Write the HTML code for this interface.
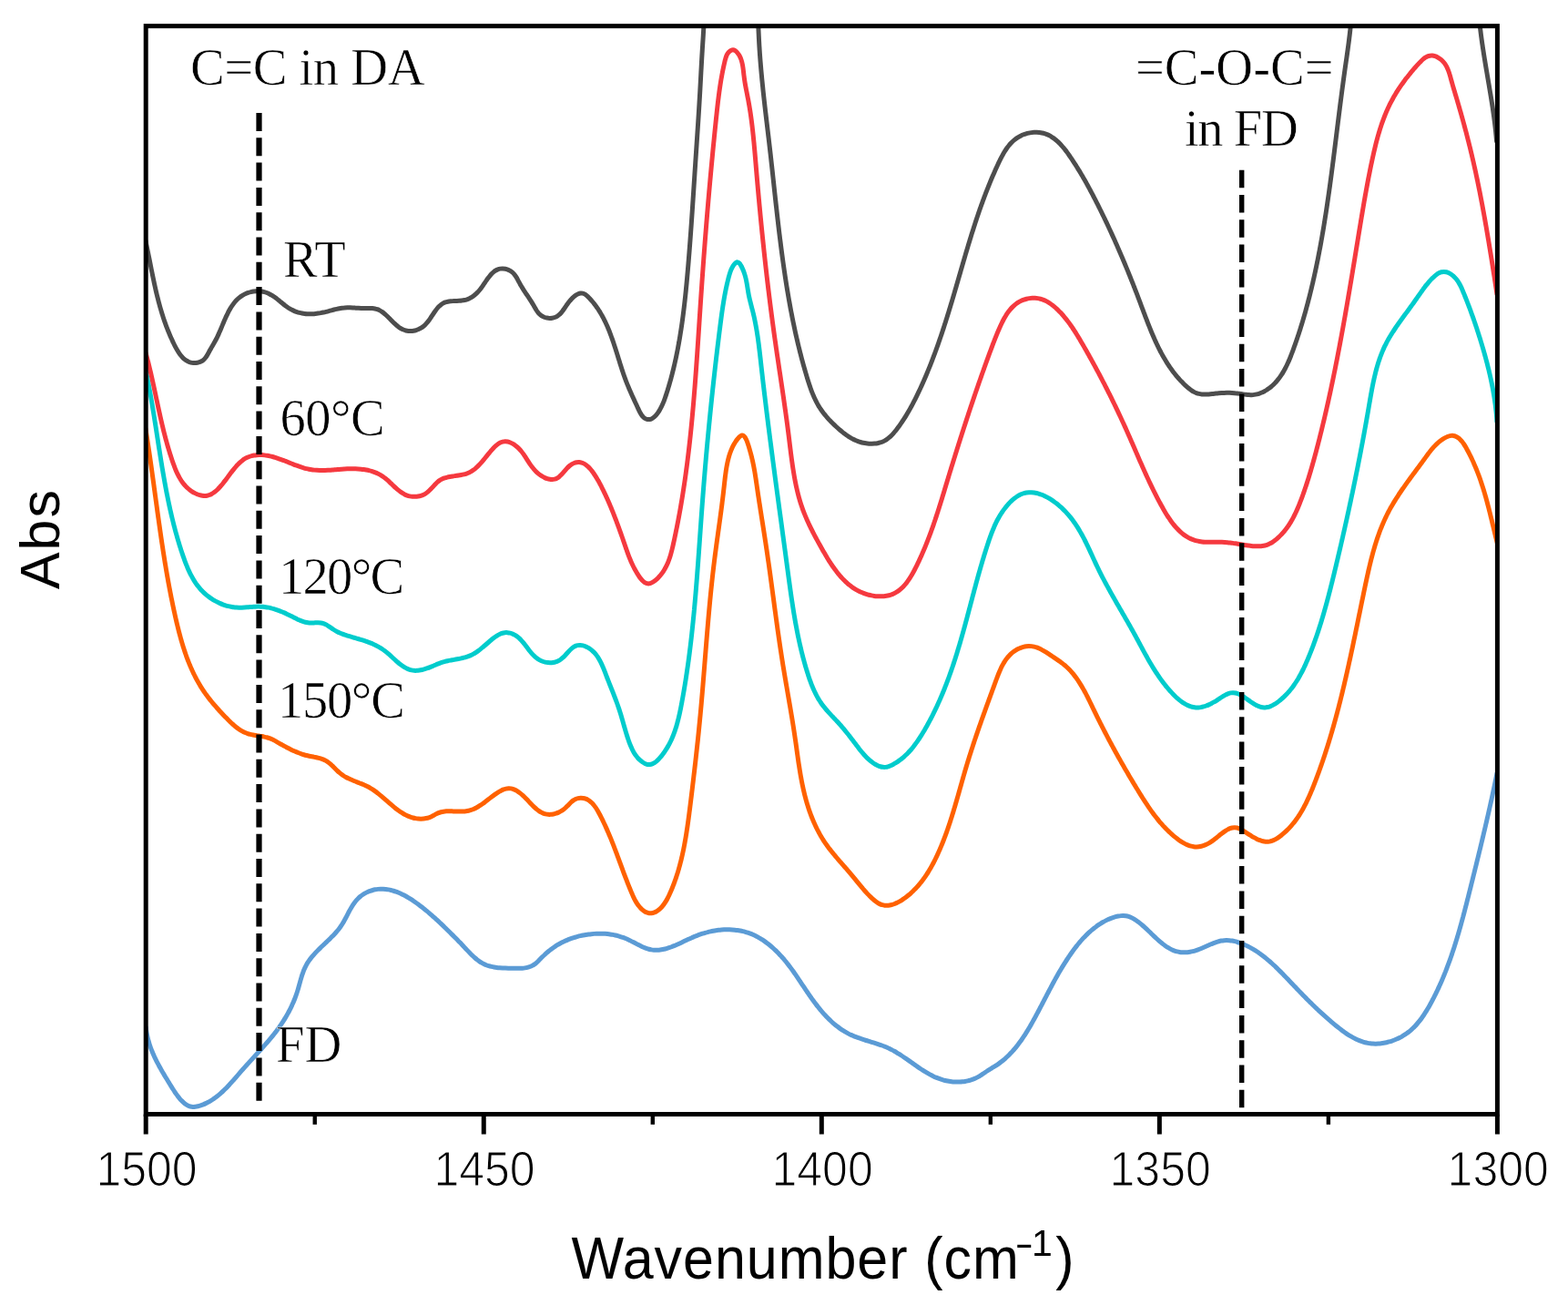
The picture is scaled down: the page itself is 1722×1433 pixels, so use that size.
<!DOCTYPE html>
<html><head><meta charset="utf-8"><title>FTIR spectra</title>
<style>
html,body{margin:0;padding:0;background:#fff;width:1722px;height:1433px;overflow:hidden}
svg{display:block}
.c path{fill:none;stroke-width:5.0;stroke-linejoin:round;stroke-linecap:round}
.sf{font-family:"Liberation Serif","Times New Roman",serif;font-size:56.5px;fill:#000;stroke:#fff;stroke-width:0.6px;paint-order:fill}
.tk{font-family:"Liberation Sans",Arial,sans-serif;font-size:50px;fill:#000;text-anchor:middle;stroke:#fff;stroke-width:1.1px;paint-order:fill}
.ax{font-family:"Liberation Sans",Arial,sans-serif;font-size:61px;fill:#000}
</style></head>
<body>
<svg xmlns="http://www.w3.org/2000/svg" width="1722" height="1433" viewBox="0 0 1722 1433">
<defs><clipPath id="pa"><rect x="160.2" y="28.6" width="1484.20" height="1194.90"/></clipPath></defs>
<rect x="0" y="0" width="1722" height="1433" fill="#fff"/>
<g class="c" clip-path="url(#pa)">
<path d="M160.10,1127.84 C160.24,1128.89 160.36,1129.95 160.52,1130.99 C160.67,1132.02 160.84,1133.05 161.03,1134.07 C161.22,1135.09 161.42,1136.10 161.63,1137.10 C161.85,1138.10 162.08,1139.09 162.32,1140.08 C162.57,1141.06 162.83,1142.03 163.10,1143.00 C163.37,1143.97 163.66,1144.93 163.95,1145.88 C164.25,1146.83 164.56,1147.77 164.89,1148.71 C165.21,1149.65 165.54,1150.58 165.89,1151.51 C166.23,1152.44 166.59,1153.35 166.96,1154.27 C167.33,1155.18 167.71,1156.09 168.09,1157.00 C168.48,1157.90 168.88,1158.80 169.29,1159.69 C169.70,1160.59 170.12,1161.48 170.54,1162.37 C170.97,1163.25 171.40,1164.14 171.84,1165.02 C172.29,1165.90 172.74,1166.77 173.20,1167.65 C173.65,1168.52 174.12,1169.39 174.59,1170.26 C175.06,1171.13 175.54,1172.00 176.03,1172.86 C176.51,1173.73 177.00,1174.59 177.50,1175.46 C177.99,1176.32 178.50,1177.18 179.00,1178.04 C179.51,1178.91 180.02,1179.77 180.53,1180.63 C181.05,1181.49 181.57,1182.36 182.09,1183.22 C182.61,1184.08 183.14,1184.95 183.67,1185.81 C184.19,1186.68 184.73,1187.55 185.26,1188.41 C185.79,1189.28 186.33,1190.16 186.86,1191.03 C187.40,1191.90 187.94,1192.78 188.48,1193.65 C189.02,1194.53 189.56,1195.40 190.12,1196.27 C190.67,1197.14 191.23,1198.01 191.80,1198.87 C192.37,1199.72 192.95,1200.57 193.55,1201.41 C194.14,1202.24 194.75,1203.07 195.37,1203.88 C196.00,1204.69 196.64,1205.49 197.30,1206.26 C197.96,1207.03 198.64,1207.79 199.34,1208.52 C200.04,1209.25 200.76,1209.97 201.52,1210.64 C202.27,1211.31 203.04,1211.97 203.84,1212.54 C204.64,1213.11 205.46,1213.65 206.32,1214.06 C207.17,1214.47 208.06,1214.80 208.97,1215.03 C209.87,1215.25 210.81,1215.36 211.75,1215.40 C212.69,1215.44 213.66,1215.37 214.62,1215.26 C215.59,1215.15 216.56,1214.95 217.52,1214.72 C218.50,1214.49 219.47,1214.19 220.42,1213.88 C221.37,1213.56 222.32,1213.20 223.25,1212.83 C224.18,1212.45 225.09,1212.05 225.99,1211.63 C226.89,1211.21 227.77,1210.76 228.65,1210.30 C229.52,1209.83 230.37,1209.35 231.22,1208.84 C232.06,1208.33 232.89,1207.81 233.71,1207.26 C234.53,1206.72 235.34,1206.16 236.14,1205.58 C236.94,1205.00 237.72,1204.40 238.50,1203.79 C239.27,1203.18 240.04,1202.55 240.80,1201.91 C241.55,1201.27 242.30,1200.62 243.04,1199.95 C243.78,1199.29 244.51,1198.61 245.24,1197.92 C245.96,1197.23 246.68,1196.53 247.39,1195.82 C248.10,1195.11 248.80,1194.38 249.50,1193.66 C250.20,1192.93 250.89,1192.19 251.58,1191.45 C252.27,1190.71 252.96,1189.96 253.64,1189.20 C254.32,1188.45 254.99,1187.69 255.67,1186.93 C256.34,1186.16 257.01,1185.40 257.68,1184.63 C258.35,1183.86 259.02,1183.08 259.68,1182.31 C260.35,1181.54 261.02,1180.77 261.68,1179.99 C262.35,1179.22 263.01,1178.45 263.68,1177.68 C264.34,1176.91 265.01,1176.14 265.68,1175.37 C266.35,1174.61 267.02,1173.85 267.69,1173.09 C268.36,1172.33 269.04,1171.58 269.71,1170.83 C270.39,1170.07 271.06,1169.33 271.74,1168.58 C272.42,1167.83 273.09,1167.09 273.77,1166.35 C274.45,1165.61 275.13,1164.87 275.81,1164.13 C276.48,1163.39 277.16,1162.65 277.84,1161.91 C278.52,1161.18 279.20,1160.44 279.87,1159.71 C280.55,1158.97 281.22,1158.24 281.90,1157.51 C282.57,1156.77 283.25,1156.04 283.92,1155.30 C284.59,1154.57 285.26,1153.84 285.93,1153.10 C286.59,1152.36 287.26,1151.63 287.92,1150.89 C288.59,1150.15 289.25,1149.41 289.91,1148.67 C290.56,1147.93 291.22,1147.19 291.87,1146.44 C292.52,1145.70 293.17,1144.95 293.82,1144.20 C294.46,1143.45 295.10,1142.69 295.74,1141.94 C296.38,1141.18 297.01,1140.42 297.64,1139.66 C298.27,1138.89 298.90,1138.13 299.51,1137.36 C300.13,1136.58 300.75,1135.81 301.36,1135.03 C301.97,1134.25 302.57,1133.46 303.17,1132.67 C303.77,1131.88 304.36,1131.09 304.95,1130.29 C305.54,1129.49 306.12,1128.68 306.69,1127.87 C307.27,1127.05 307.83,1126.24 308.40,1125.41 C308.96,1124.59 309.51,1123.76 310.06,1122.93 C310.61,1122.09 311.15,1121.25 311.68,1120.40 C312.21,1119.56 312.73,1118.71 313.25,1117.85 C313.77,1116.99 314.28,1116.13 314.78,1115.26 C315.28,1114.39 315.77,1113.52 316.25,1112.64 C316.73,1111.76 317.21,1110.88 317.67,1109.99 C318.14,1109.10 318.60,1108.20 319.04,1107.30 C319.49,1106.40 319.93,1105.50 320.35,1104.59 C320.78,1103.68 321.20,1102.76 321.60,1101.84 C322.01,1100.92 322.41,1099.99 322.79,1099.06 C323.18,1098.13 323.55,1097.19 323.92,1096.25 C324.28,1095.30 324.63,1094.36 324.97,1093.40 C325.31,1092.45 325.64,1091.49 325.96,1090.53 C326.28,1089.57 326.58,1088.60 326.88,1087.63 C327.18,1086.66 327.46,1085.68 327.74,1084.70 C328.02,1083.72 328.29,1082.74 328.57,1081.76 C328.84,1080.78 329.11,1079.80 329.38,1078.83 C329.65,1077.85 329.92,1076.87 330.20,1075.90 C330.48,1074.93 330.76,1073.96 331.06,1073.00 C331.35,1072.04 331.65,1071.08 331.97,1070.13 C332.29,1069.18 332.61,1068.24 332.96,1067.31 C333.31,1066.38 333.67,1065.46 334.05,1064.55 C334.44,1063.64 334.84,1062.74 335.27,1061.86 C335.70,1060.97 336.16,1060.10 336.64,1059.25 C337.12,1058.39 337.63,1057.55 338.16,1056.72 C338.69,1055.90 339.24,1055.08 339.82,1054.28 C340.39,1053.48 340.99,1052.69 341.60,1051.91 C342.21,1051.12 342.85,1050.36 343.49,1049.60 C344.14,1048.84 344.80,1048.09 345.47,1047.34 C346.15,1046.60 346.84,1045.87 347.53,1045.14 C348.23,1044.41 348.94,1043.69 349.65,1042.98 C350.37,1042.26 351.09,1041.55 351.82,1040.85 C352.54,1040.14 353.27,1039.44 354.01,1038.74 C354.74,1038.05 355.48,1037.35 356.21,1036.66 C356.94,1035.97 357.68,1035.28 358.41,1034.58 C359.13,1033.89 359.86,1033.20 360.58,1032.51 C361.30,1031.82 362.02,1031.13 362.73,1030.43 C363.44,1029.74 364.14,1029.04 364.83,1028.33 C365.52,1027.62 366.21,1026.91 366.88,1026.19 C367.55,1025.47 368.22,1024.75 368.87,1024.01 C369.52,1023.27 370.16,1022.52 370.78,1021.76 C371.41,1021.00 372.02,1020.23 372.62,1019.44 C373.21,1018.65 373.79,1017.85 374.36,1017.03 C374.92,1016.21 375.46,1015.37 375.99,1014.52 C376.53,1013.67 377.04,1012.80 377.54,1011.92 C378.04,1011.04 378.53,1010.14 379.02,1009.25 C379.50,1008.35 379.98,1007.44 380.45,1006.53 C380.93,1005.62 381.40,1004.71 381.87,1003.79 C382.35,1002.88 382.82,1001.97 383.31,1001.06 C383.79,1000.16 384.28,999.26 384.78,998.37 C385.28,997.48 385.79,996.59 386.32,995.72 C386.84,994.86 387.38,994.00 387.94,993.17 C388.50,992.33 389.08,991.51 389.69,990.71 C390.29,989.92 390.92,989.14 391.58,988.40 C392.23,987.65 392.92,986.93 393.64,986.24 C394.35,985.55 395.11,984.89 395.89,984.26 C396.67,983.63 397.49,983.04 398.32,982.48 C399.16,981.92 400.03,981.40 400.91,980.91 C401.80,980.42 402.70,979.96 403.62,979.55 C404.54,979.13 405.48,978.75 406.42,978.41 C407.36,978.07 408.32,977.76 409.28,977.50 C410.23,977.23 411.20,977.01 412.17,976.82 C413.12,976.64 414.09,976.50 415.05,976.39 C416.01,976.28 416.97,976.22 417.93,976.19 C418.89,976.16 419.85,976.17 420.81,976.21 C421.77,976.25 422.72,976.33 423.68,976.43 C424.63,976.54 425.58,976.68 426.53,976.85 C427.48,977.03 428.43,977.23 429.37,977.46 C430.32,977.69 431.26,977.95 432.20,978.24 C433.14,978.52 434.07,978.84 435.00,979.17 C435.94,979.51 436.86,979.87 437.79,980.26 C438.71,980.64 439.63,981.05 440.55,981.48 C441.46,981.90 442.38,982.35 443.28,982.82 C444.19,983.29 445.09,983.77 445.99,984.28 C446.89,984.78 447.78,985.30 448.67,985.83 C449.55,986.36 450.43,986.91 451.31,987.47 C452.18,988.03 453.05,988.61 453.92,989.19 C454.78,989.78 455.64,990.37 456.49,990.98 C457.34,991.58 458.18,992.19 459.02,992.81 C459.85,993.43 460.68,994.06 461.51,994.69 C462.33,995.32 463.14,995.95 463.95,996.59 C464.76,997.23 465.55,997.87 466.35,998.51 C467.14,999.15 467.92,999.79 468.70,1000.44 C469.47,1001.08 470.24,1001.72 471.00,1002.37 C471.76,1003.02 472.52,1003.66 473.27,1004.31 C474.01,1004.96 474.76,1005.61 475.49,1006.26 C476.23,1006.91 476.96,1007.57 477.69,1008.22 C478.42,1008.88 479.14,1009.53 479.86,1010.19 C480.57,1010.85 481.29,1011.51 482.00,1012.17 C482.71,1012.83 483.41,1013.50 484.12,1014.16 C484.82,1014.83 485.52,1015.49 486.22,1016.16 C486.92,1016.83 487.62,1017.51 488.32,1018.18 C489.01,1018.85 489.71,1019.53 490.40,1020.21 C491.09,1020.89 491.79,1021.57 492.48,1022.25 C493.17,1022.93 493.86,1023.62 494.55,1024.31 C495.25,1024.99 495.94,1025.69 496.63,1026.38 C497.33,1027.07 498.03,1027.77 498.72,1028.47 C499.42,1029.17 500.12,1029.87 500.81,1030.57 C501.51,1031.28 502.21,1031.99 502.91,1032.70 C503.60,1033.41 504.30,1034.13 504.99,1034.85 C505.69,1035.57 506.38,1036.29 507.07,1037.02 C507.76,1037.75 508.45,1038.48 509.14,1039.22 C509.83,1039.96 510.51,1040.70 511.20,1041.44 C511.88,1042.17 512.57,1042.91 513.26,1043.65 C513.95,1044.38 514.64,1045.11 515.34,1045.83 C516.03,1046.55 516.73,1047.27 517.44,1047.97 C518.15,1048.67 518.86,1049.36 519.59,1050.03 C520.31,1050.70 521.04,1051.37 521.78,1052.01 C522.53,1052.64 523.28,1053.27 524.05,1053.86 C524.81,1054.46 525.59,1055.04 526.38,1055.58 C527.18,1056.13 527.99,1056.66 528.81,1057.15 C529.64,1057.64 530.48,1058.10 531.34,1058.53 C532.20,1058.96 533.09,1059.35 533.99,1059.71 C534.89,1060.07 535.81,1060.38 536.75,1060.67 C537.69,1060.96 538.66,1061.21 539.63,1061.43 C540.60,1061.65 541.60,1061.84 542.59,1062.01 C543.60,1062.18 544.62,1062.32 545.64,1062.44 C546.66,1062.57 547.70,1062.66 548.74,1062.75 C549.78,1062.84 550.83,1062.90 551.88,1062.96 C552.93,1063.01 553.99,1063.05 555.04,1063.08 C556.10,1063.12 557.16,1063.14 558.21,1063.16 C559.27,1063.19 560.32,1063.20 561.37,1063.22 C562.42,1063.24 563.46,1063.26 564.50,1063.27 C565.53,1063.29 566.56,1063.31 567.59,1063.31 C568.60,1063.32 569.61,1063.32 570.62,1063.29 C571.61,1063.26 572.60,1063.23 573.58,1063.15 C574.55,1063.08 575.51,1062.99 576.46,1062.85 C577.40,1062.71 578.33,1062.54 579.25,1062.32 C580.16,1062.10 581.06,1061.85 581.93,1061.52 C582.81,1061.20 583.67,1060.84 584.50,1060.40 C585.34,1059.96 586.15,1059.45 586.94,1058.90 C587.74,1058.33 588.50,1057.69 589.25,1057.03 C590.01,1056.36 590.75,1055.64 591.48,1054.92 C592.22,1054.20 592.94,1053.45 593.66,1052.72 C594.39,1052.00 595.11,1051.27 595.84,1050.56 C596.57,1049.86 597.30,1049.16 598.03,1048.48 C598.76,1047.80 599.50,1047.13 600.25,1046.48 C600.99,1045.82 601.74,1045.18 602.50,1044.56 C603.26,1043.93 604.02,1043.32 604.80,1042.72 C605.57,1042.12 606.36,1041.54 607.15,1040.97 C607.95,1040.40 608.76,1039.85 609.58,1039.31 C610.40,1038.77 611.24,1038.24 612.09,1037.73 C612.94,1037.22 613.80,1036.73 614.67,1036.25 C615.54,1035.77 616.43,1035.30 617.32,1034.85 C618.22,1034.40 619.13,1033.97 620.04,1033.55 C620.96,1033.13 621.89,1032.72 622.82,1032.33 C623.76,1031.94 624.70,1031.57 625.65,1031.21 C626.60,1030.85 627.56,1030.51 628.52,1030.18 C629.49,1029.86 630.46,1029.54 631.44,1029.25 C632.41,1028.95 633.40,1028.67 634.38,1028.41 C635.37,1028.14 636.36,1027.89 637.35,1027.66 C638.35,1027.43 639.35,1027.21 640.35,1027.01 C641.35,1026.81 642.35,1026.62 643.35,1026.46 C644.36,1026.29 645.36,1026.13 646.37,1026.00 C647.37,1025.86 648.38,1025.74 649.38,1025.64 C650.38,1025.54 651.39,1025.45 652.39,1025.38 C653.39,1025.31 654.39,1025.26 655.39,1025.22 C656.38,1025.18 657.38,1025.16 658.37,1025.16 C659.35,1025.16 660.34,1025.17 661.32,1025.20 C662.30,1025.23 663.28,1025.28 664.25,1025.34 C665.22,1025.41 666.18,1025.49 667.14,1025.59 C668.10,1025.69 669.06,1025.80 670.01,1025.94 C670.97,1026.08 671.92,1026.23 672.86,1026.41 C673.81,1026.58 674.76,1026.78 675.70,1026.99 C676.64,1027.21 677.58,1027.44 678.52,1027.69 C679.46,1027.95 680.40,1028.22 681.34,1028.52 C682.28,1028.82 683.22,1029.13 684.15,1029.47 C685.10,1029.81 686.03,1030.17 686.97,1030.56 C687.92,1030.94 688.86,1031.35 689.79,1031.78 C690.74,1032.21 691.69,1032.66 692.63,1033.13 C693.58,1033.60 694.53,1034.09 695.47,1034.58 C696.42,1035.08 697.37,1035.58 698.32,1036.08 C699.27,1036.58 700.22,1037.08 701.18,1037.57 C702.13,1038.05 703.08,1038.53 704.03,1038.99 C704.97,1039.44 705.92,1039.88 706.88,1040.29 C707.82,1040.69 708.76,1041.07 709.71,1041.40 C710.65,1041.73 711.59,1042.04 712.54,1042.29 C713.47,1042.53 714.41,1042.74 715.34,1042.89 C716.27,1043.05 717.21,1043.16 718.14,1043.23 C719.06,1043.30 719.99,1043.32 720.92,1043.31 C721.84,1043.31 722.77,1043.25 723.69,1043.17 C724.61,1043.09 725.53,1042.97 726.45,1042.82 C727.37,1042.67 728.29,1042.49 729.21,1042.28 C730.13,1042.07 731.05,1041.83 731.96,1041.57 C732.88,1041.31 733.80,1041.02 734.72,1040.71 C735.64,1040.40 736.55,1040.07 737.47,1039.73 C738.39,1039.38 739.31,1039.01 740.23,1038.63 C741.15,1038.25 742.07,1037.85 742.99,1037.45 C743.91,1037.04 744.84,1036.63 745.76,1036.20 C746.69,1035.78 747.61,1035.34 748.54,1034.91 C749.47,1034.47 750.40,1034.03 751.33,1033.59 C752.27,1033.14 753.20,1032.70 754.14,1032.26 C755.08,1031.82 756.02,1031.38 756.96,1030.94 C757.91,1030.51 758.86,1030.08 759.81,1029.66 C760.76,1029.25 761.71,1028.83 762.67,1028.44 C763.63,1028.04 764.59,1027.66 765.56,1027.29 C766.53,1026.92 767.50,1026.56 768.47,1026.22 C769.44,1025.88 770.42,1025.55 771.40,1025.24 C772.38,1024.93 773.36,1024.63 774.35,1024.35 C775.33,1024.07 776.32,1023.80 777.31,1023.55 C778.30,1023.30 779.29,1023.07 780.28,1022.85 C781.27,1022.63 782.27,1022.43 783.26,1022.24 C784.26,1022.06 785.25,1021.89 786.25,1021.74 C787.24,1021.58 788.24,1021.45 789.23,1021.33 C790.23,1021.21 791.22,1021.11 792.22,1021.03 C793.21,1020.94 794.20,1020.88 795.19,1020.83 C796.18,1020.78 797.18,1020.75 798.17,1020.74 C799.15,1020.73 800.14,1020.73 801.13,1020.76 C802.11,1020.78 803.09,1020.83 804.07,1020.89 C805.05,1020.95 806.03,1021.04 807.00,1021.14 C807.97,1021.24 808.94,1021.36 809.91,1021.50 C810.87,1021.64 811.84,1021.80 812.79,1021.98 C813.75,1022.17 814.70,1022.37 815.65,1022.59 C816.60,1022.81 817.54,1023.05 818.48,1023.32 C819.42,1023.58 820.35,1023.86 821.28,1024.17 C822.20,1024.47 823.12,1024.80 824.04,1025.15 C824.95,1025.50 825.86,1025.87 826.76,1026.26 C827.66,1026.65 828.56,1027.07 829.44,1027.50 C830.33,1027.94 831.21,1028.39 832.08,1028.87 C832.95,1029.34 833.81,1029.84 834.67,1030.35 C835.53,1030.86 836.38,1031.40 837.22,1031.94 C838.06,1032.49 838.89,1033.06 839.72,1033.64 C840.54,1034.22 841.36,1034.81 842.17,1035.42 C842.98,1036.03 843.78,1036.66 844.57,1037.29 C845.36,1037.93 846.14,1038.58 846.92,1039.25 C847.69,1039.91 848.46,1040.58 849.21,1041.27 C849.97,1041.95 850.72,1042.65 851.46,1043.35 C852.20,1044.06 852.92,1044.77 853.64,1045.50 C854.36,1046.22 855.07,1046.95 855.77,1047.69 C856.47,1048.42 857.16,1049.17 857.85,1049.92 C858.52,1050.67 859.20,1051.42 859.86,1052.18 C860.52,1052.94 861.17,1053.71 861.81,1054.48 C862.45,1055.25 863.09,1056.02 863.71,1056.80 C864.34,1057.58 864.96,1058.36 865.57,1059.14 C866.18,1059.93 866.78,1060.72 867.38,1061.51 C867.98,1062.30 868.57,1063.10 869.15,1063.90 C869.74,1064.70 870.32,1065.50 870.89,1066.31 C871.47,1067.11 872.04,1067.92 872.61,1068.73 C873.17,1069.54 873.74,1070.35 874.30,1071.16 C874.86,1071.98 875.41,1072.79 875.97,1073.61 C876.52,1074.43 877.07,1075.25 877.62,1076.07 C878.18,1076.89 878.72,1077.71 879.27,1078.53 C879.82,1079.36 880.37,1080.18 880.92,1081.01 C881.47,1081.83 882.02,1082.65 882.57,1083.48 C883.12,1084.30 883.67,1085.13 884.22,1085.95 C884.77,1086.78 885.33,1087.60 885.89,1088.43 C886.44,1089.25 887.00,1090.08 887.57,1090.90 C888.13,1091.72 888.70,1092.54 889.27,1093.36 C889.84,1094.18 890.42,1095.00 891.00,1095.82 C891.58,1096.64 892.17,1097.46 892.76,1098.27 C893.35,1099.08 893.95,1099.90 894.55,1100.71 C895.16,1101.52 895.77,1102.32 896.39,1103.13 C897.01,1103.93 897.63,1104.73 898.26,1105.52 C898.89,1106.32 899.53,1107.11 900.18,1107.90 C900.82,1108.68 901.47,1109.46 902.13,1110.24 C902.79,1111.01 903.46,1111.78 904.13,1112.54 C904.80,1113.30 905.49,1114.05 906.18,1114.79 C906.86,1115.54 907.56,1116.27 908.26,1117.00 C908.97,1117.73 909.68,1118.44 910.40,1119.15 C911.12,1119.86 911.85,1120.56 912.58,1121.24 C913.32,1121.93 914.06,1122.60 914.81,1123.27 C915.57,1123.93 916.33,1124.58 917.10,1125.22 C917.86,1125.85 918.64,1126.48 919.43,1127.09 C920.21,1127.70 921.01,1128.30 921.81,1128.88 C922.62,1129.46 923.43,1130.03 924.25,1130.58 C925.07,1131.13 925.90,1131.67 926.74,1132.19 C927.58,1132.71 928.43,1133.21 929.29,1133.70 C930.15,1134.18 931.02,1134.65 931.89,1135.10 C932.77,1135.54 933.66,1135.97 934.56,1136.39 C935.45,1136.80 936.36,1137.19 937.27,1137.58 C938.18,1137.96 939.10,1138.32 940.03,1138.68 C940.95,1139.04 941.88,1139.38 942.82,1139.71 C943.76,1140.04 944.70,1140.37 945.65,1140.68 C946.60,1141.00 947.55,1141.31 948.50,1141.61 C949.45,1141.92 950.41,1142.21 951.37,1142.51 C952.33,1142.81 953.29,1143.10 954.25,1143.39 C955.21,1143.68 956.17,1143.97 957.13,1144.27 C958.09,1144.56 959.06,1144.86 960.01,1145.16 C960.97,1145.46 961.93,1145.76 962.89,1146.07 C963.84,1146.38 964.79,1146.70 965.74,1147.03 C966.69,1147.35 967.63,1147.68 968.57,1148.03 C969.51,1148.38 970.45,1148.73 971.38,1149.10 C972.30,1149.48 973.23,1149.86 974.14,1150.26 C975.06,1150.66 975.96,1151.07 976.86,1151.51 C977.76,1151.94 978.66,1152.39 979.54,1152.85 C980.43,1153.32 981.30,1153.80 982.18,1154.29 C983.05,1154.78 983.92,1155.28 984.78,1155.80 C985.64,1156.31 986.49,1156.84 987.34,1157.37 C988.20,1157.91 989.04,1158.45 989.89,1159.01 C990.73,1159.56 991.57,1160.12 992.40,1160.69 C993.24,1161.25 994.07,1161.82 994.91,1162.40 C995.74,1162.97 996.57,1163.56 997.39,1164.14 C998.22,1164.72 999.05,1165.31 999.87,1165.89 C1000.70,1166.47 1001.52,1167.06 1002.35,1167.65 C1003.17,1168.23 1004.00,1168.82 1004.82,1169.40 C1005.65,1169.98 1006.48,1170.55 1007.31,1171.13 C1008.13,1171.70 1008.96,1172.27 1009.80,1172.83 C1010.63,1173.39 1011.47,1173.95 1012.30,1174.50 C1013.14,1175.04 1013.98,1175.59 1014.83,1176.12 C1015.68,1176.64 1016.52,1177.16 1017.38,1177.67 C1018.23,1178.18 1019.09,1178.68 1019.96,1179.16 C1020.82,1179.64 1021.69,1180.11 1022.57,1180.57 C1023.45,1181.02 1024.33,1181.46 1025.22,1181.89 C1026.11,1182.31 1027.01,1182.72 1027.91,1183.10 C1028.82,1183.49 1029.73,1183.86 1030.65,1184.21 C1031.57,1184.55 1032.50,1184.88 1033.44,1185.19 C1034.38,1185.49 1035.33,1185.78 1036.28,1186.04 C1037.24,1186.30 1038.21,1186.54 1039.18,1186.75 C1040.15,1186.96 1041.13,1187.15 1042.11,1187.32 C1043.09,1187.48 1044.07,1187.62 1045.06,1187.74 C1046.05,1187.85 1047.05,1187.94 1048.04,1188.00 C1049.03,1188.07 1050.03,1188.10 1051.02,1188.11 C1052.01,1188.12 1053.01,1188.10 1054.00,1188.06 C1054.99,1188.01 1055.98,1187.94 1056.97,1187.83 C1057.95,1187.73 1058.94,1187.60 1059.91,1187.43 C1060.89,1187.27 1061.86,1187.08 1062.83,1186.86 C1063.79,1186.63 1064.75,1186.38 1065.70,1186.10 C1066.65,1185.81 1067.59,1185.49 1068.52,1185.14 C1069.45,1184.80 1070.37,1184.41 1071.27,1184.00 C1072.18,1183.59 1073.08,1183.14 1073.96,1182.66 C1074.84,1182.18 1075.70,1181.65 1076.56,1181.12 C1077.42,1180.58 1078.27,1180.02 1079.12,1179.45 C1079.97,1178.88 1080.80,1178.29 1081.65,1177.71 C1082.49,1177.13 1083.34,1176.54 1084.19,1175.97 C1085.04,1175.40 1085.90,1174.84 1086.77,1174.30 C1087.64,1173.76 1088.52,1173.25 1089.40,1172.73 C1090.27,1172.21 1091.15,1171.70 1092.01,1171.17 C1092.87,1170.65 1093.72,1170.11 1094.56,1169.55 C1095.40,1169.00 1096.22,1168.43 1097.04,1167.85 C1097.85,1167.27 1098.65,1166.68 1099.43,1166.07 C1100.22,1165.46 1100.99,1164.84 1101.76,1164.21 C1102.52,1163.58 1103.27,1162.93 1104.01,1162.27 C1104.75,1161.62 1105.48,1160.95 1106.20,1160.27 C1106.92,1159.59 1107.63,1158.90 1108.33,1158.20 C1109.02,1157.50 1109.71,1156.79 1110.39,1156.07 C1111.07,1155.35 1111.73,1154.62 1112.39,1153.88 C1113.05,1153.14 1113.70,1152.39 1114.34,1151.63 C1114.98,1150.88 1115.61,1150.11 1116.23,1149.34 C1116.85,1148.56 1117.47,1147.78 1118.07,1146.99 C1118.68,1146.20 1119.28,1145.40 1119.87,1144.60 C1120.46,1143.79 1121.04,1142.98 1121.62,1142.17 C1122.19,1141.35 1122.76,1140.52 1123.32,1139.70 C1123.88,1138.87 1124.44,1138.03 1124.99,1137.19 C1125.54,1136.35 1126.08,1135.50 1126.62,1134.66 C1127.15,1133.81 1127.68,1132.95 1128.21,1132.09 C1128.74,1131.23 1129.26,1130.37 1129.77,1129.51 C1130.29,1128.64 1130.80,1127.77 1131.30,1126.90 C1131.81,1126.03 1132.31,1125.15 1132.81,1124.28 C1133.31,1123.40 1133.80,1122.52 1134.29,1121.64 C1134.78,1120.76 1135.27,1119.88 1135.75,1118.99 C1136.24,1118.11 1136.72,1117.23 1137.19,1116.34 C1137.67,1115.46 1138.15,1114.57 1138.62,1113.69 C1139.09,1112.80 1139.56,1111.92 1140.03,1111.03 C1140.50,1110.15 1140.97,1109.26 1141.43,1108.38 C1141.90,1107.49 1142.36,1106.61 1142.82,1105.72 C1143.29,1104.84 1143.75,1103.95 1144.21,1103.07 C1144.67,1102.18 1145.13,1101.30 1145.59,1100.41 C1146.05,1099.53 1146.50,1098.64 1146.96,1097.76 C1147.42,1096.88 1147.88,1095.99 1148.34,1095.11 C1148.80,1094.23 1149.25,1093.34 1149.71,1092.46 C1150.17,1091.58 1150.63,1090.70 1151.09,1089.82 C1151.55,1088.94 1152.01,1088.06 1152.48,1087.18 C1152.94,1086.30 1153.40,1085.42 1153.87,1084.54 C1154.33,1083.67 1154.80,1082.79 1155.27,1081.91 C1155.73,1081.04 1156.20,1080.16 1156.68,1079.29 C1157.15,1078.42 1157.63,1077.54 1158.10,1076.67 C1158.58,1075.80 1159.06,1074.93 1159.54,1074.06 C1160.03,1073.19 1160.51,1072.33 1161.00,1071.46 C1161.49,1070.59 1161.98,1069.73 1162.48,1068.87 C1162.98,1068.00 1163.48,1067.14 1163.98,1066.28 C1164.48,1065.42 1164.99,1064.56 1165.50,1063.70 C1166.01,1062.85 1166.53,1061.99 1167.05,1061.14 C1167.57,1060.28 1168.10,1059.43 1168.63,1058.58 C1169.16,1057.73 1169.70,1056.88 1170.24,1056.04 C1170.78,1055.19 1171.32,1054.35 1171.88,1053.50 C1172.43,1052.66 1172.99,1051.82 1173.55,1050.98 C1174.11,1050.15 1174.68,1049.31 1175.26,1048.48 C1175.84,1047.64 1176.42,1046.81 1177.01,1045.98 C1177.60,1045.16 1178.19,1044.33 1178.80,1043.51 C1179.40,1042.69 1180.01,1041.88 1180.63,1041.07 C1181.24,1040.26 1181.87,1039.45 1182.50,1038.66 C1183.13,1037.86 1183.77,1037.06 1184.41,1036.28 C1185.06,1035.49 1185.71,1034.72 1186.38,1033.94 C1187.04,1033.17 1187.71,1032.41 1188.39,1031.66 C1189.06,1030.90 1189.75,1030.16 1190.44,1029.42 C1191.14,1028.69 1191.84,1027.96 1192.55,1027.24 C1193.26,1026.53 1193.98,1025.82 1194.71,1025.13 C1195.44,1024.44 1196.17,1023.75 1196.92,1023.08 C1197.67,1022.41 1198.42,1021.75 1199.19,1021.11 C1199.95,1020.47 1200.73,1019.83 1201.51,1019.21 C1202.29,1018.60 1203.09,1017.99 1203.89,1017.40 C1204.69,1016.82 1205.51,1016.24 1206.33,1015.68 C1207.15,1015.12 1207.99,1014.58 1208.83,1014.06 C1209.67,1013.53 1210.53,1013.02 1211.39,1012.53 C1212.26,1012.04 1213.13,1011.56 1214.02,1011.11 C1214.91,1010.65 1215.80,1010.21 1216.71,1009.79 C1217.62,1009.38 1218.54,1008.97 1219.47,1008.60 C1220.39,1008.22 1221.33,1007.87 1222.28,1007.55 C1223.22,1007.22 1224.18,1006.93 1225.13,1006.67 C1226.09,1006.42 1227.05,1006.20 1228.01,1006.02 C1228.97,1005.85 1229.94,1005.71 1230.90,1005.63 C1231.86,1005.56 1232.82,1005.52 1233.78,1005.55 C1234.74,1005.57 1235.70,1005.65 1236.64,1005.80 C1237.59,1005.95 1238.53,1006.15 1239.46,1006.43 C1240.39,1006.71 1241.32,1007.07 1242.22,1007.48 C1243.13,1007.89 1244.03,1008.38 1244.90,1008.89 C1245.79,1009.41 1246.65,1009.98 1247.49,1010.55 C1248.34,1011.12 1249.16,1011.73 1249.97,1012.33 C1250.77,1012.93 1251.55,1013.54 1252.32,1014.16 C1253.08,1014.77 1253.83,1015.40 1254.58,1016.03 C1255.32,1016.66 1256.05,1017.30 1256.77,1017.95 C1257.50,1018.60 1258.22,1019.26 1258.93,1019.92 C1259.66,1020.60 1260.38,1021.28 1261.10,1021.96 C1261.82,1022.66 1262.55,1023.36 1263.28,1024.07 C1264.02,1024.78 1264.75,1025.50 1265.50,1026.21 C1266.24,1026.93 1266.99,1027.65 1267.74,1028.37 C1268.50,1029.09 1269.26,1029.81 1270.02,1030.51 C1270.79,1031.22 1271.56,1031.93 1272.34,1032.62 C1273.12,1033.31 1273.91,1033.99 1274.70,1034.66 C1275.50,1035.32 1276.30,1035.98 1277.11,1036.61 C1277.92,1037.23 1278.73,1037.85 1279.56,1038.44 C1280.39,1039.02 1281.22,1039.59 1282.07,1040.12 C1282.91,1040.65 1283.76,1041.16 1284.63,1041.63 C1285.48,1042.10 1286.36,1042.55 1287.24,1042.95 C1288.12,1043.35 1289.01,1043.72 1289.92,1044.04 C1290.82,1044.36 1291.73,1044.65 1292.65,1044.88 C1293.58,1045.12 1294.51,1045.31 1295.45,1045.45 C1296.40,1045.60 1297.35,1045.70 1298.30,1045.77 C1299.26,1045.83 1300.23,1045.85 1301.19,1045.83 C1302.16,1045.81 1303.14,1045.75 1304.11,1045.66 C1305.08,1045.57 1306.06,1045.43 1307.04,1045.27 C1308.01,1045.10 1308.99,1044.90 1309.96,1044.67 C1310.94,1044.43 1311.91,1044.16 1312.87,1043.87 C1313.84,1043.57 1314.80,1043.24 1315.76,1042.89 C1316.72,1042.54 1317.67,1042.17 1318.62,1041.78 C1319.58,1041.39 1320.53,1040.98 1321.47,1040.57 C1322.42,1040.15 1323.36,1039.73 1324.31,1039.30 C1325.25,1038.88 1326.19,1038.45 1327.14,1038.03 C1328.08,1037.61 1329.02,1037.19 1329.96,1036.79 C1330.90,1036.40 1331.85,1036.00 1332.79,1035.63 C1333.74,1035.27 1334.68,1034.92 1335.63,1034.60 C1336.58,1034.28 1337.53,1033.98 1338.49,1033.73 C1339.44,1033.47 1340.40,1033.24 1341.36,1033.06 C1342.32,1032.88 1343.29,1032.74 1344.26,1032.65 C1345.23,1032.56 1346.20,1032.52 1347.18,1032.53 C1348.16,1032.53 1349.14,1032.59 1350.12,1032.68 C1351.10,1032.77 1352.09,1032.91 1353.07,1033.08 C1354.05,1033.24 1355.03,1033.45 1356.01,1033.69 C1356.98,1033.92 1357.96,1034.20 1358.92,1034.49 C1359.89,1034.78 1360.85,1035.11 1361.81,1035.45 C1362.76,1035.79 1363.71,1036.16 1364.65,1036.54 C1365.58,1036.92 1366.51,1037.32 1367.43,1037.73 C1368.34,1038.14 1369.25,1038.57 1370.15,1039.02 C1371.05,1039.46 1371.93,1039.92 1372.81,1040.39 C1373.69,1040.86 1374.56,1041.35 1375.43,1041.85 C1376.29,1042.35 1377.14,1042.86 1377.99,1043.39 C1378.83,1043.91 1379.67,1044.45 1380.50,1045.00 C1381.33,1045.55 1382.15,1046.11 1382.96,1046.68 C1383.78,1047.26 1384.58,1047.84 1385.38,1048.43 C1386.18,1049.03 1386.98,1049.63 1387.76,1050.24 C1388.55,1050.86 1389.33,1051.48 1390.11,1052.11 C1390.88,1052.74 1391.65,1053.38 1392.41,1054.03 C1393.18,1054.68 1393.93,1055.33 1394.69,1055.99 C1395.44,1056.66 1396.19,1057.33 1396.93,1058.00 C1397.67,1058.68 1398.41,1059.36 1399.14,1060.05 C1399.88,1060.74 1400.61,1061.43 1401.33,1062.13 C1402.06,1062.83 1402.78,1063.53 1403.50,1064.24 C1404.22,1064.95 1404.93,1065.66 1405.64,1066.37 C1406.36,1067.09 1407.07,1067.81 1407.77,1068.53 C1408.48,1069.25 1409.18,1069.97 1409.88,1070.70 C1410.59,1071.42 1411.29,1072.15 1411.98,1072.88 C1412.68,1073.61 1413.38,1074.34 1414.07,1075.07 C1414.77,1075.79 1415.46,1076.52 1416.16,1077.25 C1416.85,1077.98 1417.54,1078.71 1418.24,1079.44 C1418.93,1080.17 1419.62,1080.89 1420.31,1081.62 C1421.00,1082.34 1421.69,1083.07 1422.38,1083.79 C1423.08,1084.51 1423.77,1085.24 1424.46,1085.96 C1425.15,1086.68 1425.84,1087.39 1426.53,1088.11 C1427.23,1088.83 1427.92,1089.54 1428.61,1090.26 C1429.31,1090.97 1430.00,1091.69 1430.70,1092.40 C1431.39,1093.11 1432.09,1093.82 1432.79,1094.53 C1433.48,1095.23 1434.18,1095.94 1434.88,1096.65 C1435.58,1097.35 1436.28,1098.05 1436.99,1098.76 C1437.69,1099.46 1438.39,1100.16 1439.10,1100.85 C1439.81,1101.55 1440.51,1102.25 1441.22,1102.94 C1441.94,1103.64 1442.65,1104.33 1443.36,1105.02 C1444.08,1105.71 1444.79,1106.40 1445.51,1107.08 C1446.23,1107.77 1446.96,1108.45 1447.68,1109.13 C1448.41,1109.82 1449.13,1110.50 1449.86,1111.17 C1450.59,1111.85 1451.33,1112.53 1452.06,1113.20 C1452.80,1113.88 1453.54,1114.55 1454.28,1115.22 C1455.03,1115.88 1455.78,1116.55 1456.53,1117.21 C1457.28,1117.88 1458.03,1118.54 1458.79,1119.20 C1459.55,1119.86 1460.31,1120.52 1461.07,1121.17 C1461.84,1121.83 1462.61,1122.48 1463.39,1123.13 C1464.16,1123.78 1464.94,1124.42 1465.72,1125.07 C1466.51,1125.71 1467.29,1126.36 1468.09,1126.99 C1468.88,1127.63 1469.68,1128.27 1470.48,1128.90 C1471.28,1129.53 1472.09,1130.15 1472.90,1130.77 C1473.71,1131.39 1474.53,1132.00 1475.36,1132.60 C1476.18,1133.19 1477.01,1133.79 1477.84,1134.36 C1478.68,1134.94 1479.52,1135.51 1480.37,1136.06 C1481.21,1136.61 1482.07,1137.14 1482.93,1137.66 C1483.79,1138.18 1484.65,1138.69 1485.52,1139.17 C1486.40,1139.65 1487.27,1140.12 1488.16,1140.57 C1489.05,1141.01 1489.94,1141.43 1490.84,1141.83 C1491.74,1142.23 1492.64,1142.61 1493.56,1142.96 C1494.47,1143.31 1495.39,1143.64 1496.32,1143.94 C1497.25,1144.24 1498.19,1144.51 1499.13,1144.75 C1500.08,1144.99 1501.03,1145.20 1501.99,1145.37 C1502.95,1145.55 1503.92,1145.70 1504.89,1145.81 C1505.87,1145.93 1506.85,1146.01 1507.84,1146.07 C1508.82,1146.12 1509.81,1146.15 1510.80,1146.14 C1511.80,1146.14 1512.79,1146.10 1513.79,1146.04 C1514.78,1145.97 1515.78,1145.88 1516.78,1145.76 C1517.78,1145.64 1518.77,1145.50 1519.77,1145.32 C1520.76,1145.15 1521.75,1144.95 1522.74,1144.72 C1523.73,1144.50 1524.72,1144.25 1525.69,1143.97 C1526.67,1143.69 1527.65,1143.39 1528.61,1143.07 C1529.58,1142.74 1530.54,1142.39 1531.48,1142.02 C1532.43,1141.64 1533.38,1141.25 1534.31,1140.83 C1535.23,1140.41 1536.16,1139.97 1537.06,1139.50 C1537.97,1139.04 1538.86,1138.56 1539.75,1138.05 C1540.62,1137.55 1541.49,1137.02 1542.34,1136.47 C1543.19,1135.93 1544.03,1135.36 1544.85,1134.78 C1545.67,1134.19 1546.47,1133.59 1547.25,1132.97 C1548.03,1132.35 1548.80,1131.71 1549.55,1131.05 C1550.30,1130.40 1551.03,1129.72 1551.75,1129.03 C1552.47,1128.35 1553.17,1127.64 1553.86,1126.92 C1554.54,1126.21 1555.22,1125.47 1555.87,1124.73 C1556.53,1123.98 1557.18,1123.22 1557.81,1122.45 C1558.45,1121.68 1559.06,1120.90 1559.67,1120.11 C1560.28,1119.31 1560.88,1118.51 1561.46,1117.70 C1562.05,1116.88 1562.62,1116.06 1563.19,1115.23 C1563.75,1114.39 1564.30,1113.55 1564.85,1112.71 C1565.39,1111.86 1565.93,1111.01 1566.46,1110.15 C1566.98,1109.28 1567.50,1108.42 1568.01,1107.55 C1568.52,1106.68 1569.03,1105.80 1569.53,1104.92 C1570.02,1104.04 1570.51,1103.16 1571.00,1102.27 C1571.49,1101.39 1571.97,1100.50 1572.44,1099.61 C1572.91,1098.72 1573.38,1097.82 1573.85,1096.93 C1574.31,1096.04 1574.77,1095.14 1575.23,1094.24 C1575.68,1093.35 1576.13,1092.45 1576.58,1091.55 C1577.02,1090.65 1577.46,1089.74 1577.90,1088.84 C1578.33,1087.93 1578.76,1087.03 1579.19,1086.12 C1579.62,1085.21 1580.04,1084.30 1580.45,1083.39 C1580.87,1082.48 1581.28,1081.57 1581.69,1080.65 C1582.10,1079.74 1582.50,1078.82 1582.90,1077.91 C1583.30,1076.99 1583.70,1076.07 1584.09,1075.15 C1584.48,1074.23 1584.87,1073.31 1585.25,1072.38 C1585.63,1071.46 1586.01,1070.53 1586.39,1069.61 C1586.76,1068.68 1587.13,1067.75 1587.50,1066.82 C1587.87,1065.90 1588.23,1064.96 1588.59,1064.03 C1588.95,1063.10 1589.31,1062.17 1589.66,1061.23 C1590.02,1060.30 1590.36,1059.36 1590.71,1058.43 C1591.06,1057.49 1591.40,1056.55 1591.74,1055.61 C1592.08,1054.67 1592.41,1053.73 1592.74,1052.79 C1593.08,1051.85 1593.41,1050.90 1593.73,1049.96 C1594.06,1049.02 1594.38,1048.07 1594.70,1047.13 C1595.02,1046.18 1595.34,1045.23 1595.65,1044.28 C1595.97,1043.33 1596.28,1042.39 1596.59,1041.44 C1596.90,1040.48 1597.20,1039.53 1597.51,1038.58 C1597.81,1037.63 1598.11,1036.68 1598.41,1035.72 C1598.71,1034.77 1599.00,1033.81 1599.29,1032.86 C1599.59,1031.90 1599.88,1030.94 1600.17,1029.99 C1600.45,1029.03 1600.74,1028.07 1601.02,1027.11 C1601.31,1026.15 1601.59,1025.19 1601.87,1024.23 C1602.15,1023.27 1602.43,1022.31 1602.70,1021.35 C1602.98,1020.39 1603.25,1019.42 1603.52,1018.46 C1603.79,1017.50 1604.06,1016.53 1604.33,1015.57 C1604.60,1014.60 1604.87,1013.64 1605.13,1012.67 C1605.40,1011.71 1605.66,1010.74 1605.92,1009.77 C1606.18,1008.81 1606.44,1007.84 1606.70,1006.87 C1606.96,1005.91 1607.22,1004.94 1607.48,1003.97 C1607.73,1003.00 1607.99,1002.03 1608.24,1001.06 C1608.50,1000.09 1608.75,999.12 1609.00,998.15 C1609.25,997.18 1609.50,996.21 1609.75,995.24 C1610.00,994.27 1610.25,993.30 1610.50,992.33 C1610.75,991.36 1610.99,990.39 1611.24,989.42 C1611.49,988.44 1611.73,987.47 1611.98,986.50 C1612.22,985.53 1612.47,984.56 1612.71,983.58 C1612.95,982.61 1613.20,981.64 1613.44,980.67 C1613.68,979.69 1613.93,978.72 1614.17,977.75 C1614.41,976.78 1614.65,975.80 1614.90,974.83 C1615.14,973.86 1615.38,972.89 1615.62,971.91 C1615.87,970.94 1616.11,969.97 1616.35,969.00 C1616.59,968.02 1616.83,967.05 1617.07,966.08 C1617.32,965.11 1617.56,964.13 1617.80,963.16 C1618.04,962.19 1618.28,961.22 1618.52,960.25 C1618.76,959.27 1619.00,958.30 1619.24,957.33 C1619.48,956.36 1619.72,955.38 1619.96,954.41 C1620.20,953.44 1620.44,952.47 1620.68,951.49 C1620.92,950.52 1621.16,949.55 1621.40,948.58 C1621.64,947.60 1621.88,946.63 1622.12,945.66 C1622.36,944.69 1622.59,943.71 1622.83,942.74 C1623.07,941.77 1623.31,940.80 1623.54,939.82 C1623.78,938.85 1624.02,937.88 1624.25,936.90 C1624.49,935.93 1624.73,934.96 1624.96,933.99 C1625.20,933.01 1625.43,932.04 1625.67,931.07 C1625.90,930.09 1626.14,929.12 1626.37,928.15 C1626.61,927.17 1626.84,926.20 1627.07,925.23 C1627.31,924.25 1627.54,923.28 1627.77,922.31 C1628.01,921.33 1628.24,920.36 1628.47,919.38 C1628.70,918.41 1628.93,917.44 1629.16,916.46 C1629.39,915.49 1629.62,914.52 1629.85,913.54 C1630.08,912.57 1630.31,911.59 1630.54,910.62 C1630.77,909.64 1631.00,908.67 1631.22,907.69 C1631.45,906.72 1631.68,905.74 1631.90,904.77 C1632.13,903.79 1632.36,902.82 1632.58,901.84 C1632.81,900.87 1633.03,899.89 1633.26,898.92 C1633.48,897.94 1633.70,896.97 1633.93,895.99 C1634.15,895.02 1634.37,894.04 1634.59,893.06 C1634.81,892.09 1635.03,891.11 1635.25,890.14 C1635.47,889.16 1635.69,888.18 1635.91,887.21 C1636.13,886.23 1636.35,885.25 1636.57,884.27 C1636.78,883.30 1637.00,882.32 1637.22,881.34 C1637.43,880.37 1637.65,879.39 1637.86,878.41 C1638.08,877.43 1638.29,876.45 1638.50,875.48 C1638.71,874.50 1638.93,873.52 1639.14,872.54 C1639.35,871.56 1639.56,870.58 1639.77,869.60 C1639.98,868.62 1640.19,867.65 1640.40,866.67 C1640.60,865.69 1640.81,864.71 1641.02,863.73 C1641.22,862.75 1641.43,861.77 1641.63,860.79 C1641.84,859.81 1642.04,858.83 1642.24,857.84 C1642.45,856.86 1642.65,855.88 1642.85,854.90 C1643.05,853.92 1643.25,852.94 1643.45,851.96 C1643.65,850.97 1643.85,849.99 1644.04,849.01" stroke="#5B9BD5"/>
<path d="M159.71,470.04 C159.87,471.02 160.04,472.01 160.19,473.00 C160.35,473.99 160.51,474.98 160.67,475.96 C160.83,476.95 160.98,477.94 161.14,478.93 C161.30,479.92 161.45,480.91 161.60,481.89 C161.76,482.88 161.91,483.87 162.06,484.86 C162.22,485.85 162.37,486.84 162.52,487.83 C162.67,488.82 162.82,489.81 162.97,490.80 C163.12,491.78 163.26,492.77 163.41,493.76 C163.56,494.75 163.70,495.74 163.85,496.73 C164.00,497.72 164.14,498.71 164.29,499.70 C164.43,500.69 164.58,501.68 164.72,502.67 C164.86,503.66 165.01,504.65 165.15,505.64 C165.29,506.63 165.43,507.62 165.57,508.61 C165.71,509.60 165.86,510.59 166.00,511.58 C166.14,512.57 166.28,513.56 166.42,514.55 C166.55,515.55 166.69,516.54 166.83,517.53 C166.97,518.52 167.11,519.51 167.25,520.50 C167.38,521.49 167.52,522.48 167.66,523.47 C167.80,524.46 167.93,525.45 168.07,526.44 C168.21,527.43 168.34,528.42 168.48,529.42 C168.62,530.41 168.75,531.40 168.89,532.39 C169.02,533.38 169.16,534.37 169.29,535.36 C169.43,536.35 169.57,537.34 169.70,538.33 C169.84,539.33 169.97,540.32 170.11,541.31 C170.24,542.30 170.38,543.29 170.51,544.28 C170.65,545.27 170.78,546.26 170.92,547.25 C171.05,548.24 171.19,549.23 171.32,550.23 C171.46,551.22 171.59,552.21 171.73,553.20 C171.87,554.19 172.00,555.18 172.14,556.17 C172.27,557.16 172.41,558.15 172.55,559.14 C172.68,560.13 172.82,561.12 172.95,562.12 C173.09,563.11 173.23,564.10 173.37,565.09 C173.50,566.08 173.64,567.07 173.78,568.06 C173.92,569.05 174.05,570.04 174.19,571.03 C174.33,572.02 174.47,573.01 174.61,574.00 C174.75,574.99 174.89,575.98 175.03,576.97 C175.17,577.96 175.31,578.95 175.45,579.94 C175.59,580.93 175.74,581.92 175.88,582.91 C176.02,583.90 176.16,584.89 176.31,585.88 C176.45,586.87 176.59,587.86 176.74,588.85 C176.88,589.84 177.03,590.83 177.17,591.82 C177.32,592.81 177.47,593.79 177.61,594.78 C177.76,595.77 177.91,596.76 178.06,597.75 C178.21,598.74 178.36,599.73 178.51,600.72 C178.66,601.70 178.81,602.69 178.96,603.68 C179.11,604.67 179.27,605.66 179.42,606.64 C179.58,607.63 179.73,608.62 179.89,609.61 C180.04,610.60 180.20,611.58 180.36,612.57 C180.51,613.56 180.67,614.55 180.83,615.53 C180.99,616.52 181.15,617.51 181.31,618.49 C181.48,619.48 181.64,620.47 181.80,621.45 C181.97,622.44 182.13,623.43 182.30,624.41 C182.46,625.40 182.63,626.39 182.80,627.37 C182.97,628.36 183.14,629.34 183.31,630.33 C183.48,631.31 183.65,632.30 183.83,633.28 C184.00,634.27 184.17,635.25 184.35,636.24 C184.53,637.22 184.70,638.21 184.88,639.19 C185.06,640.18 185.24,641.16 185.42,642.14 C185.60,643.13 185.79,644.11 185.97,645.10 C186.15,646.08 186.34,647.06 186.53,648.05 C186.71,649.03 186.90,650.01 187.09,650.99 C187.28,651.98 187.48,652.96 187.67,653.94 C187.86,654.92 188.06,655.91 188.25,656.89 C188.45,657.87 188.65,658.85 188.85,659.83 C189.05,660.81 189.25,661.79 189.45,662.77 C189.66,663.75 189.86,664.74 190.07,665.72 C190.27,666.70 190.48,667.68 190.69,668.66 C190.90,669.64 191.11,670.61 191.33,671.59 C191.54,672.57 191.76,673.55 191.97,674.53 C192.19,675.51 192.41,676.49 192.63,677.47 C192.85,678.44 193.08,679.42 193.30,680.40 C193.53,681.38 193.75,682.35 193.98,683.33 C194.21,684.31 194.45,685.28 194.68,686.26 C194.92,687.23 195.15,688.21 195.39,689.18 C195.64,690.15 195.88,691.13 196.13,692.10 C196.37,693.07 196.62,694.04 196.88,695.01 C197.13,695.98 197.39,696.95 197.65,697.91 C197.91,698.88 198.17,699.85 198.44,700.81 C198.71,701.77 198.98,702.74 199.26,703.70 C199.54,704.66 199.82,705.62 200.10,706.58 C200.39,707.53 200.68,708.49 200.97,709.44 C201.27,710.40 201.57,711.35 201.87,712.30 C202.18,713.25 202.49,714.19 202.81,715.14 C203.12,716.08 203.44,717.03 203.77,717.97 C204.09,718.91 204.43,719.85 204.77,720.78 C205.10,721.72 205.45,722.65 205.80,723.58 C206.15,724.51 206.50,725.44 206.87,726.36 C207.23,727.29 207.60,728.21 207.97,729.13 C208.35,730.05 208.73,730.96 209.12,731.87 C209.51,732.79 209.91,733.70 210.31,734.60 C210.72,735.51 211.13,736.41 211.55,737.31 C211.96,738.21 212.39,739.10 212.82,740.00 C213.26,740.89 213.70,741.78 214.15,742.66 C214.60,743.54 215.06,744.42 215.52,745.30 C215.99,746.18 216.46,747.05 216.94,747.92 C217.43,748.79 217.92,749.65 218.42,750.51 C218.92,751.37 219.43,752.23 219.95,753.08 C220.46,753.93 220.99,754.78 221.53,755.62 C222.06,756.46 222.61,757.30 223.17,758.13 C223.72,758.97 224.29,759.80 224.86,760.62 C225.44,761.44 226.02,762.26 226.62,763.08 C227.21,763.89 227.81,764.70 228.42,765.50 C229.04,766.31 229.66,767.11 230.28,767.90 C230.91,768.70 231.55,769.49 232.19,770.28 C232.83,771.06 233.48,771.84 234.13,772.62 C234.79,773.40 235.45,774.17 236.12,774.94 C236.78,775.71 237.45,776.47 238.13,777.23 C238.81,777.99 239.49,778.75 240.17,779.50 C240.86,780.26 241.54,781.00 242.24,781.75 C242.93,782.49 243.62,783.23 244.32,783.97 C245.01,784.71 245.71,785.44 246.41,786.17 C247.11,786.90 247.81,787.62 248.52,788.35 C249.22,789.07 249.92,789.79 250.63,790.50 C251.34,791.20 252.04,791.91 252.76,792.60 C253.48,793.29 254.19,793.98 254.92,794.65 C255.65,795.31 256.38,795.97 257.13,796.61 C257.88,797.24 258.63,797.87 259.40,798.47 C260.16,799.06 260.94,799.64 261.73,800.20 C262.52,800.75 263.32,801.29 264.14,801.79 C264.96,802.29 265.80,802.78 266.65,803.22 C267.51,803.67 268.38,804.09 269.27,804.47 C270.17,804.85 271.08,805.20 272.01,805.51 C272.95,805.83 273.91,806.09 274.87,806.34 C275.85,806.59 276.85,806.79 277.85,806.99 C278.86,807.19 279.88,807.36 280.89,807.53 C281.92,807.70 282.95,807.85 283.98,808.01 C285.00,808.17 286.04,808.32 287.06,808.50 C288.08,808.68 289.10,808.85 290.11,809.07 C291.11,809.28 292.11,809.50 293.09,809.77 C294.06,810.03 295.02,810.33 295.96,810.67 C296.89,811.00 297.80,811.39 298.70,811.80 C299.60,812.21 300.47,812.66 301.35,813.12 C302.22,813.58 303.08,814.07 303.94,814.56 C304.80,815.05 305.66,815.56 306.52,816.05 C307.38,816.55 308.24,817.05 309.11,817.54 C309.98,818.03 310.86,818.53 311.73,819.01 C312.61,819.49 313.49,819.98 314.38,820.45 C315.27,820.92 316.16,821.39 317.05,821.84 C317.95,822.30 318.85,822.75 319.76,823.19 C320.66,823.62 321.57,824.05 322.49,824.47 C323.40,824.88 324.32,825.28 325.25,825.67 C326.17,826.06 327.10,826.43 328.04,826.79 C328.98,827.15 329.92,827.49 330.87,827.81 C331.82,828.14 332.77,828.45 333.73,828.73 C334.69,829.02 335.66,829.29 336.63,829.53 C337.60,829.78 338.58,829.99 339.56,830.20 C340.55,830.41 341.53,830.60 342.52,830.79 C343.50,830.98 344.49,831.16 345.47,831.35 C346.44,831.55 347.42,831.74 348.38,831.96 C349.34,832.18 350.30,832.41 351.24,832.68 C352.17,832.94 353.10,833.23 354.01,833.57 C354.91,833.91 355.80,834.28 356.67,834.71 C357.53,835.14 358.37,835.62 359.18,836.15 C360.00,836.69 360.79,837.28 361.56,837.90 C362.35,838.52 363.10,839.20 363.85,839.87 C364.60,840.56 365.33,841.28 366.07,841.99 C366.81,842.71 367.53,843.45 368.26,844.17 C369.00,844.90 369.73,845.63 370.47,846.34 C371.21,847.05 371.96,847.75 372.73,848.41 C373.49,849.07 374.27,849.71 375.07,850.31 C375.87,850.90 376.69,851.46 377.52,851.99 C378.35,852.52 379.20,853.01 380.06,853.49 C380.92,853.96 381.79,854.40 382.67,854.83 C383.56,855.26 384.45,855.66 385.35,856.06 C386.25,856.45 387.15,856.83 388.06,857.20 C388.98,857.57 389.89,857.93 390.81,858.28 C391.73,858.64 392.65,858.99 393.57,859.35 C394.49,859.71 395.41,860.06 396.33,860.43 C397.24,860.80 398.16,861.17 399.07,861.56 C399.98,861.95 400.88,862.34 401.77,862.76 C402.67,863.19 403.56,863.62 404.43,864.08 C405.31,864.55 406.17,865.04 407.03,865.55 C407.88,866.06 408.73,866.59 409.56,867.15 C410.40,867.70 411.22,868.28 412.04,868.87 C412.86,869.46 413.67,870.07 414.48,870.69 C415.28,871.31 416.08,871.95 416.87,872.59 C417.67,873.23 418.45,873.89 419.24,874.55 C420.02,875.22 420.80,875.89 421.58,876.56 C422.36,877.24 423.13,877.92 423.91,878.60 C424.68,879.27 425.45,879.96 426.23,880.63 C427.00,881.31 427.77,881.99 428.55,882.66 C429.32,883.33 430.10,884.00 430.88,884.65 C431.65,885.31 432.43,885.96 433.22,886.60 C434.01,887.23 434.79,887.86 435.59,888.47 C436.38,889.07 437.18,889.67 437.99,890.25 C438.80,890.82 439.61,891.38 440.43,891.92 C441.25,892.46 442.08,892.98 442.92,893.47 C443.75,893.96 444.60,894.43 445.46,894.87 C446.31,895.31 447.18,895.72 448.06,896.10 C448.94,896.48 449.83,896.84 450.74,897.15 C451.64,897.47 452.56,897.75 453.49,898.00 C454.42,898.24 455.37,898.46 456.33,898.62 C457.29,898.79 458.27,898.92 459.25,899.01 C460.23,899.09 461.23,899.13 462.22,899.13 C463.21,899.12 464.21,899.08 465.20,898.98 C466.18,898.88 467.17,898.73 468.13,898.53 C469.10,898.33 470.06,898.08 470.99,897.77 C471.92,897.46 472.83,897.09 473.72,896.69 C474.61,896.28 475.47,895.79 476.33,895.32 C477.19,894.86 478.03,894.35 478.89,893.90 C479.75,893.45 480.61,893.00 481.51,892.64 C482.40,892.28 483.32,891.98 484.26,891.73 C485.20,891.49 486.16,891.31 487.13,891.17 C488.11,891.02 489.11,890.93 490.11,890.87 C491.12,890.80 492.14,890.78 493.16,890.78 C494.19,890.77 495.23,890.79 496.27,890.82 C497.31,890.85 498.36,890.90 499.40,890.94 C500.44,890.98 501.49,891.03 502.53,891.06 C503.57,891.09 504.61,891.12 505.64,891.12 C506.66,891.12 507.68,891.11 508.70,891.05 C509.70,890.99 510.69,890.92 511.68,890.79 C512.65,890.66 513.61,890.49 514.56,890.27 C515.50,890.05 516.43,889.78 517.34,889.47 C518.25,889.17 519.15,888.82 520.03,888.44 C520.92,888.05 521.79,887.63 522.65,887.18 C523.51,886.73 524.36,886.25 525.20,885.75 C526.04,885.24 526.87,884.71 527.70,884.16 C528.53,883.61 529.35,883.03 530.17,882.45 C530.99,881.86 531.81,881.26 532.62,880.65 C533.44,880.04 534.25,879.41 535.06,878.79 C535.88,878.16 536.69,877.52 537.51,876.89 C538.33,876.26 539.15,875.63 539.98,875.00 C540.81,874.38 541.65,873.75 542.49,873.14 C543.33,872.53 544.18,871.92 545.05,871.34 C545.91,870.76 546.77,870.18 547.66,869.65 C548.53,869.12 549.41,868.61 550.31,868.16 C551.20,867.71 552.09,867.29 553.00,866.94 C553.89,866.61 554.80,866.31 555.71,866.10 C556.60,865.90 557.52,865.75 558.42,865.71 C559.33,865.67 560.24,865.72 561.14,865.87 C562.04,866.01 562.95,866.28 563.83,866.59 C564.72,866.91 565.60,867.33 566.46,867.78 C567.33,868.24 568.17,868.77 569.00,869.32 C569.83,869.88 570.64,870.48 571.43,871.11 C572.23,871.75 573.01,872.43 573.78,873.12 C574.56,873.81 575.31,874.54 576.07,875.27 C576.82,876.01 577.56,876.77 578.30,877.53 C579.04,878.30 579.78,879.07 580.51,879.85 C581.24,880.62 581.97,881.39 582.70,882.16 C583.43,882.92 584.16,883.68 584.90,884.41 C585.64,885.15 586.38,885.87 587.13,886.57 C587.87,887.25 588.62,887.93 589.39,888.56 C590.15,889.18 590.92,889.79 591.72,890.34 C592.50,890.89 593.30,891.41 594.12,891.87 C594.93,892.32 595.76,892.73 596.62,893.07 C597.46,893.41 598.34,893.70 599.23,893.92 C600.12,894.13 601.04,894.27 601.96,894.34 C602.90,894.41 603.86,894.41 604.81,894.34 C605.77,894.28 606.74,894.14 607.70,893.95 C608.67,893.76 609.65,893.50 610.60,893.19 C611.56,892.88 612.51,892.50 613.44,892.09 C614.37,891.66 615.29,891.19 616.17,890.67 C617.05,890.15 617.92,889.57 618.74,888.96 C619.56,888.35 620.34,887.68 621.10,887.00 C621.86,886.32 622.57,885.59 623.28,884.87 C623.99,884.16 624.67,883.42 625.37,882.71 C626.07,882.02 626.75,881.31 627.48,880.67 C628.19,880.03 628.91,879.41 629.68,878.87 C630.45,878.34 631.25,877.85 632.09,877.47 C632.94,877.09 633.86,876.79 634.78,876.59 C635.72,876.39 636.72,876.30 637.68,876.28 C638.65,876.27 639.63,876.35 640.57,876.51 C641.49,876.66 642.40,876.91 643.26,877.22 C644.12,877.54 644.95,877.93 645.74,878.39 C646.54,878.84 647.30,879.37 648.03,879.94 C648.76,880.51 649.46,881.15 650.14,881.83 C650.82,882.51 651.47,883.25 652.09,884.00 C652.72,884.77 653.32,885.59 653.91,886.42 C654.50,887.25 655.06,888.13 655.60,889.01 C656.16,889.90 656.68,890.82 657.20,891.73 C657.72,892.66 658.22,893.60 658.72,894.54 C659.21,895.48 659.69,896.42 660.17,897.37 C660.64,898.31 661.11,899.25 661.57,900.19 C662.03,901.13 662.48,902.06 662.93,903.00 C663.38,903.93 663.82,904.86 664.25,905.80 C664.68,906.73 665.11,907.66 665.53,908.58 C665.95,909.51 666.36,910.44 666.77,911.36 C667.17,912.29 667.58,913.21 667.97,914.14 C668.37,915.06 668.76,915.98 669.15,916.90 C669.54,917.82 669.92,918.74 670.30,919.66 C670.68,920.58 671.05,921.50 671.42,922.42 C671.79,923.33 672.16,924.25 672.52,925.17 C672.88,926.08 673.24,927.00 673.60,927.92 C673.96,928.83 674.31,929.75 674.66,930.66 C675.01,931.58 675.36,932.49 675.71,933.41 C676.05,934.32 676.40,935.24 676.74,936.16 C677.09,937.07 677.43,937.99 677.77,938.90 C678.11,939.82 678.45,940.74 678.79,941.66 C679.13,942.57 679.47,943.49 679.81,944.41 C680.14,945.33 680.48,946.25 680.82,947.17 C681.16,948.09 681.50,949.01 681.84,949.94 C682.18,950.86 682.52,951.78 682.86,952.71 C683.20,953.63 683.55,954.56 683.89,955.49 C684.24,956.42 684.58,957.35 684.93,958.28 C685.28,959.21 685.63,960.14 685.98,961.08 C686.34,962.01 686.69,962.95 687.05,963.89 C687.41,964.83 687.77,965.77 688.14,966.71 C688.51,967.65 688.88,968.60 689.25,969.54 C689.62,970.49 690.00,971.44 690.38,972.39 C690.76,973.34 691.15,974.30 691.54,975.25 C691.93,976.21 692.33,977.17 692.73,978.13 C693.13,979.10 693.53,980.07 693.95,981.03 C694.37,981.99 694.78,982.96 695.22,983.92 C695.66,984.87 696.10,985.82 696.57,986.76 C697.03,987.68 697.51,988.61 698.01,989.51 C698.51,990.40 699.03,991.28 699.58,992.13 C700.13,992.97 700.69,993.80 701.30,994.59 C701.90,995.36 702.52,996.12 703.19,996.83 C703.85,997.54 704.55,998.21 705.29,998.83 C706.02,999.45 706.79,1000.03 707.60,1000.54 C708.41,1001.05 709.26,1001.53 710.14,1001.89 C710.99,1002.24 711.90,1002.55 712.79,1002.70 C713.68,1002.86 714.59,1002.90 715.48,1002.82 C716.37,1002.74 717.26,1002.52 718.12,1002.22 C719.01,1001.92 719.87,1001.48 720.70,1001.00 C721.55,1000.51 722.37,999.91 723.17,999.28 C723.97,998.64 724.75,997.92 725.49,997.17 C726.25,996.42 726.96,995.61 727.65,994.78 C728.33,993.96 728.98,993.10 729.60,992.23 C730.20,991.38 730.77,990.50 731.32,989.61 C731.85,988.74 732.36,987.85 732.84,986.95 C733.32,986.06 733.78,985.16 734.22,984.26 C734.66,983.36 735.08,982.45 735.49,981.53 C735.91,980.63 736.31,979.71 736.70,978.79 C737.10,977.88 737.49,976.96 737.87,976.04 C738.25,975.12 738.62,974.19 738.99,973.27 C739.35,972.34 739.71,971.41 740.06,970.48 C740.41,969.55 740.75,968.61 741.09,967.68 C741.43,966.74 741.75,965.80 742.08,964.86 C742.40,963.92 742.71,962.98 743.02,962.03 C743.33,961.09 743.63,960.14 743.93,959.19 C744.23,958.24 744.52,957.29 744.80,956.34 C745.08,955.39 745.36,954.43 745.63,953.48 C745.90,952.52 746.17,951.56 746.43,950.60 C746.69,949.64 746.94,948.68 747.19,947.71 C747.44,946.75 747.69,945.78 747.92,944.82 C748.16,943.85 748.40,942.88 748.62,941.91 C748.85,940.94 749.08,939.97 749.30,938.99 C749.51,938.02 749.73,937.05 749.94,936.07 C750.15,935.09 750.35,934.12 750.55,933.14 C750.75,932.16 750.95,931.18 751.14,930.20 C751.34,929.22 751.52,928.24 751.71,927.25 C751.89,926.27 752.07,925.29 752.25,924.30 C752.43,923.32 752.60,922.33 752.77,921.34 C752.94,920.36 753.11,919.37 753.27,918.38 C753.44,917.39 753.60,916.40 753.76,915.41 C753.92,914.42 754.07,913.43 754.22,912.44 C754.38,911.45 754.53,910.45 754.67,909.46 C754.82,908.47 754.97,907.47 755.11,906.48 C755.25,905.49 755.39,904.49 755.53,903.50 C755.67,902.50 755.81,901.51 755.94,900.51 C756.08,899.52 756.21,898.52 756.34,897.53 C756.48,896.53 756.61,895.54 756.74,894.54 C756.87,893.54 756.99,892.55 757.12,891.55 C757.25,890.56 757.37,889.56 757.50,888.56 C757.63,887.57 757.75,886.57 757.87,885.58 C758.00,884.58 758.12,883.59 758.24,882.59 C758.37,881.60 758.49,880.60 758.61,879.61 C758.74,878.61 758.86,877.62 758.98,876.62 C759.10,875.63 759.22,874.64 759.35,873.64 C759.47,872.65 759.59,871.65 759.71,870.66 C759.83,869.67 759.95,868.68 760.07,867.68 C760.19,866.69 760.31,865.70 760.43,864.70 C760.55,863.71 760.67,862.72 760.79,861.73 C760.91,860.74 761.03,859.74 761.15,858.75 C761.26,857.76 761.38,856.77 761.50,855.78 C761.62,854.79 761.74,853.80 761.85,852.80 C761.97,851.81 762.09,850.82 762.20,849.83 C762.32,848.84 762.43,847.85 762.55,846.86 C762.67,845.87 762.78,844.88 762.89,843.89 C763.01,842.90 763.12,841.91 763.24,840.91 C763.35,839.92 763.46,838.93 763.58,837.94 C763.69,836.95 763.80,835.96 763.91,834.97 C764.03,833.98 764.14,832.99 764.25,832.00 C764.36,831.01 764.47,830.02 764.58,829.03 C764.69,828.04 764.80,827.05 764.91,826.06 C765.02,825.07 765.13,824.08 765.24,823.09 C765.34,822.10 765.45,821.11 765.56,820.11 C765.67,819.12 765.77,818.13 765.88,817.14 C765.99,816.15 766.09,815.16 766.20,814.17 C766.30,813.18 766.41,812.19 766.51,811.19 C766.61,810.20 766.72,809.21 766.82,808.22 C766.92,807.23 767.02,806.24 767.13,805.24 C767.23,804.25 767.33,803.26 767.43,802.27 C767.53,801.27 767.63,800.28 767.73,799.29 C767.83,798.30 767.93,797.30 768.02,796.31 C768.12,795.32 768.22,794.32 768.32,793.33 C768.41,792.34 768.51,791.34 768.60,790.35 C768.70,789.35 768.79,788.36 768.89,787.36 C768.98,786.37 769.08,785.37 769.17,784.38 C769.26,783.38 769.35,782.39 769.44,781.39 C769.54,780.40 769.63,779.40 769.72,778.40 C769.81,777.41 769.90,776.41 769.99,775.41 C770.08,774.42 770.16,773.42 770.25,772.42 C770.34,771.42 770.43,770.43 770.51,769.43 C770.60,768.43 770.69,767.43 770.77,766.44 C770.86,765.44 770.95,764.44 771.03,763.44 C771.12,762.44 771.20,761.44 771.29,760.44 C771.37,759.45 771.46,758.45 771.54,757.45 C771.62,756.45 771.71,755.45 771.79,754.45 C771.87,753.45 771.96,752.45 772.04,751.45 C772.12,750.45 772.20,749.45 772.28,748.45 C772.37,747.45 772.45,746.45 772.53,745.45 C772.61,744.45 772.69,743.45 772.77,742.45 C772.86,741.45 772.94,740.45 773.02,739.45 C773.10,738.45 773.18,737.45 773.26,736.45 C773.34,735.45 773.42,734.45 773.50,733.45 C773.58,732.45 773.66,731.45 773.74,730.45 C773.82,729.44 773.90,728.44 773.98,727.44 C774.06,726.44 774.14,725.44 774.22,724.44 C774.30,723.44 774.38,722.44 774.46,721.44 C774.54,720.44 774.62,719.44 774.70,718.44 C774.78,717.44 774.86,716.44 774.94,715.43 C775.02,714.43 775.10,713.43 775.18,712.43 C775.26,711.43 775.34,710.43 775.42,709.43 C775.51,708.43 775.59,707.43 775.67,706.43 C775.75,705.43 775.83,704.43 775.91,703.43 C775.99,702.43 776.08,701.43 776.16,700.43 C776.24,699.43 776.32,698.43 776.40,697.43 C776.49,696.43 776.57,695.43 776.65,694.43 C776.74,693.43 776.82,692.43 776.90,691.44 C776.99,690.44 777.07,689.44 777.16,688.44 C777.24,687.44 777.33,686.44 777.41,685.44 C777.50,684.44 777.58,683.45 777.67,682.45 C777.76,681.45 777.84,680.45 777.93,679.45 C778.02,678.46 778.11,677.46 778.19,676.46 C778.28,675.46 778.37,674.47 778.46,673.47 C778.55,672.47 778.64,671.48 778.73,670.48 C778.82,669.48 778.91,668.49 779.00,667.49 C779.10,666.50 779.19,665.50 779.28,664.51 C779.37,663.51 779.47,662.52 779.56,661.52 C779.66,660.53 779.75,659.53 779.85,658.54 C779.94,657.54 780.04,656.55 780.14,655.56 C780.23,654.56 780.33,653.57 780.43,652.58 C780.53,651.58 780.63,650.59 780.73,649.60 C780.83,648.61 780.93,647.61 781.03,646.62 C781.13,645.63 781.23,644.64 781.34,643.65 C781.44,642.66 781.55,641.67 781.65,640.68 C781.76,639.69 781.86,638.70 781.97,637.71 C782.08,636.72 782.18,635.73 782.29,634.74 C782.40,633.75 782.51,632.76 782.62,631.78 C782.74,630.79 782.85,629.80 782.96,628.81 C783.07,627.83 783.19,626.84 783.30,625.85 C783.42,624.87 783.53,623.88 783.65,622.90 C783.77,621.91 783.89,620.93 784.01,619.94 C784.13,618.96 784.25,617.98 784.37,616.99 C784.49,616.01 784.61,615.03 784.74,614.04 C784.86,613.06 784.99,612.08 785.11,611.10 C785.24,610.12 785.37,609.14 785.49,608.15 C785.62,607.17 785.75,606.19 785.88,605.21 C786.01,604.23 786.14,603.25 786.27,602.27 C786.40,601.29 786.54,600.31 786.67,599.33 C786.80,598.35 786.93,597.37 787.07,596.39 C787.20,595.41 787.34,594.42 787.47,593.44 C787.61,592.46 787.74,591.48 787.88,590.50 C788.01,589.52 788.15,588.53 788.28,587.55 C788.42,586.57 788.56,585.58 788.69,584.60 C788.83,583.62 788.96,582.63 789.10,581.65 C789.24,580.66 789.37,579.68 789.51,578.69 C789.65,577.70 789.78,576.71 789.92,575.73 C790.06,574.74 790.19,573.75 790.33,572.76 C790.46,571.77 790.60,570.78 790.74,569.79 C790.87,568.79 791.01,567.80 791.14,566.80 C791.27,565.81 791.41,564.81 791.54,563.82 C791.68,562.82 791.81,561.82 791.94,560.82 C792.07,559.82 792.20,558.82 792.34,557.82 C792.47,556.82 792.60,555.81 792.73,554.81 C792.85,553.80 792.98,552.79 793.11,551.78 C793.24,550.77 793.36,549.76 793.49,548.75 C793.62,547.74 793.74,546.72 793.86,545.71 C793.99,544.69 794.11,543.67 794.23,542.65 C794.35,541.63 794.47,540.61 794.59,539.59 C794.71,538.56 794.82,537.54 794.94,536.51 C795.06,535.48 795.17,534.45 795.28,533.42 C795.40,532.38 795.51,531.35 795.63,530.32 C795.74,529.28 795.86,528.25 795.98,527.22 C796.09,526.18 796.21,525.15 796.34,524.12 C796.47,523.09 796.59,522.06 796.73,521.04 C796.87,520.01 797.01,518.99 797.15,517.97 C797.30,516.95 797.45,515.94 797.62,514.93 C797.78,513.92 797.95,512.92 798.13,511.92 C798.31,510.92 798.50,509.93 798.70,508.94 C798.91,507.96 799.12,506.98 799.35,506.01 C799.57,505.04 799.81,504.08 800.06,503.13 C800.31,502.18 800.58,501.23 800.86,500.30 C801.14,499.37 801.44,498.45 801.75,497.53 C802.07,496.63 802.40,495.73 802.75,494.84 C803.10,493.95 803.46,493.08 803.85,492.22 C804.24,491.36 804.65,490.51 805.08,489.68 C805.50,488.85 805.95,488.03 806.42,487.22 C806.90,486.42 807.39,485.63 807.91,484.87 C808.43,484.10 808.97,483.34 809.54,482.61 C810.11,481.88 810.70,481.13 811.32,480.47 C811.91,479.85 812.52,479.18 813.18,478.75 C813.76,478.38 814.40,477.99 815.00,477.96 C815.56,477.93 816.17,478.17 816.67,478.50 C817.25,478.87 817.73,479.54 818.19,480.20 C818.71,480.95 819.15,481.87 819.57,482.78 C820.03,483.76 820.43,484.85 820.83,485.92 C821.23,487.03 821.61,488.19 821.97,489.33 C822.33,490.46 822.68,491.60 823.02,492.72 C823.35,493.84 823.67,494.94 823.97,496.04 C824.28,497.13 824.57,498.22 824.85,499.30 C825.13,500.36 825.39,501.43 825.65,502.48 C825.90,503.53 826.15,504.57 826.38,505.61 C826.61,506.64 826.84,507.67 827.05,508.69 C827.26,509.71 827.47,510.72 827.67,511.73 C827.86,512.73 828.05,513.73 828.23,514.72 C828.41,515.71 828.59,516.70 828.76,517.68 C828.93,518.66 829.09,519.64 829.25,520.61 C829.41,521.59 829.56,522.56 829.71,523.53 C829.86,524.49 830.01,525.46 830.15,526.42 C830.29,527.38 830.43,528.34 830.57,529.31 C830.72,530.27 830.85,531.23 830.99,532.19 C831.13,533.15 831.27,534.11 831.41,535.07 C831.55,536.03 831.69,537.00 831.83,537.96 C831.97,538.93 832.11,539.89 832.25,540.86 C832.40,541.83 832.54,542.80 832.69,543.77 C832.83,544.74 832.98,545.71 833.13,546.69 C833.27,547.66 833.42,548.63 833.57,549.61 C833.72,550.59 833.87,551.57 834.02,552.54 C834.17,553.52 834.32,554.50 834.48,555.48 C834.63,556.46 834.78,557.45 834.93,558.43 C835.09,559.41 835.24,560.40 835.39,561.38 C835.55,562.37 835.70,563.35 835.86,564.34 C836.01,565.33 836.17,566.31 836.32,567.30 C836.48,568.29 836.63,569.28 836.79,570.27 C836.95,571.26 837.10,572.25 837.26,573.24 C837.41,574.23 837.57,575.23 837.73,576.22 C837.88,577.21 838.04,578.20 838.19,579.20 C838.35,580.19 838.51,581.18 838.66,582.18 C838.82,583.17 838.97,584.17 839.13,585.16 C839.28,586.16 839.44,587.15 839.59,588.15 C839.75,589.14 839.90,590.14 840.06,591.14 C840.21,592.13 840.36,593.13 840.51,594.12 C840.67,595.12 840.82,596.11 840.97,597.11 C841.12,598.11 841.27,599.10 841.42,600.10 C841.57,601.09 841.72,602.09 841.87,603.09 C842.02,604.08 842.17,605.08 842.31,606.07 C842.46,607.07 842.60,608.06 842.75,609.06 C842.90,610.05 843.04,611.05 843.18,612.04 C843.33,613.04 843.47,614.03 843.61,615.02 C843.75,616.02 843.90,617.01 844.04,618.01 C844.18,619.00 844.32,619.99 844.46,620.99 C844.60,621.98 844.74,622.97 844.88,623.97 C845.02,624.96 845.15,625.95 845.29,626.95 C845.43,627.94 845.57,628.93 845.70,629.93 C845.84,630.92 845.98,631.91 846.11,632.90 C846.25,633.90 846.38,634.89 846.52,635.88 C846.65,636.87 846.79,637.86 846.92,638.86 C847.06,639.85 847.19,640.84 847.33,641.83 C847.46,642.82 847.60,643.81 847.73,644.80 C847.86,645.80 848.00,646.79 848.13,647.78 C848.26,648.77 848.40,649.76 848.53,650.75 C848.66,651.74 848.80,652.73 848.93,653.72 C849.06,654.71 849.19,655.70 849.33,656.69 C849.46,657.68 849.59,658.67 849.73,659.66 C849.86,660.65 849.99,661.64 850.12,662.63 C850.26,663.62 850.39,664.61 850.52,665.60 C850.66,666.59 850.79,667.58 850.92,668.57 C851.06,669.56 851.19,670.55 851.32,671.54 C851.46,672.53 851.59,673.52 851.73,674.50 C851.86,675.49 852.00,676.48 852.13,677.47 C852.26,678.46 852.40,679.45 852.54,680.44 C852.67,681.42 852.81,682.41 852.94,683.40 C853.08,684.39 853.22,685.38 853.35,686.37 C853.49,687.35 853.63,688.34 853.76,689.33 C853.90,690.32 854.04,691.31 854.18,692.29 C854.32,693.28 854.46,694.27 854.60,695.26 C854.74,696.24 854.88,697.23 855.02,698.22 C855.16,699.21 855.30,700.19 855.45,701.18 C855.59,702.17 855.73,703.16 855.88,704.14 C856.02,705.13 856.16,706.12 856.31,707.10 C856.45,708.09 856.60,709.08 856.75,710.07 C856.89,711.05 857.04,712.04 857.19,713.03 C857.34,714.01 857.49,715.00 857.64,715.99 C857.79,716.97 857.94,717.96 858.09,718.95 C858.24,719.93 858.40,720.92 858.55,721.91 C858.70,722.89 858.86,723.88 859.02,724.87 C859.17,725.85 859.33,726.84 859.49,727.83 C859.65,728.81 859.80,729.80 859.96,730.78 C860.12,731.77 860.29,732.76 860.45,733.74 C860.61,734.73 860.77,735.72 860.94,736.70 C861.10,737.69 861.27,738.67 861.43,739.66 C861.60,740.65 861.76,741.63 861.93,742.62 C862.09,743.60 862.26,744.59 862.43,745.58 C862.60,746.56 862.77,747.55 862.93,748.53 C863.10,749.52 863.27,750.51 863.44,751.49 C863.61,752.48 863.78,753.47 863.95,754.45 C864.12,755.44 864.29,756.42 864.46,757.41 C864.63,758.40 864.80,759.38 864.97,760.37 C865.14,761.36 865.31,762.34 865.48,763.33 C865.65,764.32 865.82,765.30 865.99,766.29 C866.16,767.28 866.33,768.26 866.50,769.25 C866.67,770.24 866.84,771.22 867.01,772.21 C867.18,773.20 867.35,774.19 867.52,775.17 C867.69,776.16 867.86,777.15 868.02,778.13 C868.19,779.12 868.36,780.11 868.52,781.10 C868.69,782.09 868.86,783.07 869.02,784.06 C869.19,785.05 869.35,786.04 869.51,787.03 C869.68,788.01 869.84,789.00 870.00,789.99 C870.16,790.98 870.32,791.97 870.48,792.96 C870.64,793.94 870.80,794.93 870.96,795.92 C871.12,796.91 871.27,797.90 871.43,798.89 C871.58,799.88 871.74,800.87 871.89,801.86 C872.04,802.85 872.20,803.84 872.35,804.83 C872.50,805.82 872.64,806.81 872.79,807.80 C872.94,808.79 873.08,809.78 873.23,810.77 C873.37,811.76 873.52,812.75 873.66,813.74 C873.80,814.74 873.94,815.73 874.08,816.72 C874.22,817.71 874.36,818.70 874.50,819.69 C874.63,820.68 874.77,821.67 874.91,822.67 C875.05,823.66 875.19,824.65 875.32,825.64 C875.46,826.63 875.60,827.62 875.74,828.61 C875.88,829.60 876.02,830.59 876.16,831.58 C876.30,832.57 876.44,833.56 876.59,834.55 C876.73,835.54 876.87,836.53 877.02,837.52 C877.17,838.51 877.32,839.50 877.47,840.49 C877.62,841.47 877.77,842.46 877.93,843.45 C878.08,844.43 878.24,845.42 878.40,846.41 C878.56,847.39 878.72,848.38 878.89,849.36 C879.06,850.35 879.23,851.33 879.40,852.31 C879.58,853.29 879.75,854.28 879.93,855.26 C880.11,856.24 880.30,857.22 880.49,858.20 C880.68,859.18 880.87,860.16 881.07,861.13 C881.27,862.11 881.47,863.09 881.68,864.06 C881.89,865.04 882.10,866.02 882.32,866.99 C882.54,867.96 882.77,868.93 883.00,869.91 C883.23,870.88 883.46,871.85 883.71,872.82 C883.95,873.78 884.20,874.75 884.45,875.72 C884.71,876.69 884.97,877.65 885.24,878.61 C885.50,879.58 885.78,880.54 886.06,881.50 C886.34,882.46 886.63,883.42 886.93,884.37 C887.23,885.33 887.53,886.29 887.84,887.24 C888.15,888.19 888.47,889.14 888.80,890.09 C889.12,891.03 889.46,891.98 889.80,892.92 C890.14,893.86 890.49,894.80 890.85,895.74 C891.21,896.67 891.57,897.60 891.95,898.53 C892.32,899.46 892.70,900.39 893.10,901.31 C893.49,902.23 893.89,903.15 894.30,904.06 C894.70,904.97 895.12,905.88 895.55,906.79 C895.97,907.69 896.41,908.59 896.85,909.49 C897.30,910.39 897.75,911.28 898.22,912.16 C898.68,913.05 899.15,913.93 899.63,914.81 C900.12,915.68 900.61,916.56 901.11,917.42 C901.61,918.29 902.12,919.15 902.64,920.00 C903.16,920.86 903.70,921.70 904.24,922.55 C904.78,923.39 905.33,924.22 905.89,925.05 C906.46,925.89 907.03,926.71 907.61,927.53 C908.19,928.35 908.78,929.16 909.38,929.97 C909.98,930.77 910.58,931.58 911.20,932.37 C911.81,933.17 912.43,933.96 913.05,934.75 C913.68,935.54 914.31,936.33 914.95,937.11 C915.59,937.89 916.23,938.66 916.87,939.44 C917.52,940.21 918.17,940.98 918.82,941.75 C919.47,942.52 920.13,943.28 920.78,944.04 C921.44,944.80 922.10,945.56 922.76,946.32 C923.42,947.08 924.08,947.83 924.74,948.59 C925.40,949.34 926.06,950.10 926.71,950.85 C927.37,951.60 928.03,952.35 928.69,953.10 C929.34,953.85 929.99,954.60 930.64,955.35 C931.29,956.10 931.94,956.85 932.58,957.60 C933.22,958.35 933.86,959.10 934.49,959.85 C935.12,960.60 935.75,961.35 936.37,962.10 C936.99,962.86 937.61,963.61 938.23,964.36 C938.84,965.12 939.45,965.88 940.07,966.63 C940.68,967.39 941.30,968.15 941.91,968.90 C942.53,969.66 943.15,970.42 943.77,971.18 C944.40,971.94 945.03,972.70 945.67,973.46 C946.31,974.22 946.95,974.99 947.60,975.75 C948.26,976.51 948.93,977.27 949.60,978.03 C950.29,978.80 950.98,979.56 951.68,980.32 C952.39,981.09 953.11,981.86 953.84,982.62 C954.59,983.39 955.34,984.16 956.12,984.91 C956.89,985.68 957.68,986.44 958.50,987.17 C959.30,987.90 960.13,988.62 960.97,989.29 C961.81,989.95 962.66,990.58 963.53,991.14 C964.38,991.69 965.26,992.20 966.15,992.61 C967.02,993.01 967.92,993.35 968.83,993.61 C969.72,993.86 970.63,994.04 971.54,994.15 C972.44,994.26 973.36,994.29 974.27,994.27 C975.19,994.24 976.11,994.15 977.02,994.01 C977.94,993.86 978.86,993.65 979.77,993.40 C980.69,993.15 981.60,992.84 982.50,992.49 C983.41,992.15 984.32,991.75 985.21,991.32 C986.11,990.89 987.01,990.41 987.89,989.92 C988.77,989.41 989.65,988.88 990.51,988.32 C991.38,987.76 992.23,987.18 993.07,986.58 C993.92,985.98 994.75,985.35 995.56,984.72 C996.38,984.09 997.18,983.44 997.97,982.78 C998.75,982.12 999.53,981.45 1000.29,980.77 C1001.05,980.09 1001.79,979.40 1002.53,978.69 C1003.26,977.99 1003.98,977.28 1004.68,976.56 C1005.39,975.83 1006.08,975.10 1006.76,974.36 C1007.44,973.62 1008.11,972.87 1008.77,972.10 C1009.42,971.35 1010.07,970.58 1010.70,969.80 C1011.33,969.02 1011.95,968.24 1012.56,967.45 C1013.17,966.65 1013.77,965.85 1014.36,965.05 C1014.94,964.24 1015.52,963.43 1016.08,962.61 C1016.65,961.79 1017.20,960.96 1017.75,960.13 C1018.29,959.30 1018.83,958.46 1019.35,957.61 C1019.88,956.77 1020.39,955.92 1020.90,955.07 C1021.41,954.21 1021.91,953.35 1022.40,952.49 C1022.89,951.63 1023.37,950.76 1023.84,949.88 C1024.32,949.01 1024.78,948.13 1025.24,947.25 C1025.70,946.37 1026.15,945.49 1026.60,944.60 C1027.05,943.71 1027.48,942.82 1027.92,941.92 C1028.35,941.03 1028.78,940.13 1029.20,939.23 C1029.62,938.33 1030.03,937.43 1030.44,936.52 C1030.85,935.61 1031.26,934.70 1031.66,933.79 C1032.06,932.88 1032.45,931.97 1032.84,931.05 C1033.23,930.14 1033.62,929.22 1034.00,928.30 C1034.38,927.38 1034.75,926.45 1035.12,925.53 C1035.49,924.60 1035.86,923.67 1036.22,922.74 C1036.58,921.81 1036.94,920.88 1037.29,919.95 C1037.65,919.02 1038.00,918.08 1038.34,917.14 C1038.69,916.21 1039.03,915.27 1039.37,914.32 C1039.70,913.38 1040.04,912.44 1040.37,911.50 C1040.70,910.55 1041.03,909.61 1041.35,908.66 C1041.68,907.71 1042.00,906.76 1042.31,905.81 C1042.63,904.86 1042.95,903.91 1043.26,902.96 C1043.57,902.00 1043.88,901.05 1044.19,900.09 C1044.49,899.14 1044.80,898.18 1045.10,897.22 C1045.40,896.27 1045.70,895.31 1045.99,894.35 C1046.29,893.39 1046.58,892.43 1046.88,891.47 C1047.17,890.50 1047.46,889.54 1047.75,888.58 C1048.04,887.62 1048.32,886.65 1048.61,885.69 C1048.89,884.72 1049.18,883.76 1049.46,882.79 C1049.74,881.83 1050.02,880.86 1050.30,879.89 C1050.58,878.93 1050.86,877.96 1051.14,876.99 C1051.42,876.03 1051.69,875.06 1051.97,874.09 C1052.25,873.13 1052.52,872.16 1052.80,871.19 C1053.07,870.22 1053.34,869.25 1053.62,868.29 C1053.89,867.32 1054.17,866.35 1054.44,865.38 C1054.71,864.42 1054.99,863.45 1055.26,862.48 C1055.53,861.52 1055.81,860.55 1056.08,859.58 C1056.35,858.62 1056.63,857.65 1056.90,856.69 C1057.18,855.72 1057.45,854.76 1057.73,853.79 C1058.00,852.83 1058.28,851.86 1058.56,850.90 C1058.83,849.94 1059.11,848.98 1059.39,848.01 C1059.67,847.05 1059.95,846.09 1060.23,845.13 C1060.52,844.17 1060.80,843.22 1061.08,842.26 C1061.37,841.30 1061.66,840.34 1061.94,839.39 C1062.23,838.43 1062.52,837.48 1062.81,836.53 C1063.10,835.57 1063.40,834.62 1063.69,833.67 C1063.99,832.72 1064.28,831.77 1064.58,830.82 C1064.88,829.87 1065.18,828.92 1065.48,827.97 C1065.78,827.03 1066.08,826.08 1066.38,825.13 C1066.69,824.19 1066.99,823.24 1067.30,822.30 C1067.60,821.35 1067.91,820.41 1068.22,819.46 C1068.53,818.52 1068.84,817.58 1069.15,816.64 C1069.46,815.69 1069.78,814.75 1070.09,813.81 C1070.40,812.87 1070.72,811.93 1071.04,810.99 C1071.35,810.04 1071.67,809.10 1071.99,808.16 C1072.31,807.22 1072.63,806.28 1072.95,805.34 C1073.27,804.40 1073.59,803.46 1073.92,802.53 C1074.24,801.59 1074.57,800.65 1074.89,799.71 C1075.22,798.77 1075.55,797.83 1075.87,796.89 C1076.20,795.95 1076.53,795.01 1076.86,794.07 C1077.19,793.13 1077.52,792.19 1077.85,791.25 C1078.19,790.31 1078.52,789.37 1078.85,788.44 C1079.19,787.50 1079.52,786.56 1079.86,785.61 C1080.19,784.67 1080.53,783.73 1080.87,782.79 C1081.20,781.85 1081.54,780.91 1081.88,779.97 C1082.22,779.03 1082.56,778.08 1082.90,777.14 C1083.24,776.20 1083.58,775.25 1083.92,774.31 C1084.27,773.37 1084.61,772.42 1084.95,771.48 C1085.30,770.53 1085.64,769.59 1085.98,768.64 C1086.33,767.69 1086.67,766.75 1087.02,765.80 C1087.37,764.85 1087.71,763.90 1088.06,762.95 C1088.41,762.00 1088.75,761.05 1089.10,760.10 C1089.45,759.15 1089.80,758.19 1090.15,757.24 C1090.50,756.29 1090.85,755.33 1091.20,754.38 C1091.55,753.42 1091.90,752.46 1092.25,751.50 C1092.60,750.55 1092.95,749.59 1093.30,748.63 C1093.66,747.67 1094.01,746.70 1094.36,745.75 C1094.72,744.79 1095.08,743.83 1095.44,742.87 C1095.81,741.92 1096.18,740.97 1096.56,740.02 C1096.94,739.08 1097.32,738.14 1097.72,737.21 C1098.12,736.28 1098.53,735.36 1098.95,734.44 C1099.37,733.53 1099.81,732.63 1100.26,731.74 C1100.71,730.86 1101.18,729.98 1101.67,729.12 C1102.15,728.26 1102.65,727.42 1103.18,726.59 C1103.70,725.76 1104.25,724.95 1104.82,724.16 C1105.39,723.37 1105.98,722.60 1106.60,721.85 C1107.22,721.11 1107.86,720.38 1108.53,719.68 C1109.21,718.98 1109.91,718.30 1110.64,717.65 C1111.37,717.00 1112.13,716.38 1112.93,715.79 C1113.73,715.19 1114.56,714.62 1115.42,714.10 C1116.29,713.56 1117.19,713.06 1118.11,712.60 C1119.04,712.13 1120.00,711.71 1120.97,711.33 C1121.94,710.96 1122.93,710.63 1123.93,710.36 C1124.91,710.09 1125.92,709.87 1126.92,709.73 C1127.90,709.58 1128.90,709.50 1129.88,709.48 C1130.85,709.47 1131.82,709.53 1132.78,709.64 C1133.74,709.75 1134.69,709.93 1135.62,710.16 C1136.57,710.38 1137.50,710.66 1138.42,710.98 C1139.34,711.30 1140.26,711.67 1141.17,712.07 C1142.08,712.47 1142.98,712.92 1143.87,713.38 C1144.77,713.85 1145.66,714.35 1146.55,714.87 C1147.44,715.39 1148.32,715.93 1149.19,716.48 C1150.07,717.04 1150.94,717.61 1151.81,718.18 C1152.69,718.75 1153.55,719.34 1154.42,719.92 C1155.28,720.49 1156.15,721.07 1157.01,721.65 C1157.87,722.22 1158.73,722.79 1159.58,723.36 C1160.43,723.93 1161.28,724.50 1162.12,725.08 C1162.95,725.66 1163.78,726.24 1164.60,726.83 C1165.41,727.43 1166.21,728.02 1167.00,728.64 C1167.79,729.25 1168.56,729.88 1169.31,730.52 C1170.07,731.16 1170.80,731.82 1171.53,732.49 C1172.25,733.16 1172.95,733.84 1173.64,734.54 C1174.33,735.23 1175.01,735.94 1175.67,736.66 C1176.33,737.39 1176.98,738.12 1177.61,738.87 C1178.24,739.61 1178.86,740.37 1179.47,741.14 C1180.08,741.90 1180.68,742.68 1181.26,743.47 C1181.85,744.26 1182.42,745.06 1182.98,745.86 C1183.54,746.67 1184.10,747.49 1184.64,748.31 C1185.18,749.13 1185.71,749.97 1186.24,750.81 C1186.76,751.65 1187.28,752.49 1187.79,753.35 C1188.29,754.20 1188.79,755.06 1189.29,755.93 C1189.78,756.80 1190.26,757.67 1190.74,758.55 C1191.23,759.43 1191.70,760.31 1192.17,761.20 C1192.64,762.08 1193.10,762.98 1193.56,763.87 C1194.02,764.77 1194.47,765.67 1194.93,766.57 C1195.38,767.47 1195.83,768.37 1196.27,769.28 C1196.72,770.19 1197.16,771.10 1197.60,772.00 C1198.05,772.91 1198.49,773.83 1198.93,774.74 C1199.37,775.65 1199.80,776.56 1200.24,777.47 C1200.68,778.38 1201.12,779.30 1201.56,780.21 C1202.01,781.12 1202.45,782.02 1202.89,782.93 C1203.33,783.84 1203.78,784.75 1204.22,785.65 C1204.67,786.56 1205.12,787.46 1205.57,788.37 C1206.01,789.27 1206.46,790.17 1206.91,791.07 C1207.36,791.97 1207.82,792.87 1208.27,793.77 C1208.72,794.67 1209.18,795.57 1209.63,796.47 C1210.09,797.36 1210.54,798.26 1211.00,799.15 C1211.46,800.05 1211.92,800.94 1212.38,801.83 C1212.84,802.72 1213.30,803.61 1213.76,804.51 C1214.23,805.40 1214.69,806.28 1215.15,807.17 C1215.62,808.06 1216.09,808.95 1216.55,809.83 C1217.02,810.72 1217.49,811.61 1217.96,812.49 C1218.43,813.37 1218.90,814.26 1219.37,815.14 C1219.84,816.02 1220.32,816.90 1220.79,817.78 C1221.27,818.66 1221.74,819.54 1222.22,820.42 C1222.70,821.30 1223.18,822.18 1223.66,823.05 C1224.13,823.93 1224.62,824.80 1225.10,825.68 C1225.58,826.55 1226.06,827.43 1226.55,828.30 C1227.03,829.17 1227.52,830.04 1228.00,830.92 C1228.49,831.79 1228.98,832.66 1229.47,833.53 C1229.95,834.39 1230.44,835.26 1230.94,836.13 C1231.43,837.00 1231.92,837.86 1232.41,838.73 C1232.91,839.60 1233.40,840.46 1233.90,841.33 C1234.39,842.19 1234.89,843.05 1235.39,843.92 C1235.89,844.78 1236.39,845.64 1236.89,846.50 C1237.39,847.36 1237.89,848.22 1238.39,849.08 C1238.90,849.94 1239.40,850.80 1239.91,851.66 C1240.41,852.52 1240.92,853.37 1241.43,854.23 C1241.93,855.09 1242.44,855.94 1242.95,856.80 C1243.46,857.65 1243.97,858.51 1244.49,859.36 C1245.00,860.21 1245.51,861.07 1246.03,861.92 C1246.54,862.77 1247.06,863.62 1247.57,864.48 C1248.09,865.33 1248.61,866.18 1249.13,867.03 C1249.65,867.88 1250.17,868.72 1250.69,869.57 C1251.21,870.42 1251.74,871.27 1252.26,872.11 C1252.79,872.96 1253.31,873.81 1253.84,874.65 C1254.37,875.49 1254.90,876.34 1255.44,877.18 C1255.97,878.02 1256.51,878.86 1257.05,879.69 C1257.59,880.53 1258.14,881.36 1258.69,882.19 C1259.24,883.03 1259.79,883.86 1260.35,884.68 C1260.90,885.51 1261.46,886.33 1262.03,887.15 C1262.60,887.97 1263.17,888.79 1263.75,889.61 C1264.32,890.42 1264.90,891.23 1265.49,892.04 C1266.08,892.84 1266.67,893.65 1267.28,894.45 C1267.88,895.25 1268.48,896.04 1269.10,896.83 C1269.71,897.62 1270.33,898.41 1270.96,899.19 C1271.59,899.97 1272.22,900.75 1272.87,901.52 C1273.51,902.29 1274.16,903.06 1274.82,903.82 C1275.49,904.58 1276.15,905.33 1276.83,906.08 C1277.51,906.83 1278.20,907.58 1278.89,908.31 C1279.59,909.05 1280.29,909.78 1281.01,910.51 C1281.73,911.23 1282.45,911.95 1283.19,912.66 C1283.92,913.38 1284.67,914.08 1285.43,914.78 C1286.19,915.48 1286.95,916.17 1287.73,916.85 C1288.52,917.53 1289.31,918.21 1290.11,918.87 C1290.91,919.53 1291.72,920.19 1292.54,920.82 C1293.37,921.45 1294.20,922.06 1295.04,922.66 C1295.88,923.24 1296.73,923.81 1297.59,924.35 C1298.44,924.89 1299.31,925.40 1300.19,925.88 C1301.06,926.36 1301.94,926.81 1302.83,927.21 C1303.71,927.61 1304.60,927.99 1305.51,928.31 C1306.40,928.63 1307.31,928.92 1308.22,929.15 C1309.12,929.38 1310.04,929.56 1310.96,929.69 C1311.88,929.82 1312.80,929.90 1313.72,929.91 C1314.65,929.93 1315.58,929.89 1316.51,929.78 C1317.44,929.67 1318.38,929.50 1319.30,929.28 C1320.24,929.05 1321.17,928.76 1322.09,928.43 C1323.03,928.09 1323.96,927.69 1324.87,927.26 C1325.80,926.82 1326.72,926.33 1327.63,925.81 C1328.54,925.29 1329.45,924.71 1330.34,924.12 C1331.24,923.52 1332.12,922.87 1333.00,922.22 C1333.89,921.56 1334.76,920.87 1335.63,920.19 C1336.49,919.50 1337.35,918.80 1338.21,918.11 C1339.07,917.42 1339.92,916.73 1340.77,916.06 C1341.61,915.39 1342.46,914.73 1343.31,914.11 C1344.14,913.50 1344.98,912.90 1345.83,912.35 C1346.66,911.81 1347.49,911.30 1348.34,910.85 C1349.17,910.41 1350.01,910.01 1350.86,909.69 C1351.69,909.38 1352.53,909.12 1353.38,908.95 C1354.22,908.79 1355.07,908.70 1355.92,908.71 C1356.77,908.73 1357.63,908.85 1358.48,909.05 C1359.34,909.25 1360.21,909.57 1361.06,909.92 C1361.94,910.29 1362.81,910.74 1363.67,911.22 C1364.56,911.70 1365.44,912.25 1366.31,912.80 C1367.21,913.36 1368.10,913.96 1368.99,914.55 C1369.89,915.14 1370.80,915.74 1371.71,916.33 C1372.62,916.91 1373.53,917.50 1374.45,918.06 C1375.37,918.61 1376.30,919.16 1377.23,919.68 C1378.15,920.19 1379.08,920.69 1380.02,921.15 C1380.95,921.60 1381.88,922.02 1382.82,922.40 C1383.75,922.76 1384.69,923.10 1385.63,923.37 C1386.56,923.64 1387.49,923.87 1388.43,924.02 C1389.36,924.17 1390.30,924.27 1391.23,924.29 C1392.15,924.30 1393.08,924.25 1394.00,924.12 C1394.92,923.98 1395.85,923.75 1396.75,923.45 C1397.67,923.16 1398.57,922.77 1399.46,922.34 C1400.36,921.90 1401.24,921.40 1402.11,920.86 C1402.99,920.33 1403.85,919.73 1404.70,919.13 C1405.55,918.52 1406.38,917.87 1407.19,917.22 C1408.01,916.57 1408.81,915.90 1409.59,915.22 C1410.37,914.55 1411.14,913.86 1411.89,913.16 C1412.64,912.46 1413.37,911.75 1414.09,911.03 C1414.81,910.32 1415.51,909.58 1416.20,908.84 C1416.89,908.11 1417.56,907.36 1418.23,906.60 C1418.88,905.84 1419.53,905.07 1420.16,904.29 C1420.79,903.51 1421.41,902.73 1422.02,901.93 C1422.63,901.14 1423.22,900.34 1423.80,899.52 C1424.38,898.71 1424.95,897.89 1425.51,897.07 C1426.07,896.24 1426.61,895.41 1427.15,894.57 C1427.68,893.73 1428.21,892.88 1428.72,892.03 C1429.24,891.17 1429.74,890.31 1430.24,889.45 C1430.73,888.58 1431.22,887.71 1431.69,886.83 C1432.17,885.96 1432.64,885.07 1433.09,884.19 C1433.55,883.30 1434.00,882.40 1434.45,881.51 C1434.89,880.61 1435.33,879.71 1435.75,878.80 C1436.18,877.90 1436.60,876.99 1437.02,876.08 C1437.44,875.16 1437.84,874.25 1438.25,873.33 C1438.65,872.41 1439.05,871.49 1439.44,870.56 C1439.83,869.64 1440.22,868.71 1440.60,867.78 C1440.99,866.85 1441.37,865.92 1441.74,864.99 C1442.12,864.05 1442.49,863.12 1442.86,862.18 C1443.22,861.25 1443.59,860.31 1443.95,859.37 C1444.31,858.44 1444.67,857.50 1445.03,856.56 C1445.39,855.62 1445.74,854.69 1446.10,853.75 C1446.45,852.81 1446.80,851.87 1447.15,850.93 C1447.49,849.99 1447.84,849.05 1448.18,848.10 C1448.53,847.16 1448.87,846.22 1449.20,845.28 C1449.54,844.34 1449.88,843.39 1450.21,842.45 C1450.55,841.50 1450.88,840.56 1451.21,839.62 C1451.53,838.67 1451.86,837.73 1452.19,836.78 C1452.51,835.83 1452.83,834.89 1453.15,833.94 C1453.47,832.99 1453.79,832.05 1454.11,831.10 C1454.42,830.15 1454.74,829.20 1455.05,828.25 C1455.36,827.30 1455.67,826.35 1455.98,825.40 C1456.28,824.45 1456.59,823.50 1456.89,822.55 C1457.20,821.60 1457.50,820.65 1457.80,819.70 C1458.10,818.75 1458.40,817.79 1458.69,816.84 C1458.99,815.89 1459.28,814.94 1459.57,813.98 C1459.86,813.03 1460.15,812.07 1460.44,811.12 C1460.73,810.16 1461.02,809.21 1461.30,808.25 C1461.58,807.30 1461.87,806.34 1462.15,805.38 C1462.43,804.43 1462.71,803.47 1462.98,802.51 C1463.26,801.56 1463.54,800.60 1463.81,799.64 C1464.08,798.68 1464.36,797.72 1464.63,796.76 C1464.90,795.80 1465.17,794.84 1465.43,793.88 C1465.70,792.92 1465.97,791.96 1466.23,791.00 C1466.49,790.04 1466.76,789.08 1467.02,788.12 C1467.28,787.16 1467.54,786.19 1467.80,785.23 C1468.05,784.27 1468.31,783.31 1468.56,782.34 C1468.82,781.38 1469.07,780.42 1469.33,779.45 C1469.58,778.49 1469.83,777.52 1470.08,776.56 C1470.33,775.59 1470.57,774.63 1470.82,773.66 C1471.07,772.70 1471.31,771.73 1471.56,770.76 C1471.80,769.80 1472.04,768.83 1472.28,767.86 C1472.53,766.90 1472.77,765.93 1473.00,764.96 C1473.24,763.99 1473.48,763.02 1473.72,762.06 C1473.95,761.09 1474.19,760.12 1474.42,759.15 C1474.66,758.18 1474.89,757.21 1475.12,756.24 C1475.35,755.27 1475.59,754.30 1475.82,753.33 C1476.05,752.36 1476.27,751.39 1476.50,750.42 C1476.73,749.44 1476.96,748.47 1477.18,747.50 C1477.41,746.53 1477.63,745.56 1477.86,744.58 C1478.08,743.61 1478.30,742.64 1478.52,741.67 C1478.75,740.69 1478.97,739.72 1479.19,738.75 C1479.41,737.77 1479.63,736.80 1479.85,735.82 C1480.06,734.85 1480.28,733.87 1480.50,732.90 C1480.72,731.92 1480.93,730.95 1481.15,729.97 C1481.36,729.00 1481.58,728.02 1481.79,727.05 C1482.01,726.07 1482.22,725.09 1482.43,724.12 C1482.64,723.14 1482.86,722.16 1483.07,721.19 C1483.28,720.21 1483.49,719.23 1483.70,718.26 C1483.91,717.28 1484.12,716.30 1484.33,715.32 C1484.54,714.35 1484.75,713.37 1484.95,712.39 C1485.16,711.41 1485.37,710.43 1485.58,709.45 C1485.78,708.47 1485.99,707.49 1486.20,706.52 C1486.40,705.54 1486.61,704.56 1486.81,703.58 C1487.02,702.60 1487.22,701.62 1487.43,700.64 C1487.63,699.66 1487.84,698.68 1488.04,697.70 C1488.25,696.72 1488.45,695.73 1488.65,694.75 C1488.86,693.77 1489.06,692.79 1489.26,691.81 C1489.46,690.83 1489.67,689.85 1489.87,688.87 C1490.07,687.88 1490.27,686.90 1490.48,685.92 C1490.68,684.94 1490.88,683.96 1491.08,682.97 C1491.29,681.99 1491.49,681.01 1491.69,680.03 C1491.89,679.04 1492.09,678.06 1492.29,677.08 C1492.50,676.09 1492.70,675.11 1492.90,674.13 C1493.10,673.15 1493.30,672.16 1493.50,671.18 C1493.71,670.19 1493.91,669.21 1494.11,668.23 C1494.31,667.24 1494.51,666.26 1494.72,665.28 C1494.92,664.29 1495.12,663.31 1495.32,662.32 C1495.53,661.34 1495.73,660.35 1495.93,659.37 C1496.13,658.39 1496.34,657.40 1496.54,656.42 C1496.74,655.43 1496.95,654.45 1497.15,653.46 C1497.36,652.48 1497.56,651.49 1497.76,650.51 C1497.97,649.52 1498.17,648.54 1498.38,647.55 C1498.58,646.57 1498.79,645.58 1499.00,644.60 C1499.20,643.61 1499.41,642.63 1499.62,641.64 C1499.82,640.66 1500.03,639.67 1500.24,638.69 C1500.45,637.70 1500.66,636.72 1500.88,635.73 C1501.09,634.75 1501.30,633.77 1501.52,632.78 C1501.73,631.80 1501.95,630.82 1502.17,629.84 C1502.39,628.85 1502.61,627.87 1502.83,626.89 C1503.05,625.91 1503.28,624.93 1503.51,623.95 C1503.73,622.98 1503.96,622.00 1504.20,621.02 C1504.43,620.04 1504.66,619.07 1504.90,618.09 C1505.14,617.12 1505.38,616.15 1505.63,615.17 C1505.87,614.20 1506.12,613.23 1506.37,612.26 C1506.62,611.29 1506.88,610.32 1507.13,609.36 C1507.39,608.39 1507.65,607.43 1507.92,606.46 C1508.19,605.50 1508.46,604.54 1508.73,603.58 C1509.01,602.62 1509.29,601.66 1509.57,600.70 C1509.85,599.75 1510.14,598.79 1510.43,597.84 C1510.73,596.89 1511.02,595.94 1511.33,594.99 C1511.63,594.04 1511.94,593.10 1512.25,592.15 C1512.56,591.21 1512.88,590.27 1513.20,589.33 C1513.53,588.39 1513.86,587.45 1514.19,586.52 C1514.53,585.59 1514.87,584.65 1515.22,583.73 C1515.56,582.80 1515.92,581.87 1516.28,580.95 C1516.64,580.02 1517.00,579.10 1517.38,578.19 C1517.75,577.27 1518.13,576.35 1518.52,575.44 C1518.90,574.53 1519.29,573.62 1519.70,572.72 C1520.10,571.81 1520.50,570.91 1520.92,570.01 C1521.33,569.11 1521.76,568.21 1522.19,567.32 C1522.62,566.43 1523.05,565.54 1523.50,564.65 C1523.95,563.77 1524.40,562.89 1524.86,562.01 C1525.32,561.13 1525.79,560.25 1526.27,559.38 C1526.75,558.51 1527.23,557.64 1527.72,556.78 C1528.21,555.91 1528.71,555.05 1529.21,554.19 C1529.72,553.33 1530.23,552.48 1530.74,551.62 C1531.26,550.77 1531.78,549.92 1532.31,549.07 C1532.84,548.22 1533.37,547.38 1533.91,546.54 C1534.45,545.69 1534.99,544.85 1535.54,544.02 C1536.09,543.18 1536.64,542.34 1537.20,541.51 C1537.76,540.68 1538.32,539.85 1538.89,539.02 C1539.45,538.19 1540.02,537.36 1540.59,536.54 C1541.16,535.71 1541.74,534.89 1542.32,534.07 C1542.90,533.25 1543.48,532.43 1544.06,531.61 C1544.65,530.79 1545.23,529.98 1545.82,529.16 C1546.41,528.35 1547.00,527.54 1547.59,526.72 C1548.18,525.91 1548.77,525.10 1549.37,524.29 C1549.96,523.48 1550.56,522.67 1551.16,521.87 C1551.75,521.06 1552.35,520.25 1552.95,519.45 C1553.54,518.64 1554.14,517.84 1554.74,517.03 C1555.33,516.23 1555.93,515.42 1556.53,514.62 C1557.12,513.82 1557.72,513.01 1558.31,512.21 C1558.91,511.41 1559.50,510.61 1560.09,509.81 C1560.68,509.00 1561.27,508.20 1561.86,507.40 C1562.45,506.60 1563.04,505.80 1563.62,505.00 C1564.20,504.19 1564.78,503.39 1565.36,502.59 C1565.94,501.79 1566.52,500.99 1567.10,500.19 C1567.68,499.39 1568.26,498.59 1568.86,497.80 C1569.45,497.01 1570.05,496.22 1570.66,495.44 C1571.27,494.66 1571.89,493.89 1572.53,493.13 C1573.17,492.36 1573.83,491.61 1574.50,490.87 C1575.18,490.12 1575.88,489.39 1576.60,488.67 C1577.33,487.95 1578.07,487.25 1578.84,486.56 C1579.63,485.87 1580.43,485.19 1581.27,484.54 C1582.11,483.88 1582.99,483.23 1583.89,482.63 C1584.80,482.02 1585.73,481.42 1586.68,480.89 C1587.62,480.38 1588.58,479.89 1589.54,479.50 C1590.46,479.13 1591.41,478.80 1592.33,478.61 C1593.22,478.43 1594.11,478.34 1594.97,478.36 C1595.80,478.38 1596.63,478.52 1597.43,478.73 C1598.22,478.95 1598.99,479.28 1599.72,479.66 C1600.47,480.06 1601.18,480.55 1601.86,481.08 C1602.57,481.62 1603.23,482.25 1603.87,482.90 C1604.53,483.58 1605.15,484.31 1605.75,485.07 C1606.37,485.85 1606.95,486.67 1607.52,487.51 C1608.10,488.36 1608.66,489.25 1609.20,490.15 C1609.75,491.06 1610.27,491.99 1610.79,492.92 C1611.31,493.85 1611.81,494.80 1612.31,495.75 C1612.81,496.69 1613.29,497.64 1613.77,498.58 C1614.25,499.53 1614.72,500.47 1615.18,501.41 C1615.64,502.35 1616.09,503.30 1616.53,504.24 C1616.97,505.18 1617.41,506.12 1617.83,507.06 C1618.26,508.00 1618.67,508.94 1619.08,509.88 C1619.49,510.82 1619.89,511.76 1620.29,512.70 C1620.68,513.64 1621.07,514.57 1621.45,515.51 C1621.83,516.45 1622.20,517.39 1622.57,518.33 C1622.93,519.26 1623.29,520.20 1623.64,521.14 C1623.99,522.08 1624.34,523.02 1624.68,523.96 C1625.02,524.89 1625.35,525.83 1625.68,526.77 C1626.01,527.71 1626.33,528.65 1626.65,529.59 C1626.97,530.53 1627.28,531.47 1627.58,532.41 C1627.89,533.35 1628.19,534.29 1628.49,535.23 C1628.78,536.17 1629.08,537.11 1629.36,538.05 C1629.65,538.99 1629.93,539.94 1630.21,540.88 C1630.49,541.82 1630.77,542.77 1631.04,543.71 C1631.31,544.66 1631.58,545.60 1631.85,546.55 C1632.11,547.49 1632.37,548.44 1632.63,549.39 C1632.89,550.34 1633.15,551.29 1633.40,552.24 C1633.65,553.19 1633.90,554.14 1634.15,555.09 C1634.40,556.05 1634.65,557.00 1634.89,557.95 C1635.14,558.91 1635.38,559.87 1635.62,560.82 C1635.86,561.78 1636.10,562.74 1636.34,563.70 C1636.58,564.66 1636.82,565.63 1637.05,566.59 C1637.29,567.55 1637.53,568.52 1637.76,569.48 C1638.00,570.45 1638.23,571.42 1638.47,572.39 C1638.70,573.36 1638.94,574.33 1639.17,575.31 C1639.41,576.28 1639.64,577.26 1639.88,578.24 C1640.12,579.22 1640.35,580.20 1640.59,581.18 C1640.83,582.16 1641.07,583.14 1641.31,584.13 C1641.55,585.12 1641.79,586.10 1642.03,587.09 C1642.28,588.09 1642.52,589.08 1642.77,590.07 C1643.01,591.07 1643.26,592.07 1643.51,593.07 C1643.77,594.07 1644.02,595.07 1644.28,596.07" stroke="#FF6100"/>
<path d="M160.12,407.03 C160.32,408.00 160.53,408.97 160.73,409.95 C160.93,410.92 161.13,411.90 161.33,412.87 C161.53,413.85 161.72,414.82 161.92,415.80 C162.11,416.78 162.31,417.75 162.50,418.73 C162.69,419.71 162.88,420.69 163.06,421.67 C163.25,422.65 163.43,423.63 163.62,424.61 C163.80,425.59 163.98,426.57 164.16,427.55 C164.35,428.53 164.52,429.51 164.70,430.49 C164.88,431.48 165.06,432.46 165.23,433.44 C165.40,434.42 165.58,435.41 165.75,436.39 C165.92,437.37 166.09,438.36 166.26,439.34 C166.43,440.33 166.60,441.31 166.77,442.30 C166.93,443.28 167.10,444.27 167.27,445.26 C167.43,446.24 167.60,447.23 167.76,448.21 C167.92,449.20 168.08,450.19 168.25,451.18 C168.41,452.16 168.57,453.15 168.73,454.14 C168.89,455.13 169.05,456.11 169.21,457.10 C169.36,458.09 169.52,459.08 169.68,460.07 C169.84,461.06 169.99,462.05 170.15,463.04 C170.31,464.03 170.46,465.02 170.62,466.01 C170.77,466.99 170.93,467.98 171.08,468.97 C171.24,469.96 171.39,470.95 171.54,471.94 C171.70,472.94 171.85,473.93 172.00,474.92 C172.16,475.91 172.31,476.90 172.47,477.89 C172.62,478.88 172.77,479.87 172.93,480.86 C173.08,481.85 173.23,482.84 173.39,483.83 C173.54,484.82 173.69,485.81 173.85,486.81 C174.00,487.80 174.16,488.79 174.31,489.78 C174.46,490.77 174.62,491.76 174.77,492.75 C174.93,493.74 175.08,494.73 175.24,495.72 C175.40,496.71 175.55,497.70 175.71,498.69 C175.87,499.68 176.02,500.68 176.18,501.67 C176.34,502.66 176.50,503.65 176.66,504.64 C176.82,505.63 176.98,506.62 177.14,507.61 C177.30,508.60 177.46,509.58 177.63,510.57 C177.79,511.56 177.95,512.55 178.12,513.54 C178.28,514.53 178.45,515.52 178.62,516.51 C178.78,517.50 178.95,518.48 179.12,519.47 C179.29,520.46 179.46,521.45 179.63,522.44 C179.80,523.42 179.97,524.41 180.15,525.40 C180.32,526.38 180.50,527.37 180.68,528.36 C180.85,529.34 181.03,530.33 181.21,531.31 C181.39,532.30 181.57,533.28 181.75,534.27 C181.94,535.25 182.12,536.24 182.31,537.22 C182.49,538.21 182.68,539.19 182.87,540.17 C183.06,541.16 183.25,542.14 183.45,543.12 C183.64,544.10 183.84,545.08 184.03,546.07 C184.23,547.05 184.43,548.03 184.63,549.01 C184.83,549.99 185.04,550.97 185.24,551.95 C185.45,552.93 185.65,553.90 185.86,554.88 C186.07,555.86 186.29,556.84 186.50,557.82 C186.71,558.79 186.93,559.77 187.15,560.74 C187.37,561.72 187.59,562.70 187.81,563.67 C188.04,564.64 188.26,565.62 188.49,566.59 C188.72,567.56 188.95,568.54 189.19,569.51 C189.42,570.48 189.66,571.45 189.90,572.42 C190.14,573.39 190.38,574.36 190.63,575.33 C190.87,576.30 191.12,577.27 191.37,578.24 C191.62,579.20 191.87,580.17 192.13,581.14 C192.39,582.10 192.65,583.07 192.91,584.03 C193.17,585.00 193.44,585.96 193.71,586.92 C193.98,587.89 194.25,588.85 194.53,589.81 C194.80,590.77 195.08,591.73 195.36,592.69 C195.65,593.65 195.93,594.61 196.22,595.57 C196.51,596.52 196.80,597.48 197.10,598.44 C197.39,599.39 197.69,600.35 198.00,601.30 C198.30,602.26 198.61,603.21 198.92,604.16 C199.23,605.11 199.54,606.06 199.86,607.01 C200.18,607.96 200.50,608.91 200.82,609.86 C201.15,610.81 201.48,611.76 201.82,612.70 C202.15,613.64 202.49,614.59 202.84,615.53 C203.19,616.46 203.54,617.40 203.90,618.33 C204.26,619.27 204.63,620.19 205.00,621.12 C205.38,622.04 205.76,622.96 206.16,623.88 C206.55,624.79 206.95,625.70 207.37,626.60 C207.78,627.50 208.20,628.40 208.64,629.28 C209.08,630.17 209.52,631.05 209.98,631.92 C210.44,632.80 210.91,633.66 211.40,634.52 C211.89,635.37 212.38,636.22 212.90,637.05 C213.41,637.89 213.94,638.72 214.49,639.53 C215.03,640.35 215.59,641.15 216.17,641.95 C216.74,642.74 217.34,643.52 217.95,644.29 C218.56,645.06 219.19,645.82 219.83,646.56 C220.48,647.31 221.15,648.04 221.83,648.75 C222.52,649.47 223.23,650.17 223.95,650.86 C224.68,651.55 225.43,652.22 226.20,652.87 C226.97,653.53 227.76,654.17 228.56,654.79 C229.37,655.42 230.20,656.02 231.05,656.61 C231.89,657.20 232.75,657.76 233.63,658.31 C234.51,658.86 235.40,659.38 236.30,659.89 C237.21,660.39 238.13,660.88 239.06,661.33 C239.99,661.79 240.93,662.23 241.88,662.64 C242.83,663.05 243.79,663.44 244.76,663.80 C245.72,664.16 246.69,664.49 247.67,664.80 C248.65,665.11 249.64,665.39 250.63,665.64 C251.61,665.89 252.60,666.11 253.60,666.30 C254.59,666.49 255.58,666.65 256.58,666.77 C257.57,666.90 258.57,667.00 259.56,667.06 C260.55,667.13 261.54,667.16 262.53,667.17 C263.52,667.19 264.51,667.18 265.49,667.15 C266.48,667.12 267.47,667.08 268.45,667.02 C269.44,666.97 270.42,666.90 271.41,666.83 C272.39,666.76 273.37,666.68 274.35,666.61 C275.34,666.53 276.32,666.46 277.30,666.39 C278.28,666.33 279.26,666.26 280.24,666.22 C281.22,666.17 282.20,666.14 283.18,666.12 C284.16,666.11 285.14,666.11 286.12,666.14 C287.09,666.18 288.07,666.23 289.05,666.32 C290.03,666.40 291.01,666.52 291.98,666.66 C292.96,666.80 293.94,666.98 294.91,667.17 C295.89,667.37 296.86,667.59 297.83,667.84 C298.81,668.08 299.78,668.35 300.74,668.64 C301.71,668.92 302.67,669.23 303.63,669.56 C304.59,669.89 305.55,670.23 306.50,670.59 C307.46,670.95 308.41,671.33 309.35,671.71 C310.29,672.10 311.23,672.50 312.17,672.91 C313.10,673.32 314.03,673.75 314.95,674.18 C315.88,674.61 316.79,675.05 317.71,675.49 C318.61,675.94 319.52,676.39 320.42,676.84 C321.31,677.29 322.20,677.75 323.09,678.20 C323.98,678.65 324.86,679.10 325.75,679.54 C326.63,679.96 327.52,680.39 328.41,680.78 C329.31,681.18 330.21,681.56 331.12,681.90 C332.03,682.24 332.95,682.55 333.89,682.82 C334.83,683.09 335.79,683.33 336.76,683.51 C337.74,683.69 338.73,683.83 339.74,683.91 C340.77,683.99 341.82,683.99 342.87,683.98 C343.93,683.97 345.01,683.88 346.08,683.85 C347.15,683.81 348.22,683.74 349.27,683.77 C350.30,683.80 351.33,683.84 352.32,684.01 C353.29,684.16 354.24,684.41 355.16,684.72 C356.08,685.03 356.96,685.43 357.83,685.85 C358.70,686.28 359.54,686.77 360.38,687.28 C361.22,687.79 362.03,688.35 362.85,688.90 C363.68,689.45 364.49,690.03 365.32,690.59 C366.15,691.15 366.97,691.72 367.82,692.25 C368.68,692.78 369.54,693.30 370.42,693.77 C371.31,694.24 372.23,694.67 373.15,695.07 C374.08,695.48 375.02,695.84 375.97,696.20 C376.92,696.55 377.89,696.87 378.85,697.19 C379.81,697.51 380.78,697.80 381.74,698.10 C382.71,698.40 383.67,698.69 384.63,698.97 C385.59,699.26 386.55,699.54 387.51,699.82 C388.46,700.10 389.42,700.37 390.37,700.65 C391.32,700.93 392.27,701.21 393.22,701.49 C394.16,701.77 395.10,702.05 396.04,702.34 C396.98,702.63 397.91,702.92 398.85,703.22 C399.78,703.52 400.70,703.82 401.62,704.14 C402.54,704.46 403.46,704.78 404.37,705.12 C405.28,705.46 406.19,705.81 407.09,706.17 C407.99,706.54 408.89,706.92 409.78,707.31 C410.66,707.71 411.55,708.12 412.42,708.55 C413.30,708.98 414.17,709.43 415.03,709.90 C415.90,710.37 416.75,710.86 417.60,711.37 C418.45,711.89 419.29,712.43 420.12,712.99 C420.96,713.56 421.79,714.15 422.60,714.76 C423.42,715.38 424.23,716.03 425.03,716.69 C425.83,717.36 426.63,718.05 427.42,718.74 C428.21,719.44 429.00,720.15 429.79,720.87 C430.57,721.58 431.35,722.31 432.14,723.02 C432.92,723.74 433.70,724.46 434.49,725.16 C435.28,725.86 436.06,726.56 436.86,727.24 C437.65,727.91 438.44,728.58 439.25,729.22 C440.05,729.84 440.85,730.46 441.68,731.04 C442.49,731.61 443.31,732.16 444.15,732.67 C444.98,733.17 445.82,733.64 446.69,734.05 C447.54,734.47 448.41,734.84 449.29,735.16 C450.18,735.47 451.08,735.73 451.99,735.93 C452.90,736.12 453.84,736.25 454.78,736.32 C455.73,736.40 456.69,736.39 457.66,736.35 C458.63,736.30 459.62,736.19 460.60,736.05 C461.59,735.90 462.58,735.70 463.57,735.48 C464.56,735.25 465.56,734.97 466.54,734.68 C467.53,734.39 468.51,734.06 469.49,733.72 C470.46,733.38 471.42,733.01 472.38,732.63 C473.32,732.26 474.26,731.87 475.18,731.49 C476.09,731.10 476.99,730.70 477.89,730.32 C478.77,729.94 479.65,729.55 480.54,729.18 C481.42,728.82 482.30,728.46 483.20,728.13 C484.10,727.79 485.00,727.48 485.92,727.19 C486.85,726.90 487.79,726.65 488.73,726.40 C489.69,726.16 490.65,725.94 491.62,725.73 C492.60,725.52 493.58,725.33 494.56,725.14 C495.55,724.95 496.55,724.78 497.55,724.60 C498.54,724.42 499.54,724.25 500.54,724.07 C501.54,723.89 502.54,723.71 503.54,723.52 C504.53,723.32 505.52,723.13 506.51,722.91 C507.49,722.69 508.47,722.47 509.43,722.21 C510.40,721.96 511.35,721.69 512.30,721.39 C513.24,721.09 514.17,720.77 515.08,720.41 C515.99,720.05 516.88,719.66 517.76,719.23 C518.63,718.81 519.49,718.35 520.33,717.86 C521.18,717.38 522.00,716.86 522.82,716.33 C523.64,715.79 524.44,715.22 525.24,714.64 C526.04,714.06 526.82,713.46 527.60,712.84 C528.38,712.23 529.16,711.59 529.93,710.95 C530.70,710.31 531.46,709.65 532.23,709.00 C533.00,708.34 533.76,707.67 534.53,707.00 C535.30,706.34 536.07,705.66 536.84,705.00 C537.62,704.33 538.40,703.66 539.18,703.01 C539.97,702.35 540.76,701.69 541.57,701.06 C542.37,700.43 543.18,699.81 544.01,699.23 C544.83,698.66 545.66,698.10 546.51,697.60 C547.35,697.11 548.21,696.64 549.08,696.25 C549.95,695.86 550.83,695.51 551.73,695.25 C552.62,694.99 553.54,694.79 554.46,694.69 C555.39,694.59 556.34,694.58 557.28,694.66 C558.24,694.73 559.21,694.90 560.14,695.13 C561.09,695.37 562.04,695.69 562.95,696.07 C563.86,696.44 564.75,696.89 565.60,697.39 C566.45,697.88 567.26,698.44 568.04,699.03 C568.83,699.63 569.58,700.28 570.31,700.95 C571.04,701.63 571.74,702.35 572.43,703.09 C573.12,703.83 573.79,704.61 574.45,705.39 C575.11,706.18 575.75,707.00 576.39,707.82 C577.03,708.63 577.65,709.47 578.28,710.30 C578.92,711.13 579.54,711.97 580.18,712.80 C580.81,713.62 581.44,714.45 582.09,715.25 C582.74,716.06 583.40,716.85 584.07,717.62 C584.75,718.38 585.43,719.13 586.15,719.84 C586.86,720.54 587.59,721.22 588.36,721.86 C589.12,722.49 589.91,723.09 590.73,723.63 C591.55,724.17 592.40,724.66 593.27,725.11 C594.15,725.55 595.05,725.94 595.96,726.27 C596.88,726.61 597.81,726.89 598.76,727.11 C599.70,727.33 600.66,727.50 601.62,727.60 C602.58,727.70 603.55,727.74 604.51,727.72 C605.47,727.70 606.44,727.61 607.39,727.46 C608.35,727.30 609.30,727.09 610.23,726.80 C611.16,726.50 612.09,726.14 612.98,725.71 C613.88,725.28 614.76,724.77 615.60,724.20 C616.46,723.61 617.27,722.94 618.07,722.23 C618.87,721.52 619.64,720.72 620.40,719.93 C621.17,719.13 621.90,718.29 622.65,717.47 C623.40,716.65 624.12,715.80 624.88,715.01 C625.62,714.22 626.36,713.43 627.13,712.72 C627.89,712.03 628.66,711.35 629.47,710.79 C630.26,710.24 631.09,709.74 631.95,709.37 C632.80,709.02 633.70,708.77 634.61,708.62 C635.51,708.47 636.46,708.45 637.39,708.50 C638.33,708.55 639.29,708.72 640.22,708.93 C641.17,709.16 642.11,709.47 643.02,709.83 C643.94,710.20 644.85,710.63 645.72,711.11 C646.59,711.59 647.43,712.12 648.23,712.69 C649.03,713.25 649.79,713.86 650.52,714.51 C651.25,715.15 651.95,715.83 652.61,716.54 C653.28,717.25 653.91,717.99 654.51,718.76 C655.12,719.53 655.69,720.33 656.25,721.15 C656.80,721.97 657.33,722.82 657.83,723.68 C658.34,724.55 658.83,725.44 659.29,726.33 C659.76,727.24 660.21,728.16 660.65,729.09 C661.08,730.02 661.50,730.96 661.91,731.91 C662.32,732.86 662.71,733.83 663.10,734.79 C663.49,735.75 663.87,736.72 664.25,737.69 C664.62,738.66 664.99,739.64 665.36,740.60 C665.73,741.57 666.10,742.53 666.47,743.50 C666.83,744.45 667.20,745.40 667.57,746.35 C667.94,747.30 668.31,748.24 668.68,749.18 C669.05,750.11 669.42,751.05 669.79,751.98 C670.16,752.91 670.52,753.83 670.89,754.76 C671.26,755.68 671.62,756.60 671.99,757.52 C672.35,758.43 672.72,759.35 673.08,760.27 C673.44,761.18 673.80,762.10 674.15,763.01 C674.51,763.92 674.86,764.84 675.21,765.75 C675.56,766.67 675.91,767.58 676.26,768.50 C676.60,769.42 676.94,770.33 677.28,771.25 C677.61,772.18 677.95,773.10 678.28,774.02 C678.61,774.95 678.93,775.88 679.25,776.81 C679.57,777.75 679.88,778.68 680.19,779.62 C680.50,780.57 680.80,781.51 681.10,782.46 C681.40,783.42 681.69,784.38 681.98,785.34 C682.27,786.30 682.56,787.26 682.84,788.23 C683.12,789.20 683.40,790.17 683.68,791.14 C683.96,792.12 684.23,793.09 684.51,794.07 C684.79,795.04 685.07,796.02 685.34,797.00 C685.62,797.97 685.90,798.95 686.18,799.92 C686.47,800.90 686.75,801.87 687.04,802.84 C687.33,803.81 687.62,804.78 687.92,805.74 C688.22,806.71 688.52,807.67 688.83,808.63 C689.14,809.58 689.45,810.53 689.78,811.48 C690.10,812.42 690.43,813.36 690.77,814.30 C691.11,815.23 691.46,816.16 691.82,817.08 C692.18,818.00 692.55,818.91 692.93,819.81 C693.32,820.71 693.71,821.61 694.12,822.49 C694.54,823.37 694.97,824.24 695.44,825.10 C695.90,825.96 696.39,826.81 696.92,827.64 C697.45,828.48 698.02,829.30 698.62,830.09 C699.24,830.90 699.89,831.69 700.59,832.45 C701.30,833.23 702.06,833.99 702.87,834.71 C703.69,835.45 704.57,836.18 705.48,836.81 C706.38,837.44 707.33,838.06 708.28,838.50 C709.19,838.92 710.14,839.27 711.07,839.43 C711.96,839.59 712.87,839.61 713.75,839.51 C714.62,839.41 715.48,839.17 716.31,838.85 C717.15,838.53 717.97,838.08 718.75,837.59 C719.56,837.08 720.33,836.48 721.08,835.85 C721.84,835.20 722.57,834.48 723.28,833.75 C724.00,833.00 724.69,832.21 725.37,831.42 C726.04,830.63 726.69,829.81 727.33,828.99 C727.96,828.17 728.57,827.34 729.17,826.50 C729.76,825.67 730.34,824.83 730.90,823.97 C731.45,823.13 731.99,822.27 732.52,821.40 C733.04,820.54 733.54,819.67 734.03,818.79 C734.52,817.92 734.99,817.03 735.45,816.14 C735.90,815.25 736.34,814.36 736.77,813.45 C737.19,812.55 737.60,811.64 738.00,810.73 C738.40,809.82 738.78,808.90 739.15,807.98 C739.52,807.06 739.88,806.13 740.23,805.20 C740.57,804.26 740.90,803.33 741.23,802.39 C741.55,801.45 741.86,800.50 742.16,799.55 C742.46,798.60 742.75,797.65 743.03,796.69 C743.31,795.74 743.58,794.78 743.85,793.82 C744.11,792.85 744.37,791.89 744.61,790.92 C744.86,789.95 745.10,788.98 745.33,788.01 C745.56,787.04 745.79,786.06 746.01,785.08 C746.23,784.11 746.44,783.13 746.65,782.15 C746.86,781.17 747.07,780.18 747.27,779.20 C747.47,778.22 747.66,777.23 747.86,776.25 C748.05,775.26 748.24,774.28 748.42,773.29 C748.61,772.30 748.80,771.32 748.98,770.33 C749.16,769.34 749.34,768.36 749.52,767.37 C749.70,766.38 749.88,765.39 750.06,764.41 C750.23,763.42 750.41,762.43 750.58,761.44 C750.75,760.45 750.92,759.47 751.09,758.48 C751.26,757.49 751.43,756.50 751.59,755.51 C751.76,754.52 751.92,753.54 752.08,752.55 C752.24,751.56 752.41,750.57 752.56,749.58 C752.72,748.59 752.88,747.60 753.04,746.61 C753.19,745.62 753.34,744.63 753.50,743.64 C753.65,742.65 753.80,741.66 753.95,740.67 C754.10,739.68 754.25,738.69 754.39,737.70 C754.54,736.71 754.68,735.72 754.83,734.73 C754.97,733.74 755.11,732.75 755.25,731.76 C755.39,730.77 755.53,729.78 755.67,728.78 C755.81,727.79 755.94,726.80 756.08,725.81 C756.21,724.82 756.34,723.83 756.48,722.84 C756.61,721.84 756.74,720.85 756.87,719.86 C757.00,718.87 757.12,717.88 757.25,716.88 C757.38,715.89 757.50,714.90 757.63,713.91 C757.75,712.91 757.87,711.92 757.99,710.93 C758.12,709.93 758.24,708.94 758.35,707.95 C758.47,706.96 758.59,705.96 758.71,704.97 C758.82,703.98 758.94,702.98 759.05,701.99 C759.17,701.00 759.28,700.00 759.39,699.01 C759.51,698.01 759.62,697.02 759.73,696.03 C759.84,695.03 759.94,694.04 760.05,693.04 C760.16,692.05 760.27,691.06 760.37,690.06 C760.48,689.07 760.58,688.07 760.69,687.08 C760.79,686.08 760.89,685.09 760.99,684.09 C761.09,683.10 761.20,682.10 761.29,681.11 C761.39,680.11 761.49,679.12 761.59,678.12 C761.69,677.13 761.79,676.13 761.88,675.14 C761.98,674.14 762.07,673.15 762.17,672.15 C762.26,671.16 762.35,670.16 762.45,669.17 C762.54,668.17 762.63,667.17 762.72,666.18 C762.81,665.18 762.90,664.19 762.99,663.19 C763.08,662.19 763.17,661.20 763.26,660.20 C763.35,659.21 763.43,658.21 763.52,657.21 C763.61,656.22 763.69,655.22 763.78,654.22 C763.86,653.23 763.95,652.23 764.03,651.23 C764.12,650.24 764.20,649.24 764.28,648.24 C764.36,647.25 764.45,646.25 764.53,645.25 C764.61,644.26 764.69,643.26 764.77,642.26 C764.85,641.27 764.93,640.27 765.01,639.27 C765.09,638.27 765.17,637.28 765.25,636.28 C765.32,635.28 765.40,634.29 765.48,633.29 C765.56,632.29 765.63,631.29 765.71,630.30 C765.79,629.30 765.86,628.30 765.94,627.30 C766.01,626.31 766.09,625.31 766.16,624.31 C766.24,623.31 766.31,622.32 766.39,621.32 C766.46,620.32 766.53,619.32 766.61,618.32 C766.68,617.33 766.75,616.33 766.83,615.33 C766.90,614.33 766.97,613.33 767.04,612.34 C767.12,611.34 767.19,610.34 767.26,609.34 C767.33,608.35 767.40,607.35 767.48,606.35 C767.55,605.35 767.62,604.35 767.69,603.35 C767.76,602.36 767.83,601.36 767.90,600.36 C767.97,599.36 768.05,598.36 768.12,597.37 C768.19,596.37 768.26,595.37 768.33,594.37 C768.40,593.37 768.47,592.37 768.54,591.38 C768.61,590.38 768.68,589.38 768.75,588.38 C768.82,587.38 768.89,586.38 768.96,585.39 C769.03,584.39 769.10,583.39 769.17,582.39 C769.24,581.39 769.31,580.39 769.38,579.40 C769.45,578.40 769.53,577.40 769.60,576.40 C769.67,575.40 769.74,574.40 769.81,573.41 C769.88,572.41 769.95,571.41 770.02,570.41 C770.09,569.41 770.17,568.41 770.24,567.42 C770.31,566.42 770.38,565.42 770.45,564.42 C770.53,563.42 770.60,562.42 770.67,561.43 C770.74,560.43 770.82,559.43 770.89,558.43 C770.96,557.43 771.04,556.44 771.11,555.44 C771.18,554.44 771.26,553.44 771.33,552.44 C771.41,551.44 771.48,550.45 771.56,549.45 C771.63,548.45 771.71,547.45 771.79,546.45 C771.86,545.46 771.94,544.46 772.02,543.46 C772.09,542.46 772.17,541.46 772.25,540.47 C772.33,539.47 772.40,538.47 772.48,537.47 C772.56,536.47 772.64,535.48 772.72,534.48 C772.80,533.48 772.88,532.48 772.96,531.48 C773.04,530.49 773.12,529.49 773.20,528.49 C773.28,527.49 773.36,526.49 773.44,525.50 C773.52,524.50 773.61,523.50 773.69,522.50 C773.77,521.51 773.85,520.51 773.94,519.51 C774.02,518.51 774.10,517.52 774.19,516.52 C774.27,515.52 774.35,514.52 774.44,513.53 C774.52,512.53 774.61,511.53 774.69,510.53 C774.78,509.54 774.87,508.54 774.95,507.54 C775.04,506.54 775.12,505.55 775.21,504.55 C775.30,503.55 775.39,502.55 775.47,501.56 C775.56,500.56 775.65,499.56 775.74,498.57 C775.83,497.57 775.92,496.57 776.01,495.58 C776.09,494.58 776.18,493.58 776.27,492.58 C776.36,491.59 776.46,490.59 776.55,489.59 C776.64,488.60 776.73,487.60 776.82,486.60 C776.91,485.61 777.00,484.61 777.10,483.61 C777.19,482.62 777.28,481.62 777.37,480.62 C777.47,479.63 777.56,478.63 777.66,477.63 C777.75,476.64 777.84,475.64 777.94,474.64 C778.03,473.65 778.13,472.65 778.23,471.65 C778.32,470.66 778.42,469.66 778.51,468.67 C778.61,467.67 778.71,466.67 778.80,465.68 C778.90,464.68 779.00,463.68 779.10,462.69 C779.19,461.69 779.29,460.70 779.39,459.70 C779.49,458.70 779.59,457.71 779.69,456.71 C779.79,455.72 779.89,454.72 779.99,453.73 C780.09,452.73 780.19,451.73 780.29,450.74 C780.39,449.74 780.49,448.75 780.60,447.75 C780.70,446.76 780.80,445.76 780.90,444.76 C781.01,443.77 781.11,442.77 781.21,441.78 C781.32,440.78 781.42,439.79 781.52,438.79 C781.63,437.80 781.73,436.80 781.84,435.81 C781.94,434.81 782.05,433.82 782.15,432.82 C782.26,431.83 782.37,430.83 782.47,429.84 C782.58,428.84 782.69,427.85 782.79,426.85 C782.90,425.86 783.01,424.86 783.12,423.87 C783.23,422.87 783.34,421.88 783.44,420.88 C783.55,419.89 783.66,418.90 783.77,417.90 C783.88,416.91 783.99,415.91 784.10,414.92 C784.21,413.92 784.33,412.93 784.44,411.94 C784.55,410.94 784.66,409.95 784.77,408.95 C784.88,407.96 785.00,406.97 785.11,405.97 C785.22,404.98 785.34,403.98 785.45,402.99 C785.56,402.00 785.68,401.00 785.79,400.01 C785.91,399.02 786.02,398.02 786.14,397.03 C786.25,396.03 786.37,395.04 786.49,394.05 C786.60,393.05 786.72,392.06 786.84,391.07 C786.95,390.07 787.07,389.08 787.19,388.09 C787.31,387.10 787.42,386.10 787.54,385.11 C787.66,384.12 787.78,383.12 787.90,382.13 C788.02,381.14 788.14,380.15 788.26,379.15 C788.38,378.16 788.50,377.17 788.62,376.18 C788.74,375.18 788.86,374.19 788.99,373.20 C789.11,372.21 789.23,371.21 789.35,370.22 C789.48,369.23 789.60,368.24 789.72,367.24 C789.85,366.25 789.97,365.26 790.09,364.27 C790.22,363.28 790.34,362.29 790.47,361.29 C790.59,360.30 790.72,359.31 790.84,358.32 C790.97,357.33 791.10,356.34 791.22,355.34 C791.35,354.35 791.48,353.36 791.61,352.37 C791.74,351.38 791.87,350.39 792.00,349.40 C792.13,348.41 792.27,347.42 792.40,346.43 C792.54,345.44 792.67,344.45 792.81,343.46 C792.95,342.47 793.09,341.48 793.24,340.49 C793.38,339.50 793.53,338.51 793.68,337.52 C793.83,336.53 793.98,335.54 794.13,334.55 C794.29,333.57 794.45,332.58 794.61,331.59 C794.77,330.60 794.94,329.62 795.11,328.63 C795.28,327.64 795.45,326.66 795.63,325.67 C795.81,324.68 795.99,323.70 796.18,322.71 C796.36,321.73 796.55,320.75 796.75,319.76 C796.95,318.78 797.15,317.79 797.35,316.81 C797.56,315.83 797.77,314.85 797.99,313.86 C798.20,312.88 798.43,311.90 798.66,310.92 C798.88,309.94 799.12,308.96 799.36,307.98 C799.60,307.00 799.85,306.02 800.10,305.04 C800.36,304.06 800.61,303.09 800.89,302.11 C801.17,301.14 801.46,300.16 801.79,299.20 C802.12,298.24 802.47,297.28 802.87,296.34 C803.28,295.39 803.73,294.45 804.24,293.54 C804.76,292.62 805.32,291.67 805.96,290.84 C806.58,290.04 807.24,289.13 807.99,288.63 C808.63,288.20 809.41,287.80 810.08,287.88 C810.76,287.95 811.45,288.56 812.03,289.12 C812.70,289.77 813.23,290.76 813.76,291.65 C814.31,292.57 814.80,293.59 815.26,294.57 C815.71,295.54 816.13,296.51 816.51,297.50 C816.90,298.47 817.24,299.45 817.56,300.43 C817.88,301.40 818.17,302.38 818.44,303.36 C818.70,304.34 818.94,305.32 819.17,306.30 C819.39,307.28 819.59,308.26 819.78,309.24 C819.98,310.22 820.15,311.20 820.32,312.19 C820.49,313.17 820.65,314.15 820.81,315.13 C820.97,316.11 821.12,317.09 821.28,318.06 C821.44,319.04 821.60,320.02 821.77,321.00 C821.94,321.98 822.11,322.96 822.30,323.93 C822.49,324.91 822.69,325.88 822.91,326.86 C823.12,327.83 823.35,328.81 823.58,329.78 C823.82,330.75 824.06,331.73 824.31,332.70 C824.56,333.67 824.81,334.64 825.07,335.62 C825.32,336.59 825.58,337.56 825.83,338.54 C826.08,339.51 826.34,340.48 826.59,341.46 C826.83,342.43 827.08,343.41 827.31,344.39 C827.55,345.36 827.78,346.34 828.00,347.32 C828.22,348.30 828.43,349.28 828.64,350.26 C828.85,351.24 829.06,352.22 829.25,353.20 C829.45,354.19 829.64,355.17 829.83,356.15 C830.01,357.14 830.20,358.12 830.37,359.11 C830.55,360.09 830.72,361.08 830.88,362.07 C831.05,363.05 831.21,364.04 831.37,365.03 C831.53,366.02 831.68,367.01 831.83,368.00 C831.98,368.99 832.12,369.98 832.27,370.97 C832.41,371.96 832.55,372.95 832.68,373.94 C832.82,374.93 832.95,375.92 833.08,376.92 C833.21,377.91 833.34,378.90 833.46,379.89 C833.59,380.89 833.71,381.88 833.83,382.87 C833.95,383.87 834.07,384.86 834.19,385.86 C834.30,386.85 834.42,387.84 834.53,388.84 C834.65,389.83 834.76,390.83 834.87,391.82 C834.99,392.82 835.10,393.81 835.21,394.81 C835.32,395.80 835.43,396.80 835.54,397.79 C835.65,398.79 835.76,399.78 835.87,400.78 C835.99,401.77 836.10,402.77 836.21,403.76 C836.32,404.76 836.43,405.75 836.55,406.74 C836.66,407.74 836.77,408.73 836.89,409.73 C837.00,410.72 837.11,411.72 837.23,412.71 C837.34,413.70 837.46,414.70 837.57,415.69 C837.69,416.69 837.80,417.68 837.92,418.68 C838.03,419.67 838.15,420.66 838.26,421.66 C838.38,422.65 838.50,423.64 838.61,424.64 C838.73,425.63 838.85,426.63 838.97,427.62 C839.08,428.61 839.20,429.61 839.32,430.60 C839.44,431.59 839.56,432.59 839.68,433.58 C839.80,434.57 839.92,435.57 840.04,436.56 C840.16,437.55 840.28,438.55 840.40,439.54 C840.52,440.53 840.64,441.53 840.76,442.52 C840.88,443.51 841.00,444.50 841.12,445.50 C841.24,446.49 841.36,447.48 841.49,448.48 C841.61,449.47 841.73,450.46 841.85,451.45 C841.98,452.45 842.10,453.44 842.22,454.43 C842.35,455.43 842.47,456.42 842.59,457.41 C842.72,458.40 842.84,459.40 842.96,460.39 C843.09,461.38 843.21,462.37 843.34,463.37 C843.46,464.36 843.59,465.35 843.71,466.34 C843.84,467.33 843.96,468.33 844.09,469.32 C844.22,470.31 844.34,471.30 844.47,472.30 C844.59,473.29 844.72,474.28 844.85,475.27 C844.97,476.26 845.10,477.26 845.23,478.25 C845.36,479.24 845.48,480.23 845.61,481.22 C845.74,482.22 845.87,483.21 845.99,484.20 C846.12,485.19 846.25,486.18 846.38,487.18 C846.51,488.17 846.64,489.16 846.77,490.15 C846.89,491.14 847.02,492.13 847.15,493.13 C847.28,494.12 847.41,495.11 847.54,496.10 C847.67,497.09 847.80,498.09 847.93,499.08 C848.06,500.07 848.19,501.06 848.32,502.05 C848.45,503.04 848.58,504.03 848.71,505.03 C848.84,506.02 848.97,507.01 849.10,508.00 C849.23,508.99 849.37,509.98 849.50,510.98 C849.63,511.97 849.76,512.96 849.89,513.95 C850.02,514.94 850.15,515.93 850.29,516.92 C850.42,517.92 850.55,518.91 850.68,519.90 C850.81,520.89 850.95,521.88 851.08,522.87 C851.21,523.86 851.34,524.86 851.48,525.85 C851.61,526.84 851.74,527.83 851.87,528.82 C852.01,529.81 852.14,530.80 852.27,531.80 C852.41,532.79 852.54,533.78 852.67,534.77 C852.81,535.76 852.94,536.75 853.07,537.74 C853.21,538.74 853.34,539.73 853.47,540.72 C853.61,541.71 853.74,542.70 853.87,543.69 C854.01,544.68 854.14,545.68 854.28,546.67 C854.41,547.66 854.54,548.65 854.68,549.64 C854.81,550.63 854.95,551.62 855.08,552.61 C855.21,553.61 855.35,554.60 855.48,555.59 C855.62,556.58 855.75,557.57 855.88,558.56 C856.02,559.56 856.15,560.55 856.29,561.54 C856.42,562.53 856.56,563.52 856.69,564.51 C856.83,565.50 856.96,566.50 857.09,567.49 C857.23,568.48 857.36,569.47 857.50,570.46 C857.63,571.45 857.77,572.45 857.90,573.44 C858.04,574.43 858.17,575.42 858.31,576.41 C858.44,577.40 858.58,578.39 858.71,579.39 C858.84,580.38 858.98,581.37 859.11,582.36 C859.25,583.35 859.38,584.35 859.52,585.34 C859.65,586.33 859.79,587.32 859.92,588.31 C860.06,589.30 860.19,590.30 860.32,591.29 C860.46,592.28 860.59,593.27 860.73,594.26 C860.86,595.26 861.00,596.25 861.13,597.24 C861.27,598.23 861.40,599.22 861.53,600.22 C861.67,601.21 861.80,602.20 861.94,603.19 C862.07,604.18 862.20,605.18 862.34,606.17 C862.47,607.16 862.61,608.15 862.74,609.15 C862.87,610.14 863.01,611.13 863.14,612.12 C863.28,613.12 863.41,614.11 863.54,615.10 C863.68,616.09 863.81,617.09 863.94,618.08 C864.08,619.07 864.21,620.06 864.34,621.06 C864.48,622.05 864.61,623.04 864.74,624.03 C864.88,625.03 865.01,626.02 865.14,627.01 C865.27,628.01 865.41,629.00 865.54,629.99 C865.67,630.98 865.81,631.98 865.94,632.97 C866.08,633.96 866.21,634.95 866.34,635.95 C866.48,636.94 866.61,637.93 866.75,638.93 C866.88,639.92 867.02,640.91 867.16,641.90 C867.29,642.89 867.43,643.89 867.57,644.88 C867.71,645.87 867.84,646.86 867.98,647.85 C868.12,648.85 868.26,649.84 868.40,650.83 C868.55,651.82 868.69,652.81 868.83,653.80 C868.98,654.79 869.12,655.78 869.27,656.77 C869.41,657.77 869.56,658.76 869.71,659.75 C869.85,660.74 870.00,661.73 870.15,662.71 C870.31,663.70 870.46,664.69 870.61,665.68 C870.77,666.67 870.92,667.66 871.08,668.65 C871.23,669.64 871.39,670.62 871.55,671.61 C871.71,672.60 871.88,673.59 872.04,674.57 C872.20,675.56 872.37,676.54 872.54,677.53 C872.71,678.52 872.88,679.50 873.05,680.49 C873.22,681.47 873.39,682.46 873.57,683.44 C873.75,684.42 873.92,685.41 874.11,686.39 C874.29,687.37 874.47,688.36 874.66,689.34 C874.84,690.32 875.03,691.30 875.22,692.28 C875.41,693.27 875.60,694.25 875.80,695.23 C876.00,696.21 876.19,697.19 876.39,698.16 C876.60,699.14 876.80,700.12 877.01,701.10 C877.21,702.08 877.42,703.05 877.64,704.03 C877.85,705.01 878.07,705.98 878.28,706.96 C878.50,707.93 878.73,708.91 878.95,709.88 C879.18,710.85 879.40,711.83 879.64,712.80 C879.87,713.77 880.10,714.74 880.34,715.71 C880.58,716.68 880.82,717.65 881.07,718.62 C881.32,719.59 881.56,720.56 881.82,721.53 C882.07,722.49 882.33,723.46 882.59,724.43 C882.85,725.39 883.11,726.36 883.38,727.32 C883.65,728.29 883.92,729.25 884.20,730.21 C884.47,731.18 884.75,732.14 885.04,733.10 C885.32,734.06 885.61,735.02 885.90,735.98 C886.20,736.94 886.49,737.90 886.80,738.85 C887.10,739.81 887.40,740.77 887.71,741.72 C888.03,742.67 888.34,743.62 888.67,744.57 C888.99,745.52 889.32,746.47 889.66,747.41 C890.00,748.35 890.35,749.29 890.70,750.23 C891.06,751.16 891.42,752.10 891.80,753.02 C892.17,753.95 892.55,754.87 892.95,755.78 C893.34,756.70 893.75,757.61 894.16,758.51 C894.58,759.42 895.01,760.31 895.45,761.20 C895.89,762.09 896.34,762.98 896.81,763.85 C897.28,764.73 897.76,765.59 898.25,766.45 C898.75,767.31 899.26,768.16 899.79,769.00 C900.31,769.84 900.85,770.67 901.41,771.49 C901.97,772.32 902.55,773.13 903.14,773.93 C903.73,774.73 904.34,775.52 904.96,776.30 C905.58,777.08 906.22,777.86 906.86,778.62 C907.51,779.39 908.17,780.15 908.84,780.90 C909.50,781.66 910.18,782.41 910.86,783.16 C911.54,783.90 912.23,784.64 912.92,785.38 C913.61,786.13 914.31,786.86 915.01,787.60 C915.70,788.34 916.40,789.08 917.10,789.82 C917.79,790.55 918.49,791.29 919.18,792.04 C919.87,792.78 920.56,793.52 921.24,794.27 C921.92,795.02 922.59,795.77 923.26,796.53 C923.92,797.29 924.58,798.05 925.24,798.82 C925.89,799.59 926.53,800.36 927.18,801.13 C927.82,801.90 928.45,802.68 929.08,803.46 C929.71,804.23 930.33,805.02 930.95,805.80 C931.57,806.58 932.19,807.36 932.80,808.15 C933.41,808.93 934.02,809.71 934.62,810.50 C935.22,811.28 935.82,812.07 936.42,812.85 C937.02,813.63 937.61,814.41 938.21,815.19 C938.80,815.97 939.39,816.75 939.98,817.53 C940.57,818.30 941.16,819.08 941.75,819.85 C942.34,820.62 942.93,821.39 943.52,822.15 C944.11,822.92 944.71,823.68 945.31,824.44 C945.92,825.19 946.54,825.95 947.17,826.70 C947.81,827.45 948.46,828.20 949.14,828.95 C949.82,829.70 950.52,830.44 951.24,831.18 C951.97,831.92 952.73,832.66 953.51,833.39 C954.30,834.11 955.11,834.84 955.95,835.52 C956.78,836.21 957.64,836.88 958.52,837.51 C959.40,838.13 960.29,838.72 961.21,839.26 C962.11,839.79 963.04,840.28 963.98,840.70 C964.90,841.11 965.85,841.48 966.80,841.75 C967.74,842.02 968.70,842.23 969.65,842.34 C970.59,842.44 971.56,842.45 972.50,842.37 C973.45,842.28 974.39,842.08 975.32,841.82 C976.26,841.56 977.18,841.19 978.09,840.80 C979.01,840.41 979.91,839.94 980.79,839.46 C981.68,838.99 982.55,838.48 983.41,837.95 C984.26,837.43 985.10,836.89 985.92,836.33 C986.75,835.77 987.56,835.19 988.35,834.59 C989.14,834.00 989.92,833.39 990.69,832.76 C991.45,832.13 992.20,831.49 992.94,830.83 C993.68,830.17 994.40,829.50 995.11,828.81 C995.83,828.12 996.52,827.42 997.21,826.71 C997.90,825.99 998.57,825.27 999.24,824.53 C999.90,823.79 1000.55,823.04 1001.19,822.28 C1001.84,821.52 1002.47,820.75 1003.09,819.96 C1003.71,819.18 1004.32,818.39 1004.92,817.59 C1005.52,816.79 1006.11,815.98 1006.70,815.16 C1007.28,814.35 1007.85,813.52 1008.42,812.69 C1008.99,811.86 1009.54,811.02 1010.09,810.17 C1010.65,809.33 1011.19,808.48 1011.72,807.62 C1012.26,806.77 1012.79,805.90 1013.31,805.04 C1013.84,804.18 1014.36,803.31 1014.87,802.44 C1015.38,801.57 1015.89,800.69 1016.39,799.82 C1016.89,798.94 1017.39,798.06 1017.88,797.18 C1018.37,796.30 1018.86,795.42 1019.34,794.54 C1019.83,793.65 1020.30,792.77 1020.78,791.88 C1021.25,791.00 1021.72,790.11 1022.19,789.22 C1022.65,788.33 1023.11,787.43 1023.57,786.54 C1024.02,785.65 1024.47,784.75 1024.92,783.85 C1025.37,782.95 1025.81,782.06 1026.25,781.15 C1026.69,780.25 1027.13,779.35 1027.56,778.45 C1027.99,777.54 1028.41,776.64 1028.84,775.73 C1029.26,774.83 1029.68,773.92 1030.09,773.01 C1030.51,772.10 1030.92,771.19 1031.32,770.27 C1031.73,769.36 1032.13,768.45 1032.53,767.53 C1032.93,766.61 1033.33,765.70 1033.72,764.78 C1034.11,763.86 1034.50,762.94 1034.89,762.02 C1035.27,761.10 1035.65,760.18 1036.03,759.25 C1036.41,758.33 1036.78,757.40 1037.15,756.48 C1037.52,755.55 1037.89,754.62 1038.25,753.69 C1038.62,752.77 1038.98,751.84 1039.34,750.91 C1039.70,749.97 1040.05,749.04 1040.40,748.11 C1040.75,747.18 1041.10,746.24 1041.45,745.31 C1041.79,744.37 1042.13,743.43 1042.47,742.50 C1042.81,741.56 1043.15,740.62 1043.48,739.68 C1043.82,738.74 1044.15,737.80 1044.48,736.86 C1044.80,735.92 1045.13,734.98 1045.45,734.03 C1045.78,733.09 1046.10,732.14 1046.41,731.20 C1046.73,730.26 1047.05,729.31 1047.36,728.36 C1047.67,727.42 1047.98,726.47 1048.29,725.52 C1048.60,724.57 1048.90,723.62 1049.20,722.67 C1049.51,721.72 1049.81,720.77 1050.11,719.82 C1050.40,718.87 1050.70,717.92 1050.99,716.97 C1051.29,716.01 1051.58,715.06 1051.87,714.11 C1052.16,713.15 1052.45,712.20 1052.73,711.25 C1053.02,710.29 1053.31,709.34 1053.59,708.38 C1053.87,707.42 1054.15,706.47 1054.43,705.51 C1054.71,704.55 1054.99,703.60 1055.26,702.64 C1055.54,701.68 1055.81,700.72 1056.08,699.76 C1056.36,698.80 1056.63,697.84 1056.90,696.88 C1057.17,695.92 1057.44,694.96 1057.71,694.00 C1057.97,693.04 1058.24,692.08 1058.50,691.12 C1058.77,690.16 1059.03,689.20 1059.30,688.23 C1059.56,687.27 1059.82,686.31 1060.08,685.35 C1060.35,684.38 1060.61,683.42 1060.87,682.46 C1061.13,681.49 1061.38,680.53 1061.64,679.56 C1061.90,678.60 1062.16,677.63 1062.42,676.67 C1062.67,675.70 1062.93,674.74 1063.19,673.77 C1063.44,672.81 1063.70,671.84 1063.95,670.88 C1064.21,669.91 1064.47,668.95 1064.72,667.98 C1064.98,667.01 1065.23,666.05 1065.49,665.08 C1065.74,664.12 1066.00,663.15 1066.25,662.18 C1066.51,661.22 1066.76,660.25 1067.02,659.28 C1067.27,658.32 1067.53,657.35 1067.78,656.38 C1068.04,655.41 1068.29,654.45 1068.55,653.48 C1068.81,652.51 1069.06,651.55 1069.32,650.58 C1069.58,649.61 1069.84,648.64 1070.09,647.68 C1070.35,646.71 1070.61,645.74 1070.87,644.78 C1071.13,643.81 1071.39,642.84 1071.65,641.88 C1071.92,640.91 1072.18,639.94 1072.44,638.97 C1072.71,638.01 1072.97,637.04 1073.24,636.07 C1073.50,635.11 1073.77,634.14 1074.03,633.18 C1074.30,632.21 1074.57,631.24 1074.84,630.28 C1075.11,629.31 1075.38,628.34 1075.66,627.38 C1075.93,626.41 1076.20,625.45 1076.48,624.48 C1076.76,623.52 1077.03,622.55 1077.31,621.59 C1077.59,620.62 1077.87,619.66 1078.16,618.70 C1078.44,617.73 1078.72,616.77 1079.01,615.80 C1079.30,614.84 1079.59,613.88 1079.88,612.91 C1080.17,611.95 1080.46,610.99 1080.75,610.03 C1081.05,609.06 1081.35,608.10 1081.64,607.14 C1081.94,606.18 1082.24,605.22 1082.55,604.26 C1082.85,603.30 1083.16,602.34 1083.47,601.38 C1083.77,600.42 1084.09,599.46 1084.40,598.50 C1084.71,597.54 1085.03,596.58 1085.35,595.62 C1085.67,594.67 1085.99,593.71 1086.32,592.76 C1086.65,591.80 1086.98,590.85 1087.32,589.90 C1087.66,588.95 1088.00,588.00 1088.35,587.06 C1088.71,586.12 1089.06,585.18 1089.43,584.24 C1089.79,583.30 1090.17,582.37 1090.55,581.44 C1090.93,580.51 1091.32,579.59 1091.72,578.67 C1092.12,577.75 1092.53,576.83 1092.95,575.92 C1093.37,575.02 1093.80,574.11 1094.25,573.22 C1094.69,572.32 1095.14,571.43 1095.61,570.55 C1096.08,569.67 1096.56,568.79 1097.05,567.92 C1097.55,567.05 1098.05,566.19 1098.58,565.34 C1099.10,564.49 1099.64,563.65 1100.19,562.81 C1100.74,561.98 1101.31,561.15 1101.89,560.34 C1102.48,559.52 1103.08,558.71 1103.70,557.92 C1104.32,557.12 1104.96,556.34 1105.61,555.57 C1106.27,554.79 1106.94,554.03 1107.64,553.28 C1108.33,552.52 1109.05,551.78 1109.78,551.06 C1110.51,550.34 1111.26,549.63 1112.03,548.96 C1112.80,548.28 1113.58,547.62 1114.38,547.00 C1115.18,546.38 1115.99,545.79 1116.82,545.24 C1117.65,544.70 1118.49,544.18 1119.35,543.72 C1120.20,543.26 1121.06,542.84 1121.95,542.48 C1122.82,542.13 1123.71,541.82 1124.60,541.57 C1125.50,541.32 1126.40,541.12 1127.31,540.98 C1128.22,540.83 1129.14,540.74 1130.06,540.69 C1130.99,540.65 1131.92,540.66 1132.85,540.70 C1133.78,540.75 1134.72,540.85 1135.65,540.99 C1136.60,541.12 1137.54,541.31 1138.47,541.52 C1139.42,541.74 1140.36,542.00 1141.29,542.30 C1142.24,542.59 1143.18,542.93 1144.11,543.29 C1145.05,543.65 1145.98,544.06 1146.90,544.48 C1147.83,544.91 1148.76,545.37 1149.67,545.86 C1150.59,546.35 1151.50,546.86 1152.40,547.40 C1153.30,547.94 1154.20,548.51 1155.08,549.09 C1155.97,549.67 1156.84,550.28 1157.71,550.91 C1158.57,551.53 1159.42,552.18 1160.26,552.84 C1161.10,553.49 1161.93,554.17 1162.74,554.86 C1163.56,555.54 1164.35,556.24 1165.14,556.95 C1165.92,557.66 1166.68,558.38 1167.43,559.11 C1168.18,559.83 1168.91,560.57 1169.63,561.31 C1170.35,562.05 1171.05,562.80 1171.73,563.56 C1172.42,564.31 1173.09,565.08 1173.75,565.85 C1174.40,566.62 1175.04,567.39 1175.67,568.18 C1176.30,568.96 1176.92,569.75 1177.52,570.55 C1178.12,571.34 1178.71,572.14 1179.29,572.95 C1179.87,573.76 1180.44,574.57 1181.00,575.39 C1181.55,576.21 1182.10,577.03 1182.63,577.86 C1183.17,578.69 1183.69,579.53 1184.21,580.37 C1184.72,581.20 1185.23,582.05 1185.73,582.90 C1186.23,583.74 1186.72,584.60 1187.20,585.45 C1187.68,586.31 1188.16,587.17 1188.62,588.03 C1189.09,588.90 1189.55,589.76 1190.01,590.63 C1190.46,591.51 1190.91,592.38 1191.36,593.26 C1191.80,594.13 1192.24,595.01 1192.67,595.90 C1193.11,596.78 1193.54,597.66 1193.97,598.55 C1194.39,599.44 1194.82,600.33 1195.24,601.22 C1195.66,602.11 1196.07,603.00 1196.49,603.90 C1196.91,604.79 1197.32,605.69 1197.73,606.58 C1198.15,607.48 1198.56,608.38 1198.97,609.28 C1199.38,610.18 1199.79,611.08 1200.21,611.98 C1200.62,612.88 1201.03,613.78 1201.45,614.68 C1201.86,615.58 1202.28,616.48 1202.69,617.38 C1203.11,618.29 1203.53,619.19 1203.95,620.09 C1204.38,620.99 1204.80,621.89 1205.23,622.78 C1205.66,623.68 1206.10,624.58 1206.54,625.48 C1206.98,626.37 1207.42,627.27 1207.86,628.16 C1208.31,629.06 1208.76,629.95 1209.21,630.84 C1209.67,631.74 1210.12,632.63 1210.58,633.52 C1211.04,634.41 1211.51,635.30 1211.97,636.19 C1212.44,637.08 1212.91,637.97 1213.38,638.85 C1213.86,639.74 1214.33,640.63 1214.81,641.51 C1215.29,642.40 1215.77,643.28 1216.25,644.17 C1216.73,645.05 1217.22,645.93 1217.71,646.82 C1218.19,647.70 1218.68,648.58 1219.17,649.46 C1219.67,650.35 1220.16,651.23 1220.65,652.11 C1221.15,652.99 1221.65,653.87 1222.14,654.75 C1222.64,655.62 1223.14,656.50 1223.64,657.38 C1224.14,658.26 1224.64,659.14 1225.14,660.01 C1225.65,660.89 1226.15,661.77 1226.65,662.65 C1227.16,663.52 1227.66,664.40 1228.17,665.27 C1228.67,666.15 1229.18,667.02 1229.68,667.90 C1230.19,668.77 1230.69,669.65 1231.20,670.52 C1231.70,671.40 1232.21,672.27 1232.71,673.15 C1233.22,674.02 1233.72,674.90 1234.23,675.77 C1234.73,676.64 1235.24,677.52 1235.74,678.39 C1236.24,679.26 1236.74,680.14 1237.25,681.01 C1237.75,681.88 1238.25,682.76 1238.75,683.63 C1239.24,684.50 1239.74,685.38 1240.24,686.25 C1240.73,687.12 1241.23,688.00 1241.72,688.87 C1242.21,689.74 1242.70,690.62 1243.19,691.49 C1243.68,692.36 1244.17,693.24 1244.65,694.11 C1245.14,694.99 1245.62,695.86 1246.10,696.73 C1246.58,697.61 1247.06,698.48 1247.53,699.36 C1248.01,700.23 1248.48,701.11 1248.95,701.98 C1249.42,702.86 1249.89,703.73 1250.36,704.61 C1250.83,705.48 1251.30,706.35 1251.77,707.23 C1252.24,708.10 1252.70,708.97 1253.17,709.85 C1253.64,710.72 1254.11,711.59 1254.58,712.46 C1255.05,713.33 1255.52,714.20 1255.99,715.07 C1256.46,715.94 1256.93,716.81 1257.41,717.67 C1257.88,718.54 1258.36,719.41 1258.84,720.27 C1259.32,721.13 1259.80,722.00 1260.28,722.86 C1260.77,723.72 1261.26,724.58 1261.75,725.44 C1262.24,726.29 1262.73,727.15 1263.23,728.00 C1263.73,728.86 1264.24,729.71 1264.74,730.56 C1265.25,731.41 1265.77,732.26 1266.29,733.10 C1266.80,733.95 1267.33,734.79 1267.86,735.63 C1268.39,736.47 1268.93,737.31 1269.47,738.15 C1270.01,738.98 1270.56,739.82 1271.12,740.64 C1271.67,741.48 1272.24,742.30 1272.81,743.13 C1273.38,743.95 1273.96,744.77 1274.54,745.59 C1275.13,746.41 1275.73,747.22 1276.33,748.03 C1276.94,748.84 1277.55,749.65 1278.17,750.45 C1278.79,751.26 1279.43,752.06 1280.07,752.85 C1280.71,753.65 1281.36,754.44 1282.02,755.23 C1282.69,756.02 1283.36,756.81 1284.04,757.59 C1284.73,758.37 1285.42,759.15 1286.13,759.92 C1286.84,760.69 1287.56,761.46 1288.28,762.21 C1289.01,762.96 1289.75,763.71 1290.51,764.44 C1291.26,765.17 1292.02,765.89 1292.80,766.58 C1293.57,767.28 1294.35,767.96 1295.15,768.61 C1295.94,769.25 1296.74,769.88 1297.56,770.48 C1298.37,771.07 1299.20,771.64 1300.04,772.17 C1300.87,772.70 1301.71,773.20 1302.57,773.66 C1303.42,774.11 1304.29,774.53 1305.16,774.90 C1306.03,775.27 1306.92,775.61 1307.81,775.88 C1308.70,776.16 1309.60,776.40 1310.51,776.57 C1311.42,776.74 1312.35,776.87 1313.27,776.93 C1314.20,776.99 1315.14,776.99 1316.07,776.93 C1317.02,776.88 1317.97,776.76 1318.92,776.60 C1319.88,776.43 1320.84,776.21 1321.79,775.95 C1322.75,775.68 1323.72,775.37 1324.67,775.02 C1325.63,774.67 1326.59,774.28 1327.54,773.86 C1328.50,773.43 1329.45,772.97 1330.39,772.49 C1331.34,772.00 1332.28,771.48 1333.20,770.95 C1334.13,770.41 1335.05,769.84 1335.96,769.27 C1336.87,768.70 1337.76,768.09 1338.65,767.51 C1339.54,766.92 1340.42,766.32 1341.30,765.75 C1342.16,765.19 1343.03,764.63 1343.90,764.11 C1344.76,763.60 1345.61,763.11 1346.48,762.68 C1347.33,762.26 1348.18,761.86 1349.05,761.55 C1349.89,761.25 1350.75,760.99 1351.61,760.84 C1352.46,760.69 1353.33,760.61 1354.19,760.63 C1355.06,760.65 1355.93,760.78 1356.79,760.97 C1357.67,761.16 1358.55,761.45 1359.42,761.77 C1360.31,762.11 1361.19,762.53 1362.06,762.98 C1362.96,763.44 1363.84,763.96 1364.72,764.50 C1365.62,765.05 1366.52,765.65 1367.41,766.26 C1368.31,766.87 1369.20,767.51 1370.10,768.15 C1371.01,768.78 1371.91,769.44 1372.82,770.07 C1373.72,770.70 1374.63,771.34 1375.54,771.93 C1376.44,772.53 1377.35,773.11 1378.27,773.64 C1379.18,774.16 1380.09,774.66 1381.01,775.08 C1381.92,775.50 1382.83,775.89 1383.76,776.18 C1384.66,776.46 1385.58,776.69 1386.50,776.81 C1387.41,776.94 1388.34,776.97 1389.25,776.93 C1390.16,776.89 1391.08,776.75 1391.98,776.56 C1392.89,776.37 1393.79,776.10 1394.68,775.78 C1395.58,775.45 1396.47,775.06 1397.34,774.63 C1398.23,774.19 1399.10,773.70 1399.95,773.18 C1400.82,772.66 1401.66,772.09 1402.49,771.50 C1403.33,770.91 1404.15,770.29 1404.95,769.65 C1405.76,769.01 1406.54,768.35 1407.32,767.68 C1408.09,767.02 1408.84,766.33 1409.58,765.64 C1410.32,764.95 1411.04,764.24 1411.75,763.52 C1412.46,762.81 1413.15,762.08 1413.83,761.34 C1414.50,760.60 1415.17,759.85 1415.82,759.09 C1416.47,758.32 1417.10,757.55 1417.72,756.77 C1418.34,755.99 1418.95,755.20 1419.55,754.40 C1420.14,753.60 1420.72,752.79 1421.30,751.98 C1421.87,751.16 1422.42,750.34 1422.97,749.50 C1423.52,748.67 1424.06,747.83 1424.58,746.98 C1425.11,746.13 1425.62,745.28 1426.13,744.42 C1426.63,743.55 1427.13,742.69 1427.61,741.81 C1428.10,740.94 1428.57,740.06 1429.04,739.17 C1429.51,738.29 1429.97,737.39 1430.42,736.50 C1430.87,735.60 1431.31,734.70 1431.75,733.80 C1432.18,732.89 1432.61,731.98 1433.03,731.07 C1433.45,730.16 1433.87,729.24 1434.28,728.32 C1434.69,727.40 1435.09,726.48 1435.49,725.56 C1435.89,724.63 1436.28,723.71 1436.67,722.78 C1437.06,721.85 1437.44,720.92 1437.82,719.99 C1438.20,719.06 1438.57,718.13 1438.95,717.19 C1439.32,716.26 1439.68,715.32 1440.05,714.39 C1440.41,713.45 1440.77,712.52 1441.13,711.58 C1441.49,710.64 1441.84,709.70 1442.19,708.76 C1442.54,707.82 1442.88,706.88 1443.23,705.94 C1443.57,705.00 1443.91,704.06 1444.25,703.11 C1444.58,702.17 1444.91,701.22 1445.24,700.28 C1445.57,699.33 1445.90,698.39 1446.22,697.44 C1446.54,696.49 1446.86,695.54 1447.18,694.59 C1447.50,693.65 1447.81,692.70 1448.12,691.75 C1448.43,690.79 1448.74,689.84 1449.05,688.89 C1449.35,687.94 1449.66,686.99 1449.96,686.03 C1450.25,685.08 1450.55,684.12 1450.85,683.17 C1451.14,682.21 1451.43,681.26 1451.72,680.30 C1452.01,679.34 1452.30,678.39 1452.58,677.43 C1452.87,676.47 1453.15,675.51 1453.43,674.55 C1453.71,673.59 1453.99,672.63 1454.26,671.67 C1454.54,670.71 1454.81,669.75 1455.08,668.79 C1455.36,667.83 1455.62,666.87 1455.89,665.90 C1456.16,664.94 1456.42,663.98 1456.69,663.01 C1456.95,662.05 1457.21,661.08 1457.47,660.12 C1457.73,659.16 1457.99,658.19 1458.25,657.22 C1458.50,656.26 1458.76,655.29 1459.01,654.33 C1459.27,653.36 1459.52,652.39 1459.77,651.42 C1460.02,650.46 1460.27,649.49 1460.51,648.52 C1460.76,647.55 1461.01,646.58 1461.25,645.62 C1461.50,644.65 1461.74,643.68 1461.99,642.71 C1462.23,641.74 1462.47,640.77 1462.71,639.80 C1462.95,638.83 1463.19,637.86 1463.43,636.89 C1463.67,635.92 1463.91,634.95 1464.14,633.98 C1464.38,633.01 1464.62,632.03 1464.85,631.06 C1465.09,630.09 1465.32,629.12 1465.55,628.15 C1465.79,627.18 1466.02,626.21 1466.26,625.23 C1466.49,624.26 1466.72,623.29 1466.95,622.32 C1467.19,621.35 1467.42,620.37 1467.65,619.40 C1467.88,618.43 1468.11,617.46 1468.34,616.49 C1468.57,615.51 1468.80,614.54 1469.03,613.57 C1469.26,612.60 1469.49,611.62 1469.72,610.65 C1469.95,609.68 1470.17,608.70 1470.40,607.73 C1470.63,606.76 1470.86,605.79 1471.08,604.81 C1471.31,603.84 1471.54,602.87 1471.76,601.89 C1471.99,600.92 1472.21,599.95 1472.44,598.97 C1472.67,598.00 1472.89,597.02 1473.11,596.05 C1473.34,595.08 1473.56,594.10 1473.78,593.13 C1474.01,592.16 1474.23,591.18 1474.45,590.21 C1474.67,589.23 1474.90,588.26 1475.12,587.28 C1475.34,586.31 1475.56,585.33 1475.78,584.36 C1476.00,583.39 1476.22,582.41 1476.44,581.44 C1476.66,580.46 1476.88,579.49 1477.10,578.51 C1477.32,577.53 1477.53,576.56 1477.75,575.58 C1477.97,574.61 1478.19,573.63 1478.40,572.66 C1478.62,571.68 1478.83,570.71 1479.05,569.73 C1479.27,568.75 1479.48,567.78 1479.70,566.80 C1479.91,565.83 1480.12,564.85 1480.34,563.87 C1480.55,562.90 1480.76,561.92 1480.98,560.94 C1481.19,559.97 1481.40,558.99 1481.61,558.01 C1481.83,557.03 1482.04,556.06 1482.25,555.08 C1482.46,554.10 1482.67,553.13 1482.88,552.15 C1483.09,551.17 1483.30,550.19 1483.50,549.21 C1483.71,548.24 1483.92,547.26 1484.13,546.28 C1484.34,545.30 1484.54,544.32 1484.75,543.35 C1484.96,542.37 1485.16,541.39 1485.37,540.41 C1485.57,539.43 1485.78,538.45 1485.98,537.47 C1486.19,536.49 1486.39,535.52 1486.60,534.54 C1486.80,533.56 1487.00,532.58 1487.20,531.60 C1487.41,530.62 1487.61,529.64 1487.81,528.66 C1488.01,527.68 1488.21,526.70 1488.41,525.72 C1488.61,524.74 1488.81,523.76 1489.01,522.78 C1489.21,521.80 1489.41,520.81 1489.61,519.83 C1489.81,518.85 1490.00,517.87 1490.20,516.89 C1490.40,515.91 1490.59,514.93 1490.79,513.95 C1490.99,512.96 1491.18,511.98 1491.38,511.00 C1491.57,510.02 1491.76,509.04 1491.96,508.05 C1492.15,507.07 1492.35,506.09 1492.54,505.11 C1492.73,504.12 1492.92,503.14 1493.11,502.16 C1493.31,501.17 1493.50,500.19 1493.69,499.21 C1493.88,498.22 1494.07,497.24 1494.26,496.26 C1494.45,495.27 1494.64,494.29 1494.82,493.31 C1495.01,492.32 1495.20,491.34 1495.39,490.35 C1495.57,489.37 1495.76,488.38 1495.95,487.40 C1496.13,486.41 1496.32,485.43 1496.50,484.44 C1496.69,483.46 1496.87,482.47 1497.05,481.49 C1497.24,480.50 1497.42,479.52 1497.60,478.53 C1497.79,477.54 1497.97,476.56 1498.15,475.57 C1498.33,474.58 1498.51,473.60 1498.69,472.61 C1498.87,471.62 1499.05,470.64 1499.23,469.65 C1499.41,468.66 1499.59,467.67 1499.76,466.69 C1499.94,465.70 1500.12,464.71 1500.30,463.72 C1500.47,462.74 1500.65,461.75 1500.82,460.76 C1501.00,459.77 1501.17,458.78 1501.35,457.79 C1501.52,456.80 1501.70,455.82 1501.87,454.83 C1502.04,453.84 1502.21,452.85 1502.39,451.86 C1502.56,450.87 1502.73,449.88 1502.90,448.89 C1503.07,447.90 1503.24,446.91 1503.41,445.92 C1503.58,444.93 1503.75,443.94 1503.92,442.94 C1504.09,441.95 1504.26,440.96 1504.43,439.97 C1504.60,438.98 1504.77,437.99 1504.94,437.00 C1505.11,436.01 1505.28,435.03 1505.46,434.04 C1505.64,433.05 1505.81,432.06 1505.99,431.07 C1506.17,430.09 1506.35,429.10 1506.54,428.12 C1506.72,427.13 1506.91,426.15 1507.10,425.16 C1507.29,424.18 1507.48,423.20 1507.68,422.22 C1507.88,421.24 1508.08,420.26 1508.29,419.28 C1508.49,418.31 1508.71,417.33 1508.92,416.36 C1509.14,415.38 1509.36,414.41 1509.58,413.44 C1509.81,412.47 1510.04,411.50 1510.28,410.54 C1510.52,409.57 1510.76,408.61 1511.01,407.65 C1511.26,406.69 1511.51,405.73 1511.78,404.77 C1512.04,403.81 1512.31,402.86 1512.59,401.91 C1512.87,400.96 1513.15,400.01 1513.45,399.06 C1513.74,398.12 1514.04,397.18 1514.36,396.24 C1514.67,395.30 1514.98,394.36 1515.31,393.43 C1515.64,392.49 1515.98,391.56 1516.33,390.64 C1516.67,389.71 1517.03,388.79 1517.40,387.87 C1517.76,386.95 1518.14,386.04 1518.53,385.13 C1518.92,384.21 1519.32,383.31 1519.73,382.40 C1520.14,381.50 1520.56,380.60 1520.99,379.71 C1521.42,378.81 1521.87,377.92 1522.33,377.03 C1522.78,376.15 1523.25,375.26 1523.73,374.39 C1524.21,373.51 1524.70,372.63 1525.20,371.76 C1525.70,370.89 1526.21,370.03 1526.73,369.17 C1527.25,368.30 1527.78,367.44 1528.31,366.59 C1528.85,365.73 1529.39,364.88 1529.94,364.03 C1530.49,363.18 1531.05,362.34 1531.62,361.49 C1532.18,360.65 1532.75,359.81 1533.32,358.97 C1533.90,358.13 1534.48,357.30 1535.06,356.47 C1535.64,355.63 1536.23,354.80 1536.82,353.98 C1537.41,353.15 1538.01,352.32 1538.60,351.50 C1539.20,350.67 1539.80,349.85 1540.39,349.03 C1540.99,348.21 1541.59,347.39 1542.19,346.57 C1542.79,345.76 1543.39,344.94 1543.99,344.13 C1544.59,343.31 1545.19,342.50 1545.79,341.69 C1546.38,340.87 1546.98,340.06 1547.57,339.25 C1548.16,338.44 1548.75,337.63 1549.34,336.82 C1549.92,336.01 1550.50,335.20 1551.08,334.39 C1551.66,333.59 1552.23,332.78 1552.80,331.97 C1553.37,331.16 1553.94,330.36 1554.51,329.55 C1555.07,328.75 1555.63,327.94 1556.20,327.14 C1556.76,326.34 1557.32,325.54 1557.88,324.74 C1558.44,323.94 1559.00,323.14 1559.56,322.34 C1560.13,321.55 1560.69,320.76 1561.25,319.96 C1561.82,319.17 1562.38,318.38 1562.95,317.60 C1563.53,316.81 1564.11,316.02 1564.70,315.24 C1565.30,314.45 1565.90,313.67 1566.52,312.89 C1567.15,312.10 1567.79,311.32 1568.45,310.54 C1569.11,309.75 1569.80,308.97 1570.51,308.19 C1571.23,307.40 1571.97,306.61 1572.73,305.84 C1573.51,305.07 1574.30,304.28 1575.13,303.55 C1575.95,302.83 1576.79,302.12 1577.67,301.49 C1578.52,300.88 1579.40,300.29 1580.31,299.82 C1581.18,299.38 1582.09,298.98 1583.01,298.74 C1583.90,298.51 1584.83,298.39 1585.74,298.39 C1586.65,298.39 1587.57,298.53 1588.46,298.76 C1589.37,298.98 1590.27,299.33 1591.13,299.74 C1592.01,300.16 1592.86,300.68 1593.69,301.24 C1594.52,301.81 1595.33,302.46 1596.10,303.15 C1596.87,303.84 1597.61,304.59 1598.31,305.37 C1599.01,306.14 1599.68,306.96 1600.29,307.80 C1600.91,308.62 1601.47,309.48 1602.01,310.34 C1602.54,311.20 1603.03,312.08 1603.50,312.98 C1603.97,313.86 1604.40,314.77 1604.82,315.67 C1605.25,316.58 1605.64,317.50 1606.03,318.42 C1606.43,319.33 1606.80,320.26 1607.18,321.18 C1607.57,322.10 1607.94,323.03 1608.32,323.95 C1608.69,324.88 1609.06,325.81 1609.43,326.73 C1609.81,327.66 1610.17,328.59 1610.54,329.52 C1610.90,330.45 1611.27,331.38 1611.63,332.31 C1611.99,333.25 1612.35,334.18 1612.70,335.11 C1613.06,336.05 1613.41,336.98 1613.76,337.92 C1614.12,338.85 1614.46,339.79 1614.81,340.73 C1615.16,341.67 1615.50,342.61 1615.84,343.55 C1616.19,344.49 1616.53,345.43 1616.86,346.37 C1617.20,347.31 1617.54,348.25 1617.87,349.20 C1618.20,350.14 1618.53,351.09 1618.86,352.03 C1619.19,352.98 1619.51,353.92 1619.84,354.87 C1620.16,355.82 1620.48,356.76 1620.80,357.71 C1621.12,358.66 1621.44,359.61 1621.75,360.56 C1622.07,361.51 1622.38,362.46 1622.69,363.42 C1623.00,364.37 1623.31,365.32 1623.61,366.27 C1623.92,367.23 1624.22,368.18 1624.52,369.14 C1624.82,370.09 1625.12,371.05 1625.42,372.00 C1625.71,372.96 1626.01,373.92 1626.30,374.87 C1626.59,375.83 1626.88,376.79 1627.17,377.75 C1627.46,378.71 1627.75,379.67 1628.03,380.63 C1628.31,381.59 1628.59,382.55 1628.87,383.51 C1629.15,384.47 1629.43,385.44 1629.70,386.40 C1629.98,387.36 1630.25,388.33 1630.52,389.29 C1630.79,390.26 1631.06,391.22 1631.32,392.19 C1631.58,393.15 1631.85,394.12 1632.11,395.09 C1632.36,396.05 1632.62,397.02 1632.87,397.99 C1633.13,398.96 1633.38,399.93 1633.62,400.90 C1633.87,401.87 1634.11,402.84 1634.35,403.81 C1634.60,404.78 1634.83,405.75 1635.07,406.72 C1635.30,407.70 1635.53,408.67 1635.76,409.64 C1635.99,410.62 1636.21,411.59 1636.43,412.57 C1636.65,413.54 1636.87,414.52 1637.08,415.50 C1637.30,416.48 1637.51,417.45 1637.71,418.43 C1637.92,419.41 1638.12,420.39 1638.32,421.37 C1638.52,422.35 1638.71,423.33 1638.90,424.31 C1639.09,425.29 1639.28,426.28 1639.46,427.26 C1639.64,428.24 1639.82,429.23 1639.99,430.21 C1640.17,431.20 1640.34,432.18 1640.50,433.17 C1640.67,434.15 1640.83,435.14 1640.98,436.13 C1641.14,437.12 1641.29,438.11 1641.44,439.10 C1641.58,440.09 1641.72,441.08 1641.86,442.07 C1642.00,443.06 1642.13,444.05 1642.26,445.04 C1642.38,446.04 1642.51,447.03 1642.62,448.02 C1642.74,449.02 1642.85,450.01 1642.96,451.01 C1643.07,452.01 1643.17,453.00 1643.27,454.00 C1643.36,455.00 1643.45,456.00 1643.54,457.00 C1643.63,458.00 1643.71,459.00 1643.78,460.00 C1643.86,461.00 1643.92,462.00 1643.99,463.00" stroke="#00CCCC"/>
<path d="M160.14,387.91 C160.41,388.89 160.68,389.87 160.94,390.85 C161.20,391.83 161.46,392.81 161.71,393.79 C161.97,394.76 162.22,395.74 162.47,396.72 C162.72,397.70 162.96,398.67 163.21,399.65 C163.45,400.63 163.69,401.61 163.93,402.58 C164.17,403.56 164.40,404.54 164.63,405.51 C164.87,406.49 165.10,407.47 165.33,408.44 C165.55,409.42 165.78,410.40 166.00,411.37 C166.23,412.35 166.45,413.32 166.67,414.30 C166.89,415.27 167.11,416.25 167.33,417.22 C167.54,418.20 167.76,419.17 167.97,420.15 C168.19,421.12 168.40,422.10 168.61,423.07 C168.83,424.05 169.04,425.02 169.25,425.99 C169.46,426.97 169.67,427.94 169.87,428.92 C170.08,429.89 170.29,430.86 170.50,431.84 C170.71,432.81 170.91,433.78 171.12,434.75 C171.33,435.73 171.54,436.70 171.74,437.67 C171.95,438.64 172.16,439.62 172.36,440.59 C172.57,441.56 172.78,442.53 172.99,443.50 C173.19,444.47 173.40,445.45 173.61,446.42 C173.82,447.39 174.03,448.36 174.24,449.33 C174.45,450.30 174.66,451.27 174.88,452.24 C175.09,453.21 175.30,454.18 175.52,455.15 C175.73,456.12 175.95,457.09 176.17,458.06 C176.39,459.03 176.61,460.00 176.83,460.97 C177.05,461.94 177.27,462.91 177.50,463.88 C177.72,464.84 177.95,465.81 178.18,466.78 C178.41,467.75 178.64,468.72 178.87,469.69 C179.11,470.65 179.35,471.62 179.58,472.59 C179.82,473.56 180.07,474.52 180.31,475.49 C180.56,476.46 180.80,477.43 181.05,478.39 C181.31,479.36 181.56,480.33 181.82,481.29 C182.07,482.26 182.33,483.22 182.60,484.19 C182.86,485.16 183.13,486.12 183.40,487.09 C183.67,488.05 183.95,489.02 184.23,489.98 C184.51,490.95 184.79,491.91 185.08,492.88 C185.36,493.84 185.65,494.81 185.95,495.77 C186.25,496.74 186.55,497.70 186.85,498.66 C187.16,499.63 187.47,500.59 187.78,501.56 C188.10,502.52 188.41,503.48 188.74,504.45 C189.06,505.41 189.39,506.37 189.73,507.33 C190.06,508.30 190.40,509.26 190.75,510.22 C191.10,511.18 191.45,512.14 191.82,513.09 C192.19,514.04 192.56,514.99 192.95,515.93 C193.34,516.87 193.75,517.80 194.16,518.73 C194.58,519.65 195.02,520.57 195.47,521.47 C195.92,522.37 196.39,523.26 196.88,524.14 C197.37,525.02 197.88,525.88 198.41,526.73 C198.94,527.58 199.50,528.41 200.08,529.23 C200.66,530.04 201.27,530.84 201.90,531.61 C202.54,532.39 203.20,533.15 203.89,533.88 C204.58,534.61 205.30,535.32 206.06,536.01 C206.81,536.69 207.60,537.35 208.42,537.98 C209.25,538.62 210.11,539.23 210.99,539.80 C211.88,540.37 212.79,540.91 213.72,541.40 C214.65,541.88 215.60,542.34 216.55,542.73 C217.49,543.11 218.45,543.45 219.40,543.72 C220.33,543.98 221.28,544.20 222.21,544.32 C223.11,544.44 224.02,544.50 224.91,544.47 C225.78,544.45 226.64,544.35 227.48,544.19 C228.32,544.02 229.15,543.79 229.95,543.50 C230.76,543.20 231.55,542.84 232.32,542.44 C233.11,542.03 233.87,541.56 234.61,541.05 C235.37,540.54 236.10,539.97 236.82,539.37 C237.55,538.77 238.27,538.11 238.97,537.44 C239.68,536.75 240.37,536.03 241.06,535.28 C241.75,534.53 242.43,533.74 243.11,532.95 C243.79,532.14 244.46,531.30 245.13,530.46 C245.80,529.61 246.47,528.74 247.13,527.87 C247.80,526.99 248.46,526.10 249.12,525.20 C249.79,524.31 250.45,523.40 251.12,522.50 C251.78,521.60 252.45,520.69 253.13,519.80 C253.80,518.91 254.47,518.01 255.16,517.13 C255.84,516.26 256.53,515.39 257.23,514.54 C257.93,513.70 258.63,512.87 259.35,512.06 C260.06,511.26 260.78,510.48 261.53,509.73 C262.26,508.99 263.01,508.26 263.77,507.58 C264.53,506.90 265.30,506.25 266.10,505.65 C266.89,505.05 267.69,504.49 268.52,503.98 C269.34,503.47 270.18,503.01 271.04,502.59 C271.89,502.18 272.77,501.81 273.66,501.48 C274.54,501.16 275.44,500.88 276.35,500.65 C277.26,500.41 278.19,500.21 279.11,500.06 C280.05,499.90 280.99,499.78 281.94,499.70 C282.89,499.62 283.84,499.57 284.80,499.56 C285.77,499.55 286.73,499.57 287.70,499.62 C288.67,499.67 289.65,499.75 290.62,499.86 C291.60,499.97 292.58,500.11 293.55,500.28 C294.53,500.44 295.51,500.63 296.48,500.84 C297.45,501.05 298.42,501.29 299.39,501.54 C300.36,501.80 301.32,502.07 302.28,502.36 C303.24,502.65 304.20,502.96 305.15,503.28 C306.11,503.60 307.06,503.94 308.01,504.28 C308.96,504.62 309.91,504.98 310.85,505.34 C311.80,505.70 312.74,506.08 313.69,506.45 C314.63,506.82 315.57,507.20 316.51,507.58 C317.45,507.96 318.39,508.34 319.34,508.72 C320.28,509.09 321.22,509.47 322.16,509.84 C323.10,510.21 324.04,510.58 324.98,510.93 C325.93,511.29 326.87,511.64 327.82,511.97 C328.76,512.31 329.71,512.64 330.66,512.95 C331.60,513.25 332.56,513.55 333.51,513.83 C334.46,514.11 335.42,514.37 336.38,514.61 C337.34,514.84 338.30,515.06 339.26,515.26 C340.23,515.45 341.20,515.62 342.17,515.77 C343.15,515.91 344.12,516.03 345.10,516.13 C346.08,516.23 347.07,516.30 348.05,516.36 C349.04,516.42 350.03,516.46 351.02,516.48 C352.01,516.51 353.01,516.51 354.01,516.51 C355.00,516.50 356.00,516.48 357.00,516.45 C358.01,516.42 359.01,516.37 360.02,516.32 C361.02,516.27 362.03,516.21 363.04,516.14 C364.05,516.08 365.06,516.00 366.07,515.93 C367.08,515.85 368.10,515.77 369.11,515.69 C370.13,515.61 371.14,515.53 372.16,515.45 C373.17,515.37 374.19,515.29 375.21,515.22 C376.22,515.15 377.24,515.08 378.26,515.02 C379.27,514.96 380.29,514.90 381.31,514.86 C382.32,514.81 383.34,514.78 384.35,514.75 C385.37,514.73 386.39,514.72 387.40,514.72 C388.41,514.72 389.42,514.74 390.43,514.77 C391.44,514.80 392.45,514.85 393.45,514.92 C394.45,514.98 395.45,515.06 396.44,515.17 C397.43,515.27 398.42,515.39 399.41,515.53 C400.38,515.67 401.36,515.83 402.33,516.01 C403.29,516.20 404.26,516.40 405.21,516.63 C406.16,516.86 407.10,517.11 408.03,517.39 C408.97,517.67 409.89,517.97 410.80,518.31 C411.71,518.64 412.61,519.00 413.50,519.39 C414.39,519.77 415.27,520.19 416.13,520.64 C416.99,521.09 417.85,521.56 418.68,522.07 C419.52,522.58 420.34,523.13 421.14,523.70 C421.95,524.28 422.74,524.89 423.51,525.52 C424.30,526.16 425.06,526.82 425.82,527.49 C426.58,528.17 427.33,528.87 428.07,529.57 C428.82,530.27 429.56,530.99 430.30,531.70 C431.05,532.41 431.79,533.13 432.53,533.83 C433.28,534.54 434.03,535.24 434.78,535.92 C435.54,536.60 436.30,537.28 437.08,537.92 C437.85,538.56 438.63,539.19 439.44,539.78 C440.24,540.37 441.05,540.93 441.88,541.45 C442.72,541.97 443.57,542.46 444.44,542.89 C445.32,543.32 446.21,543.71 447.14,544.03 C448.06,544.36 449.01,544.64 449.98,544.84 C450.97,545.05 451.98,545.20 452.99,545.28 C454.01,545.37 455.06,545.38 456.09,545.34 C457.12,545.29 458.17,545.18 459.19,545.01 C460.22,544.84 461.24,544.60 462.23,544.30 C463.21,544.00 464.18,543.63 465.10,543.20 C466.02,542.77 466.91,542.27 467.75,541.72 C468.59,541.17 469.38,540.55 470.14,539.90 C470.91,539.25 471.63,538.54 472.35,537.83 C473.06,537.12 473.74,536.37 474.43,535.62 C475.12,534.88 475.79,534.12 476.47,533.38 C477.15,532.64 477.83,531.89 478.53,531.19 C479.23,530.49 479.94,529.80 480.69,529.17 C481.43,528.54 482.19,527.94 483.00,527.41 C483.81,526.88 484.66,526.42 485.53,526.00 C486.41,525.58 487.33,525.23 488.26,524.91 C489.20,524.59 490.17,524.32 491.15,524.08 C492.14,523.83 493.15,523.63 494.16,523.43 C495.18,523.24 496.21,523.08 497.24,522.92 C498.27,522.76 499.32,522.62 500.36,522.47 C501.39,522.32 502.44,522.18 503.47,522.02 C504.50,521.86 505.52,521.70 506.53,521.50 C507.54,521.31 508.53,521.11 509.51,520.86 C510.47,520.62 511.43,520.35 512.36,520.03 C513.27,519.71 514.17,519.36 515.04,518.95 C515.90,518.55 516.74,518.10 517.55,517.62 C518.37,517.14 519.16,516.62 519.93,516.07 C520.70,515.52 521.44,514.93 522.17,514.32 C522.91,513.71 523.62,513.06 524.32,512.40 C525.03,511.73 525.71,511.04 526.39,510.33 C527.07,509.62 527.73,508.88 528.39,508.14 C529.05,507.39 529.70,506.63 530.35,505.86 C531.01,505.08 531.65,504.29 532.30,503.50 C532.94,502.70 533.59,501.90 534.24,501.10 C534.89,500.29 535.54,499.48 536.20,498.68 C536.86,497.87 537.53,497.06 538.20,496.26 C538.88,495.46 539.57,494.66 540.27,493.88 C540.97,493.10 541.68,492.31 542.41,491.57 C543.14,490.83 543.88,490.10 544.65,489.43 C545.41,488.76 546.18,488.12 546.99,487.56 C547.78,487.01 548.60,486.49 549.44,486.08 C550.27,485.67 551.13,485.31 552.02,485.08 C552.89,484.85 553.81,484.70 554.72,484.69 C555.66,484.67 556.62,484.79 557.57,484.99 C558.55,485.20 559.53,485.56 560.49,485.96 C561.46,486.37 562.42,486.88 563.34,487.42 C564.26,487.95 565.15,488.56 565.99,489.18 C566.82,489.80 567.62,490.45 568.37,491.14 C569.13,491.81 569.84,492.52 570.52,493.25 C571.21,493.97 571.85,494.73 572.48,495.50 C573.11,496.26 573.71,497.05 574.29,497.85 C574.88,498.65 575.44,499.47 575.99,500.29 C576.55,501.11 577.09,501.95 577.63,502.78 C578.17,503.62 578.70,504.46 579.24,505.30 C579.78,506.15 580.32,506.99 580.87,507.83 C581.42,508.67 581.97,509.51 582.55,510.33 C583.13,511.16 583.72,511.98 584.33,512.79 C584.95,513.59 585.59,514.39 586.26,515.16 C586.93,515.94 587.63,516.71 588.36,517.44 C589.09,518.18 589.86,518.90 590.65,519.58 C591.44,520.26 592.26,520.91 593.10,521.52 C593.93,522.12 594.79,522.70 595.66,523.22 C596.53,523.73 597.41,524.20 598.31,524.61 C599.20,525.01 600.10,525.37 601.01,525.65 C601.90,525.93 602.81,526.15 603.71,526.29 C604.60,526.42 605.50,526.49 606.39,526.46 C607.27,526.43 608.15,526.32 609.01,526.11 C609.87,525.90 610.72,525.59 611.52,525.19 C612.35,524.78 613.15,524.25 613.91,523.66 C614.70,523.05 615.45,522.32 616.18,521.59 C616.94,520.83 617.66,519.99 618.39,519.17 C619.13,518.33 619.85,517.44 620.60,516.59 C621.34,515.74 622.08,514.86 622.86,514.05 C623.62,513.24 624.40,512.44 625.23,511.73 C626.04,511.03 626.88,510.37 627.76,509.82 C628.63,509.29 629.55,508.83 630.48,508.48 C631.39,508.13 632.34,507.87 633.28,507.72 C634.21,507.57 635.16,507.52 636.08,507.58 C636.98,507.64 637.90,507.81 638.77,508.07 C639.65,508.33 640.51,508.71 641.33,509.14 C642.17,509.58 642.98,510.12 643.76,510.70 C644.55,511.29 645.31,511.96 646.05,512.66 C646.80,513.37 647.51,514.14 648.21,514.92 C648.91,515.72 649.58,516.56 650.23,517.40 C650.88,518.25 651.50,519.13 652.11,520.01 C652.71,520.87 653.29,521.76 653.85,522.64 C654.40,523.51 654.94,524.37 655.46,525.24 C655.97,526.09 656.47,526.95 656.96,527.80 C657.44,528.65 657.91,529.50 658.37,530.36 C658.83,531.21 659.28,532.06 659.73,532.92 C660.18,533.78 660.62,534.65 661.06,535.52 C661.50,536.39 661.94,537.26 662.37,538.14 C662.80,539.02 663.23,539.91 663.66,540.80 C664.08,541.69 664.51,542.59 664.93,543.49 C665.35,544.39 665.76,545.30 666.18,546.20 C666.59,547.11 667.00,548.03 667.41,548.94 C667.81,549.86 668.22,550.78 668.62,551.70 C669.02,552.63 669.41,553.55 669.81,554.48 C670.20,555.41 670.59,556.35 670.98,557.28 C671.37,558.21 671.76,559.15 672.14,560.09 C672.52,561.03 672.90,561.97 673.28,562.91 C673.65,563.86 674.03,564.80 674.40,565.75 C674.77,566.69 675.14,567.64 675.50,568.59 C675.87,569.54 676.23,570.48 676.59,571.43 C676.95,572.38 677.31,573.33 677.66,574.28 C678.02,575.23 678.37,576.18 678.72,577.13 C679.07,578.08 679.41,579.02 679.76,579.97 C680.10,580.92 680.44,581.87 680.78,582.81 C681.12,583.76 681.46,584.70 681.79,585.64 C682.13,586.59 682.46,587.53 682.79,588.47 C683.12,589.40 683.45,590.34 683.77,591.28 C684.10,592.21 684.42,593.14 684.74,594.07 C685.06,595.00 685.38,595.92 685.70,596.85 C686.01,597.77 686.33,598.69 686.64,599.61 C686.95,600.52 687.27,601.44 687.58,602.35 C687.90,603.26 688.21,604.17 688.54,605.08 C688.86,605.99 689.18,606.90 689.52,607.81 C689.85,608.72 690.19,609.62 690.54,610.53 C690.89,611.44 691.24,612.35 691.61,613.25 C691.98,614.17 692.36,615.08 692.75,615.99 C693.15,616.90 693.55,617.82 693.97,618.73 C694.39,619.65 694.83,620.57 695.28,621.49 C695.74,622.42 696.21,623.35 696.70,624.27 C697.20,625.21 697.71,626.15 698.24,627.08 C698.78,628.03 699.34,628.98 699.92,629.92 C700.50,630.87 701.11,631.83 701.74,632.75 C702.37,633.66 703.01,634.57 703.70,635.41 C704.37,636.23 705.06,637.04 705.79,637.74 C706.50,638.40 707.24,639.05 708.02,639.54 C708.77,640.00 709.56,640.42 710.38,640.64 C711.18,640.85 712.03,640.94 712.86,640.85 C713.72,640.77 714.60,640.45 715.44,640.08 C716.33,639.69 717.20,639.12 718.04,638.54 C718.90,637.94 719.73,637.24 720.53,636.55 C721.33,635.86 722.10,635.14 722.83,634.40 C723.56,633.66 724.25,632.91 724.92,632.14 C725.58,631.37 726.21,630.58 726.82,629.78 C727.42,628.98 727.99,628.17 728.54,627.34 C729.08,626.51 729.60,625.67 730.09,624.81 C730.59,623.96 731.05,623.09 731.50,622.21 C731.94,621.33 732.36,620.44 732.77,619.54 C733.17,618.64 733.55,617.73 733.91,616.81 C734.27,615.89 734.61,614.96 734.94,614.03 C735.27,613.09 735.58,612.15 735.88,611.20 C736.18,610.25 736.46,609.29 736.74,608.33 C737.01,607.37 737.27,606.40 737.52,605.43 C737.78,604.46 738.02,603.49 738.26,602.51 C738.49,601.54 738.72,600.56 738.95,599.57 C739.17,598.59 739.39,597.61 739.61,596.63 C739.83,595.64 740.05,594.66 740.26,593.68 C740.47,592.69 740.69,591.71 740.90,590.72 C741.11,589.74 741.32,588.76 741.52,587.77 C741.73,586.79 741.94,585.80 742.14,584.82 C742.34,583.83 742.55,582.85 742.75,581.86 C742.95,580.88 743.14,579.89 743.34,578.91 C743.54,577.92 743.73,576.94 743.92,575.95 C744.12,574.97 744.31,573.98 744.50,572.99 C744.69,572.01 744.88,571.02 745.06,570.04 C745.25,569.05 745.43,568.06 745.62,567.08 C745.80,566.09 745.98,565.10 746.16,564.12 C746.34,563.13 746.52,562.14 746.69,561.16 C746.87,560.17 747.04,559.18 747.22,558.20 C747.39,557.21 747.56,556.22 747.73,555.23 C747.90,554.25 748.07,553.26 748.24,552.27 C748.40,551.28 748.57,550.29 748.73,549.31 C748.90,548.32 749.06,547.33 749.22,546.34 C749.38,545.35 749.54,544.36 749.70,543.37 C749.86,542.39 750.01,541.40 750.17,540.41 C750.32,539.42 750.48,538.43 750.63,537.44 C750.78,536.45 750.93,535.46 751.08,534.47 C751.23,533.48 751.38,532.49 751.53,531.50 C751.67,530.51 751.82,529.52 751.96,528.53 C752.10,527.54 752.25,526.55 752.39,525.56 C752.53,524.57 752.67,523.58 752.81,522.59 C752.95,521.60 753.08,520.61 753.22,519.62 C753.36,518.63 753.49,517.64 753.62,516.65 C753.76,515.66 753.89,514.67 754.02,513.68 C754.15,512.68 754.28,511.69 754.41,510.70 C754.54,509.71 754.66,508.72 754.79,507.73 C754.92,506.74 755.04,505.74 755.17,504.75 C755.29,503.76 755.41,502.77 755.53,501.78 C755.65,500.78 755.77,499.79 755.89,498.80 C756.01,497.81 756.13,496.82 756.25,495.82 C756.36,494.83 756.48,493.84 756.60,492.85 C756.71,491.85 756.82,490.86 756.94,489.87 C757.05,488.87 757.16,487.88 757.27,486.89 C757.38,485.89 757.49,484.90 757.60,483.91 C757.71,482.91 757.82,481.92 757.92,480.93 C758.03,479.93 758.13,478.94 758.24,477.95 C758.34,476.95 758.45,475.96 758.55,474.97 C758.65,473.97 758.75,472.98 758.86,471.98 C758.96,470.99 759.06,470.00 759.16,469.00 C759.25,468.01 759.35,467.01 759.45,466.02 C759.55,465.02 759.64,464.03 759.74,463.03 C759.84,462.04 759.93,461.05 760.02,460.05 C760.12,459.06 760.21,458.06 760.30,457.07 C760.40,456.07 760.49,455.08 760.58,454.08 C760.67,453.09 760.76,452.09 760.85,451.10 C760.94,450.10 761.03,449.11 761.11,448.11 C761.20,447.11 761.29,446.12 761.38,445.12 C761.46,444.13 761.55,443.13 761.63,442.14 C761.72,441.14 761.80,440.14 761.89,439.15 C761.97,438.15 762.05,437.16 762.14,436.16 C762.22,435.16 762.30,434.17 762.38,433.17 C762.46,432.18 762.54,431.18 762.62,430.18 C762.70,429.19 762.78,428.19 762.86,427.19 C762.94,426.20 763.02,425.20 763.10,424.21 C763.17,423.21 763.25,422.21 763.33,421.22 C763.40,420.22 763.48,419.22 763.56,418.22 C763.63,417.23 763.71,416.23 763.78,415.23 C763.86,414.24 763.93,413.24 764.00,412.24 C764.08,411.25 764.15,410.25 764.22,409.25 C764.30,408.25 764.37,407.26 764.44,406.26 C764.51,405.26 764.59,404.27 764.66,403.27 C764.73,402.27 764.80,401.27 764.87,400.28 C764.94,399.28 765.01,398.28 765.08,397.28 C765.15,396.29 765.22,395.29 765.29,394.29 C765.36,393.29 765.43,392.29 765.50,391.30 C765.57,390.30 765.63,389.30 765.70,388.30 C765.77,387.31 765.84,386.31 765.91,385.31 C765.97,384.31 766.04,383.31 766.11,382.32 C766.18,381.32 766.24,380.32 766.31,379.32 C766.38,378.32 766.44,377.32 766.51,376.33 C766.58,375.33 766.64,374.33 766.71,373.33 C766.78,372.33 766.84,371.33 766.91,370.34 C766.97,369.34 767.04,368.34 767.11,367.34 C767.17,366.34 767.24,365.34 767.30,364.35 C767.37,363.35 767.43,362.35 767.50,361.35 C767.57,360.35 767.63,359.35 767.70,358.35 C767.76,357.36 767.83,356.36 767.89,355.36 C767.96,354.36 768.02,353.36 768.09,352.36 C768.15,351.36 768.22,350.36 768.28,349.37 C768.35,348.37 768.42,347.37 768.48,346.37 C768.55,345.37 768.61,344.37 768.68,343.37 C768.74,342.37 768.81,341.37 768.88,340.38 C768.94,339.38 769.01,338.38 769.07,337.38 C769.14,336.38 769.21,335.38 769.27,334.38 C769.34,333.38 769.41,332.38 769.47,331.39 C769.54,330.39 769.61,329.39 769.67,328.39 C769.74,327.39 769.81,326.39 769.88,325.39 C769.94,324.39 770.01,323.39 770.08,322.39 C770.15,321.39 770.22,320.40 770.29,319.40 C770.35,318.40 770.42,317.40 770.49,316.40 C770.56,315.40 770.63,314.40 770.70,313.40 C770.77,312.40 770.84,311.40 770.91,310.40 C770.98,309.41 771.05,308.41 771.12,307.41 C771.19,306.41 771.26,305.41 771.33,304.41 C771.40,303.41 771.47,302.41 771.55,301.41 C771.62,300.41 771.69,299.41 771.76,298.42 C771.83,297.42 771.90,296.42 771.98,295.42 C772.05,294.42 772.12,293.42 772.19,292.42 C772.27,291.42 772.34,290.42 772.41,289.42 C772.49,288.43 772.56,287.43 772.64,286.43 C772.71,285.43 772.78,284.43 772.86,283.43 C772.93,282.43 773.01,281.43 773.08,280.43 C773.16,279.44 773.23,278.44 773.31,277.44 C773.38,276.44 773.46,275.44 773.53,274.44 C773.61,273.44 773.69,272.44 773.76,271.45 C773.84,270.45 773.92,269.45 773.99,268.45 C774.07,267.45 774.15,266.45 774.22,265.45 C774.30,264.46 774.38,263.46 774.46,262.46 C774.54,261.46 774.61,260.46 774.69,259.46 C774.77,258.47 774.85,257.47 774.93,256.47 C775.01,255.47 775.09,254.47 775.17,253.47 C775.25,252.48 775.33,251.48 775.41,250.48 C775.49,249.48 775.57,248.48 775.65,247.49 C775.73,246.49 775.81,245.49 775.89,244.49 C775.97,243.49 776.05,242.50 776.13,241.50 C776.22,240.50 776.30,239.50 776.38,238.51 C776.46,237.51 776.54,236.51 776.63,235.51 C776.71,234.51 776.79,233.52 776.88,232.52 C776.96,231.52 777.04,230.53 777.13,229.53 C777.21,228.53 777.29,227.53 777.38,226.54 C777.46,225.54 777.55,224.54 777.63,223.55 C777.72,222.55 777.80,221.55 777.89,220.55 C777.97,219.56 778.06,218.56 778.15,217.56 C778.23,216.57 778.32,215.57 778.41,214.57 C778.49,213.58 778.58,212.58 778.67,211.58 C778.75,210.59 778.84,209.59 778.93,208.60 C779.02,207.60 779.11,206.60 779.19,205.61 C779.28,204.61 779.37,203.62 779.46,202.62 C779.55,201.62 779.64,200.63 779.73,199.63 C779.82,198.64 779.91,197.64 780.00,196.65 C780.09,195.65 780.18,194.65 780.27,193.66 C780.36,192.66 780.45,191.67 780.54,190.67 C780.63,189.68 780.72,188.68 780.82,187.69 C780.91,186.69 781.00,185.70 781.09,184.70 C781.19,183.71 781.28,182.71 781.37,181.72 C781.46,180.73 781.56,179.73 781.65,178.74 C781.74,177.74 781.84,176.75 781.93,175.75 C782.03,174.76 782.12,173.77 782.22,172.77 C782.31,171.78 782.41,170.78 782.50,169.79 C782.60,168.80 782.69,167.80 782.79,166.81 C782.89,165.82 782.98,164.82 783.08,163.83 C783.18,162.84 783.27,161.84 783.37,160.85 C783.47,159.86 783.57,158.87 783.66,157.87 C783.76,156.88 783.86,155.89 783.96,154.90 C784.06,153.90 784.16,152.91 784.26,151.92 C784.35,150.93 784.45,149.93 784.55,148.94 C784.65,147.95 784.75,146.96 784.85,145.97 C784.95,144.98 785.06,143.98 785.16,142.99 C785.26,142.00 785.36,141.01 785.46,140.02 C785.56,139.03 785.66,138.04 785.77,137.05 C785.87,136.05 785.97,135.06 786.08,134.07 C786.18,133.08 786.28,132.09 786.39,131.10 C786.49,130.11 786.59,129.12 786.70,128.13 C786.80,127.14 786.91,126.15 787.01,125.16 C787.12,124.17 787.22,123.18 787.33,122.19 C787.44,121.20 787.55,120.21 787.65,119.22 C787.76,118.23 787.87,117.24 787.99,116.25 C788.10,115.26 788.21,114.27 788.33,113.28 C788.44,112.29 788.56,111.30 788.68,110.31 C788.80,109.32 788.92,108.33 789.05,107.33 C789.17,106.34 789.30,105.35 789.43,104.36 C789.56,103.36 789.69,102.37 789.82,101.38 C789.96,100.38 790.10,99.39 790.24,98.39 C790.38,97.40 790.52,96.40 790.67,95.40 C790.82,94.41 790.97,93.41 791.13,92.41 C791.29,91.41 791.45,90.41 791.61,89.41 C791.78,88.41 791.94,87.41 792.12,86.41 C792.29,85.41 792.47,84.40 792.65,83.40 C792.83,82.39 793.02,81.39 793.21,80.38 C793.41,79.38 793.60,78.37 793.81,77.36 C794.01,76.35 794.22,75.34 794.43,74.33 C794.65,73.32 794.87,72.30 795.10,71.29 C795.32,70.28 795.55,69.26 795.79,68.24 C796.03,67.23 796.26,66.20 796.54,65.20 C796.82,64.21 797.09,63.20 797.45,62.25 C797.80,61.32 798.17,60.39 798.66,59.55 C799.14,58.71 799.68,57.90 800.33,57.21 C800.98,56.53 801.74,55.85 802.55,55.44 C803.32,55.05 804.23,54.73 805.05,54.77 C805.86,54.81 806.71,55.22 807.44,55.67 C808.21,56.15 808.91,56.89 809.55,57.59 C810.19,58.29 810.76,59.06 811.29,59.86 C811.81,60.65 812.28,61.49 812.69,62.35 C813.12,63.21 813.48,64.11 813.81,65.03 C814.14,65.95 814.43,66.91 814.68,67.87 C814.94,68.84 815.16,69.83 815.36,70.83 C815.56,71.84 815.73,72.86 815.89,73.89 C816.05,74.92 816.18,75.96 816.31,77.01 C816.44,78.05 816.56,79.10 816.68,80.15 C816.80,81.20 816.91,82.25 817.04,83.29 C817.17,84.33 817.30,85.37 817.44,86.40 C817.58,87.42 817.73,88.44 817.89,89.45 C818.05,90.46 818.22,91.47 818.39,92.47 C818.57,93.46 818.75,94.46 818.93,95.45 C819.11,96.43 819.30,97.42 819.49,98.40 C819.68,99.38 819.87,100.35 820.06,101.33 C820.26,102.30 820.45,103.28 820.64,104.25 C820.84,105.22 821.03,106.19 821.22,107.16 C821.41,108.13 821.59,109.10 821.78,110.07 C821.96,111.04 822.14,112.01 822.31,112.99 C822.49,113.96 822.66,114.93 822.82,115.91 C822.99,116.89 823.15,117.86 823.31,118.84 C823.47,119.82 823.62,120.80 823.78,121.77 C823.93,122.75 824.08,123.73 824.22,124.72 C824.37,125.70 824.51,126.68 824.65,127.66 C824.79,128.65 824.92,129.63 825.05,130.61 C825.19,131.60 825.32,132.58 825.44,133.57 C825.57,134.56 825.69,135.54 825.81,136.53 C825.94,137.52 826.06,138.51 826.17,139.50 C826.29,140.49 826.40,141.48 826.51,142.47 C826.63,143.46 826.74,144.45 826.84,145.44 C826.95,146.43 827.06,147.42 827.16,148.42 C827.26,149.41 827.36,150.40 827.46,151.40 C827.56,152.39 827.66,153.38 827.76,154.38 C827.86,155.37 827.95,156.37 828.05,157.36 C828.14,158.36 828.23,159.35 828.32,160.35 C828.42,161.35 828.51,162.34 828.59,163.34 C828.68,164.34 828.77,165.34 828.86,166.33 C828.95,167.33 829.03,168.33 829.12,169.33 C829.21,170.32 829.29,171.32 829.38,172.32 C829.46,173.32 829.55,174.32 829.63,175.32 C829.71,176.31 829.80,177.31 829.88,178.31 C829.97,179.31 830.05,180.31 830.13,181.31 C830.22,182.31 830.30,183.31 830.38,184.31 C830.47,185.30 830.55,186.30 830.64,187.30 C830.72,188.30 830.81,189.30 830.89,190.30 C830.98,191.30 831.06,192.30 831.15,193.30 C831.23,194.29 831.32,195.29 831.41,196.29 C831.49,197.29 831.58,198.29 831.67,199.29 C831.76,200.29 831.84,201.29 831.93,202.28 C832.02,203.28 832.11,204.28 832.20,205.28 C832.28,206.28 832.37,207.28 832.46,208.28 C832.55,209.27 832.64,210.27 832.73,211.27 C832.82,212.27 832.91,213.27 833.00,214.27 C833.09,215.26 833.18,216.26 833.27,217.26 C833.36,218.26 833.46,219.26 833.55,220.25 C833.64,221.25 833.73,222.25 833.83,223.25 C833.92,224.25 834.01,225.24 834.10,226.24 C834.20,227.24 834.29,228.24 834.39,229.24 C834.48,230.23 834.57,231.23 834.67,232.23 C834.76,233.23 834.86,234.22 834.95,235.22 C835.05,236.22 835.15,237.22 835.24,238.21 C835.34,239.21 835.44,240.21 835.53,241.21 C835.63,242.20 835.73,243.20 835.82,244.20 C835.92,245.19 836.02,246.19 836.12,247.19 C836.22,248.18 836.32,249.18 836.42,250.18 C836.52,251.18 836.62,252.17 836.72,253.17 C836.82,254.17 836.92,255.16 837.02,256.16 C837.12,257.15 837.22,258.15 837.32,259.15 C837.43,260.14 837.53,261.14 837.63,262.14 C837.73,263.13 837.84,264.13 837.94,265.12 C838.04,266.12 838.15,267.12 838.25,268.11 C838.36,269.11 838.46,270.10 838.57,271.10 C838.67,272.10 838.78,273.09 838.88,274.09 C838.99,275.08 839.10,276.08 839.20,277.07 C839.31,278.07 839.42,279.06 839.53,280.06 C839.63,281.05 839.74,282.05 839.85,283.04 C839.96,284.04 840.07,285.03 840.18,286.03 C840.29,287.02 840.40,288.02 840.51,289.01 C840.62,290.01 840.73,291.00 840.84,291.99 C840.95,292.99 841.07,293.98 841.18,294.98 C841.29,295.97 841.40,296.97 841.52,297.96 C841.63,298.95 841.74,299.95 841.86,300.94 C841.97,301.93 842.09,302.93 842.20,303.92 C842.32,304.91 842.44,305.91 842.55,306.90 C842.67,307.89 842.78,308.89 842.90,309.88 C843.02,310.87 843.14,311.87 843.26,312.86 C843.37,313.85 843.49,314.84 843.61,315.84 C843.73,316.83 843.85,317.82 843.97,318.81 C844.09,319.81 844.21,320.80 844.33,321.79 C844.45,322.78 844.58,323.77 844.70,324.76 C844.82,325.76 844.94,326.75 845.07,327.74 C845.19,328.73 845.31,329.72 845.44,330.71 C845.56,331.70 845.69,332.70 845.81,333.69 C845.94,334.68 846.07,335.67 846.19,336.66 C846.32,337.65 846.45,338.64 846.57,339.63 C846.70,340.62 846.83,341.61 846.96,342.60 C847.09,343.59 847.22,344.58 847.35,345.57 C847.47,346.56 847.61,347.55 847.74,348.54 C847.87,349.53 848.00,350.52 848.13,351.51 C848.26,352.50 848.39,353.49 848.53,354.47 C848.66,355.46 848.79,356.45 848.93,357.44 C849.06,358.43 849.20,359.42 849.33,360.41 C849.47,361.39 849.60,362.38 849.74,363.37 C849.88,364.36 850.01,365.35 850.15,366.33 C850.29,367.32 850.43,368.31 850.57,369.30 C850.71,370.28 850.84,371.27 850.98,372.26 C851.12,373.24 851.27,374.23 851.41,375.22 C851.55,376.20 851.69,377.19 851.83,378.18 C851.97,379.16 852.12,380.15 852.26,381.14 C852.40,382.12 852.54,383.11 852.69,384.09 C852.83,385.08 852.98,386.07 853.12,387.05 C853.27,388.04 853.41,389.02 853.56,390.01 C853.70,391.00 853.85,391.98 853.99,392.97 C854.14,393.95 854.28,394.94 854.43,395.92 C854.58,396.91 854.72,397.90 854.87,398.88 C855.02,399.87 855.16,400.85 855.31,401.84 C855.46,402.83 855.60,403.81 855.75,404.80 C855.90,405.78 856.04,406.77 856.19,407.76 C856.34,408.74 856.49,409.73 856.63,410.71 C856.78,411.70 856.93,412.69 857.07,413.67 C857.22,414.66 857.37,415.65 857.52,416.63 C857.66,417.62 857.81,418.61 857.96,419.59 C858.10,420.58 858.25,421.57 858.40,422.56 C858.54,423.54 858.69,424.53 858.84,425.52 C858.98,426.51 859.13,427.49 859.27,428.48 C859.42,429.47 859.57,430.46 859.71,431.45 C859.86,432.44 860.00,433.43 860.14,434.41 C860.29,435.40 860.43,436.39 860.58,437.38 C860.72,438.37 860.86,439.36 861.01,440.35 C861.15,441.34 861.29,442.33 861.43,443.33 C861.58,444.32 861.72,445.31 861.86,446.30 C862.00,447.29 862.14,448.28 862.28,449.28 C862.42,450.27 862.56,451.26 862.70,452.25 C862.84,453.25 862.98,454.24 863.11,455.23 C863.25,456.23 863.39,457.22 863.52,458.22 C863.66,459.21 863.80,460.21 863.93,461.20 C864.06,462.20 864.20,463.19 864.33,464.19 C864.47,465.19 864.60,466.18 864.73,467.18 C864.86,468.18 864.99,469.18 865.12,470.17 C865.25,471.17 865.38,472.17 865.51,473.17 C865.64,474.17 865.76,475.17 865.89,476.17 C866.02,477.17 866.14,478.17 866.27,479.17 C866.39,480.17 866.51,481.18 866.64,482.18 C866.76,483.18 866.88,484.18 867.01,485.19 C867.13,486.19 867.25,487.19 867.37,488.20 C867.50,489.20 867.62,490.20 867.74,491.21 C867.87,492.21 867.99,493.21 868.12,494.21 C868.24,495.22 868.37,496.22 868.49,497.22 C868.62,498.22 868.75,499.23 868.88,500.23 C869.01,501.23 869.14,502.23 869.27,503.23 C869.41,504.23 869.54,505.23 869.68,506.23 C869.82,507.23 869.96,508.23 870.10,509.22 C870.24,510.22 870.39,511.22 870.53,512.21 C870.68,513.21 870.83,514.20 870.99,515.19 C871.14,516.19 871.30,517.18 871.46,518.17 C871.62,519.16 871.79,520.15 871.96,521.14 C872.13,522.12 872.30,523.11 872.48,524.10 C872.65,525.08 872.83,526.06 873.02,527.04 C873.21,528.02 873.40,529.00 873.59,529.98 C873.79,530.96 873.99,531.93 874.20,532.91 C874.40,533.88 874.62,534.85 874.83,535.82 C875.05,536.79 875.28,537.76 875.50,538.72 C875.73,539.69 875.97,540.65 876.21,541.61 C876.45,542.57 876.70,543.53 876.96,544.48 C877.21,545.44 877.47,546.39 877.74,547.34 C878.01,548.29 878.29,549.24 878.57,550.18 C878.85,551.12 879.14,552.07 879.44,553.00 C879.74,553.94 880.05,554.88 880.36,555.81 C880.68,556.74 881.00,557.67 881.33,558.59 C881.66,559.52 882.00,560.44 882.35,561.36 C882.70,562.28 883.05,563.20 883.42,564.11 C883.78,565.02 884.15,565.93 884.53,566.84 C884.91,567.75 885.29,568.66 885.69,569.56 C886.08,570.47 886.48,571.37 886.88,572.27 C887.29,573.17 887.70,574.07 888.12,574.96 C888.54,575.86 888.97,576.75 889.40,577.65 C889.83,578.54 890.26,579.44 890.70,580.33 C891.15,581.22 891.59,582.11 892.05,583.00 C892.50,583.89 892.96,584.78 893.42,585.67 C893.88,586.56 894.35,587.45 894.82,588.34 C895.29,589.23 895.76,590.12 896.24,591.01 C896.72,591.90 897.21,592.79 897.69,593.68 C898.18,594.57 898.67,595.46 899.16,596.35 C899.66,597.25 900.15,598.14 900.65,599.03 C901.15,599.93 901.65,600.83 902.16,601.72 C902.66,602.62 903.17,603.51 903.68,604.41 C904.19,605.31 904.71,606.20 905.23,607.10 C905.74,607.99 906.27,608.88 906.80,609.77 C907.32,610.66 907.85,611.55 908.39,612.44 C908.93,613.32 909.47,614.20 910.02,615.07 C910.57,615.95 911.12,616.82 911.69,617.68 C912.25,618.55 912.81,619.41 913.39,620.26 C913.96,621.11 914.54,621.95 915.13,622.79 C915.72,623.63 916.31,624.46 916.91,625.28 C917.52,626.09 918.13,626.91 918.75,627.71 C919.37,628.51 919.99,629.30 920.63,630.08 C921.27,630.85 921.91,631.62 922.57,632.38 C923.22,633.13 923.89,633.88 924.56,634.61 C925.24,635.33 925.92,636.05 926.62,636.75 C927.31,637.45 928.02,638.14 928.74,638.81 C929.46,639.48 930.18,640.14 930.92,640.78 C931.66,641.42 932.42,642.04 933.18,642.65 C933.94,643.25 934.72,643.84 935.51,644.41 C936.30,644.98 937.10,645.53 937.92,646.06 C938.73,646.59 939.56,647.10 940.40,647.59 C941.25,648.08 942.10,648.55 942.97,649.00 C943.84,649.44 944.73,649.87 945.63,650.27 C946.53,650.67 947.44,651.05 948.37,651.41 C949.30,651.76 950.25,652.09 951.21,652.40 C952.17,652.70 953.14,652.98 954.12,653.23 C955.11,653.49 956.10,653.71 957.10,653.91 C958.09,654.11 959.10,654.27 960.11,654.41 C961.11,654.55 962.12,654.66 963.13,654.73 C964.14,654.81 965.15,654.86 966.15,654.87 C967.15,654.88 968.15,654.86 969.15,654.80 C970.13,654.74 971.12,654.65 972.09,654.52 C973.06,654.39 974.02,654.23 974.97,654.03 C975.91,653.82 976.84,653.58 977.76,653.30 C978.67,653.02 979.56,652.70 980.43,652.34 C981.30,651.98 982.15,651.58 982.98,651.14 C983.81,650.70 984.61,650.22 985.40,649.70 C986.18,649.19 986.95,648.64 987.69,648.05 C988.44,647.47 989.17,646.85 989.87,646.21 C990.58,645.56 991.27,644.88 991.94,644.18 C992.62,643.48 993.28,642.74 993.91,641.99 C994.56,641.24 995.18,640.46 995.79,639.66 C996.40,638.86 997.00,638.04 997.58,637.20 C998.17,636.36 998.73,635.50 999.29,634.64 C999.85,633.76 1000.39,632.87 1000.93,631.98 C1001.46,631.08 1001.98,630.17 1002.50,629.25 C1003.01,628.33 1003.51,627.40 1004.01,626.46 C1004.50,625.53 1004.99,624.58 1005.46,623.64 C1005.94,622.69 1006.41,621.74 1006.88,620.79 C1007.34,619.85 1007.80,618.90 1008.25,617.95 C1008.71,617.00 1009.15,616.05 1009.59,615.10 C1010.03,614.16 1010.47,613.21 1010.90,612.26 C1011.33,611.32 1011.75,610.37 1012.18,609.43 C1012.59,608.48 1013.01,607.54 1013.42,606.59 C1013.83,605.65 1014.23,604.71 1014.63,603.76 C1015.03,602.82 1015.43,601.88 1015.82,600.94 C1016.21,599.99 1016.59,599.05 1016.97,598.11 C1017.35,597.17 1017.73,596.23 1018.10,595.29 C1018.48,594.35 1018.84,593.41 1019.21,592.46 C1019.57,591.52 1019.93,590.58 1020.29,589.64 C1020.65,588.71 1021.00,587.77 1021.35,586.83 C1021.70,585.89 1022.04,584.95 1022.39,584.01 C1022.73,583.07 1023.07,582.13 1023.40,581.19 C1023.74,580.25 1024.07,579.32 1024.40,578.38 C1024.73,577.44 1025.06,576.50 1025.38,575.56 C1025.70,574.62 1026.03,573.69 1026.34,572.75 C1026.66,571.81 1026.98,570.87 1027.29,569.93 C1027.60,568.99 1027.92,568.06 1028.22,567.12 C1028.53,566.18 1028.84,565.24 1029.14,564.30 C1029.45,563.36 1029.75,562.43 1030.05,561.49 C1030.35,560.55 1030.65,559.61 1030.95,558.67 C1031.25,557.73 1031.54,556.79 1031.84,555.85 C1032.13,554.91 1032.43,553.97 1032.72,553.03 C1033.01,552.09 1033.30,551.15 1033.59,550.21 C1033.88,549.27 1034.17,548.33 1034.46,547.39 C1034.75,546.45 1035.03,545.51 1035.32,544.57 C1035.61,543.63 1035.89,542.68 1036.18,541.74 C1036.47,540.80 1036.75,539.86 1037.04,538.91 C1037.32,537.97 1037.61,537.03 1037.89,536.08 C1038.18,535.14 1038.46,534.19 1038.75,533.25 C1039.03,532.30 1039.32,531.36 1039.60,530.41 C1039.89,529.47 1040.18,528.52 1040.46,527.57 C1040.75,526.62 1041.04,525.68 1041.33,524.73 C1041.62,523.78 1041.90,522.83 1042.19,521.88 C1042.48,520.93 1042.77,519.98 1043.06,519.03 C1043.35,518.08 1043.65,517.13 1043.94,516.18 C1044.23,515.23 1044.52,514.28 1044.81,513.32 C1045.11,512.37 1045.40,511.42 1045.69,510.47 C1045.99,509.51 1046.28,508.56 1046.58,507.61 C1046.87,506.65 1047.17,505.70 1047.47,504.74 C1047.76,503.79 1048.06,502.83 1048.36,501.88 C1048.65,500.92 1048.95,499.97 1049.25,499.01 C1049.55,498.06 1049.85,497.10 1050.15,496.15 C1050.45,495.19 1050.75,494.23 1051.05,493.28 C1051.35,492.32 1051.65,491.36 1051.95,490.41 C1052.26,489.45 1052.56,488.49 1052.86,487.53 C1053.17,486.58 1053.47,485.62 1053.77,484.66 C1054.08,483.71 1054.38,482.75 1054.69,481.79 C1054.99,480.83 1055.30,479.87 1055.61,478.92 C1055.91,477.96 1056.22,477.00 1056.53,476.04 C1056.84,475.09 1057.15,474.13 1057.45,473.17 C1057.76,472.21 1058.07,471.25 1058.38,470.30 C1058.69,469.34 1059.00,468.38 1059.31,467.42 C1059.63,466.47 1059.94,465.51 1060.25,464.55 C1060.56,463.59 1060.88,462.64 1061.19,461.68 C1061.50,460.72 1061.82,459.76 1062.13,458.81 C1062.45,457.85 1062.76,456.89 1063.08,455.94 C1063.39,454.98 1063.71,454.02 1064.02,453.07 C1064.34,452.11 1064.66,451.15 1064.98,450.20 C1065.29,449.24 1065.61,448.29 1065.93,447.33 C1066.25,446.38 1066.57,445.42 1066.89,444.47 C1067.21,443.51 1067.53,442.56 1067.85,441.61 C1068.17,440.65 1068.50,439.70 1068.82,438.75 C1069.14,437.79 1069.46,436.84 1069.79,435.89 C1070.11,434.93 1070.44,433.98 1070.76,433.03 C1071.08,432.08 1071.41,431.13 1071.74,430.18 C1072.06,429.23 1072.39,428.28 1072.71,427.33 C1073.04,426.38 1073.37,425.43 1073.70,424.48 C1074.02,423.53 1074.35,422.58 1074.68,421.64 C1075.01,420.69 1075.34,419.74 1075.67,418.80 C1076.00,417.85 1076.33,416.90 1076.66,415.96 C1076.99,415.01 1077.33,414.07 1077.66,413.12 C1077.99,412.18 1078.32,411.24 1078.66,410.29 C1078.99,409.35 1079.32,408.41 1079.66,407.47 C1079.99,406.53 1080.33,405.59 1080.66,404.65 C1081.00,403.71 1081.33,402.77 1081.67,401.83 C1082.01,400.89 1082.34,399.96 1082.68,399.02 C1083.02,398.08 1083.36,397.15 1083.70,396.21 C1084.04,395.28 1084.38,394.34 1084.72,393.41 C1085.06,392.48 1085.40,391.55 1085.74,390.61 C1086.08,389.68 1086.42,388.75 1086.76,387.82 C1087.10,386.89 1087.45,385.96 1087.79,385.04 C1088.13,384.11 1088.48,383.18 1088.83,382.25 C1089.17,381.33 1089.52,380.40 1089.87,379.47 C1090.22,378.55 1090.57,377.62 1090.93,376.70 C1091.29,375.77 1091.65,374.85 1092.01,373.92 C1092.37,372.99 1092.73,372.07 1093.10,371.14 C1093.47,370.22 1093.85,369.29 1094.22,368.36 C1094.60,367.44 1094.98,366.51 1095.37,365.58 C1095.76,364.65 1096.15,363.72 1096.55,362.80 C1096.95,361.87 1097.35,360.93 1097.76,360.01 C1098.17,359.08 1098.59,358.15 1099.01,357.22 C1099.44,356.30 1099.88,355.37 1100.32,354.46 C1100.77,353.55 1101.23,352.64 1101.70,351.74 C1102.17,350.84 1102.65,349.95 1103.15,349.07 C1103.65,348.19 1104.16,347.32 1104.69,346.47 C1105.22,345.62 1105.77,344.78 1106.33,343.95 C1106.90,343.14 1107.48,342.33 1108.09,341.54 C1108.69,340.76 1109.32,339.99 1109.97,339.25 C1110.61,338.51 1111.28,337.79 1111.98,337.10 C1112.67,336.41 1113.39,335.74 1114.13,335.11 C1114.87,334.47 1115.64,333.86 1116.43,333.29 C1117.23,332.72 1118.05,332.18 1118.89,331.67 C1119.75,331.17 1120.62,330.70 1121.53,330.28 C1122.44,329.85 1123.37,329.46 1124.33,329.12 C1125.31,328.78 1126.31,328.48 1127.32,328.23 C1128.35,327.98 1129.39,327.77 1130.44,327.62 C1131.49,327.46 1132.55,327.35 1133.60,327.30 C1134.64,327.25 1135.68,327.25 1136.71,327.30 C1137.72,327.36 1138.73,327.47 1139.72,327.63 C1140.70,327.79 1141.67,328.00 1142.62,328.26 C1143.57,328.51 1144.51,328.82 1145.42,329.16 C1146.34,329.50 1147.24,329.89 1148.12,330.31 C1149.00,330.73 1149.87,331.19 1150.72,331.68 C1151.58,332.17 1152.41,332.70 1153.23,333.25 C1154.05,333.80 1154.86,334.38 1155.65,334.98 C1156.44,335.58 1157.22,336.21 1157.98,336.85 C1158.75,337.50 1159.50,338.17 1160.24,338.84 C1160.97,339.52 1161.70,340.22 1162.41,340.92 C1163.12,341.63 1163.82,342.34 1164.50,343.07 C1165.19,343.79 1165.86,344.52 1166.53,345.27 C1167.19,346.01 1167.84,346.76 1168.49,347.52 C1169.13,348.28 1169.76,349.04 1170.38,349.82 C1171.00,350.59 1171.62,351.37 1172.22,352.16 C1172.82,352.95 1173.42,353.74 1174.01,354.54 C1174.59,355.35 1175.17,356.15 1175.74,356.97 C1176.32,357.78 1176.88,358.60 1177.44,359.42 C1177.99,360.25 1178.55,361.08 1179.09,361.91 C1179.64,362.74 1180.18,363.58 1180.71,364.42 C1181.25,365.27 1181.77,366.11 1182.30,366.96 C1182.83,367.81 1183.35,368.66 1183.86,369.52 C1184.38,370.37 1184.90,371.23 1185.41,372.09 C1185.92,372.95 1186.43,373.82 1186.93,374.68 C1187.44,375.54 1187.94,376.41 1188.45,377.28 C1188.95,378.14 1189.45,379.01 1189.95,379.88 C1190.46,380.75 1190.96,381.62 1191.45,382.49 C1191.95,383.36 1192.45,384.23 1192.95,385.10 C1193.44,385.98 1193.94,386.85 1194.43,387.72 C1194.92,388.60 1195.42,389.47 1195.91,390.35 C1196.40,391.23 1196.89,392.10 1197.38,392.98 C1197.87,393.86 1198.35,394.74 1198.84,395.62 C1199.33,396.50 1199.81,397.38 1200.29,398.26 C1200.78,399.14 1201.26,400.02 1201.74,400.90 C1202.22,401.79 1202.70,402.67 1203.18,403.55 C1203.66,404.44 1204.13,405.32 1204.61,406.21 C1205.08,407.09 1205.56,407.98 1206.03,408.87 C1206.51,409.75 1206.98,410.64 1207.45,411.53 C1207.92,412.42 1208.39,413.31 1208.85,414.20 C1209.32,415.09 1209.79,415.98 1210.25,416.87 C1210.72,417.76 1211.18,418.65 1211.64,419.54 C1212.11,420.43 1212.57,421.33 1213.03,422.22 C1213.49,423.11 1213.94,424.01 1214.40,424.90 C1214.86,425.80 1215.31,426.69 1215.77,427.59 C1216.22,428.48 1216.67,429.38 1217.12,430.27 C1217.57,431.17 1218.02,432.07 1218.47,432.96 C1218.92,433.86 1219.37,434.76 1219.81,435.66 C1220.26,436.55 1220.70,437.45 1221.14,438.35 C1221.59,439.25 1222.03,440.15 1222.47,441.05 C1222.91,441.95 1223.35,442.85 1223.78,443.75 C1224.22,444.65 1224.65,445.55 1225.09,446.45 C1225.52,447.35 1225.95,448.25 1226.38,449.15 C1226.82,450.05 1227.24,450.96 1227.67,451.86 C1228.10,452.76 1228.53,453.66 1228.95,454.56 C1229.38,455.47 1229.80,456.37 1230.22,457.27 C1230.64,458.18 1231.06,459.08 1231.48,459.98 C1231.90,460.89 1232.32,461.79 1232.73,462.69 C1233.15,463.60 1233.56,464.50 1233.98,465.40 C1234.39,466.31 1234.80,467.21 1235.21,468.12 C1235.62,469.02 1236.03,469.92 1236.43,470.83 C1236.84,471.73 1237.25,472.64 1237.65,473.54 C1238.05,474.45 1238.45,475.35 1238.86,476.26 C1239.26,477.16 1239.65,478.06 1240.05,478.97 C1240.45,479.87 1240.85,480.78 1241.24,481.68 C1241.64,482.59 1242.03,483.49 1242.43,484.40 C1242.82,485.30 1243.22,486.21 1243.61,487.11 C1244.00,488.02 1244.40,488.92 1244.79,489.83 C1245.18,490.73 1245.57,491.64 1245.97,492.54 C1246.36,493.45 1246.75,494.36 1247.14,495.26 C1247.53,496.17 1247.93,497.07 1248.32,497.98 C1248.71,498.88 1249.11,499.79 1249.50,500.70 C1249.89,501.60 1250.29,502.51 1250.68,503.42 C1251.08,504.32 1251.47,505.23 1251.87,506.14 C1252.27,507.04 1252.67,507.95 1253.07,508.86 C1253.46,509.76 1253.86,510.67 1254.27,511.58 C1254.67,512.49 1255.07,513.39 1255.48,514.30 C1255.88,515.21 1256.29,516.12 1256.70,517.03 C1257.11,517.93 1257.52,518.84 1257.93,519.75 C1258.34,520.66 1258.76,521.57 1259.17,522.48 C1259.59,523.39 1260.01,524.30 1260.43,525.20 C1260.85,526.11 1261.28,527.02 1261.70,527.93 C1262.13,528.84 1262.56,529.75 1262.99,530.66 C1263.42,531.57 1263.86,532.48 1264.30,533.39 C1264.74,534.31 1265.18,535.22 1265.62,536.13 C1266.07,537.04 1266.52,537.95 1266.97,538.86 C1267.42,539.77 1267.88,540.69 1268.34,541.60 C1268.80,542.51 1269.26,543.42 1269.73,544.33 C1270.19,545.25 1270.67,546.16 1271.14,547.07 C1271.62,547.99 1272.10,548.90 1272.58,549.81 C1273.06,550.73 1273.55,551.64 1274.05,552.56 C1274.54,553.47 1275.04,554.39 1275.54,555.30 C1276.04,556.22 1276.55,557.13 1277.07,558.04 C1277.58,558.95 1278.10,559.86 1278.63,560.76 C1279.15,561.66 1279.68,562.56 1280.22,563.45 C1280.76,564.34 1281.31,565.23 1281.87,566.10 C1282.42,566.98 1282.98,567.85 1283.56,568.71 C1284.13,569.56 1284.71,570.41 1285.30,571.25 C1285.89,572.08 1286.48,572.91 1287.09,573.72 C1287.70,574.53 1288.32,575.33 1288.95,576.11 C1289.57,576.89 1290.21,577.66 1290.86,578.41 C1291.51,579.16 1292.17,579.89 1292.85,580.60 C1293.52,581.31 1294.20,582.01 1294.90,582.68 C1295.59,583.36 1296.30,584.01 1297.03,584.64 C1297.75,585.27 1298.48,585.88 1299.23,586.46 C1299.98,587.04 1300.74,587.60 1301.52,588.14 C1302.30,588.67 1303.09,589.17 1303.90,589.65 C1304.71,590.13 1305.53,590.58 1306.36,591.00 C1307.20,591.42 1308.06,591.82 1308.92,592.17 C1309.80,592.53 1310.68,592.86 1311.58,593.16 C1312.49,593.45 1313.41,593.71 1314.34,593.94 C1315.28,594.17 1316.24,594.35 1317.20,594.52 C1318.18,594.68 1319.16,594.81 1320.16,594.92 C1321.16,595.02 1322.17,595.10 1323.18,595.17 C1324.20,595.23 1325.23,595.27 1326.26,595.30 C1327.30,595.33 1328.34,595.35 1329.38,595.36 C1330.42,595.36 1331.47,595.36 1332.52,595.36 C1333.56,595.35 1334.61,595.34 1335.66,595.33 C1336.71,595.33 1337.75,595.32 1338.79,595.32 C1339.83,595.33 1340.87,595.33 1341.90,595.36 C1342.92,595.38 1343.94,595.41 1344.96,595.47 C1345.96,595.52 1346.96,595.59 1347.96,595.67 C1348.95,595.76 1349.93,595.86 1350.91,595.97 C1351.88,596.09 1352.85,596.21 1353.81,596.35 C1354.78,596.48 1355.74,596.63 1356.69,596.78 C1357.65,596.93 1358.61,597.09 1359.56,597.24 C1360.52,597.40 1361.47,597.57 1362.43,597.73 C1363.39,597.89 1364.35,598.05 1365.31,598.21 C1366.28,598.37 1367.25,598.53 1368.22,598.68 C1369.20,598.82 1370.18,598.97 1371.16,599.10 C1372.16,599.23 1373.16,599.36 1374.16,599.47 C1375.17,599.57 1376.18,599.67 1377.20,599.74 C1378.21,599.80 1379.23,599.85 1380.24,599.86 C1381.26,599.88 1382.27,599.86 1383.28,599.81 C1384.29,599.75 1385.29,599.66 1386.28,599.51 C1387.27,599.37 1388.25,599.19 1389.22,598.95 C1390.19,598.70 1391.14,598.41 1392.07,598.05 C1393.01,597.69 1393.92,597.27 1394.82,596.81 C1395.72,596.35 1396.59,595.83 1397.45,595.28 C1398.31,594.72 1399.15,594.12 1399.97,593.51 C1400.79,592.89 1401.59,592.23 1402.37,591.56 C1403.15,590.90 1403.91,590.20 1404.65,589.50 C1405.39,588.80 1406.11,588.09 1406.81,587.36 C1407.51,586.64 1408.20,585.90 1408.86,585.15 C1409.53,584.40 1410.17,583.64 1410.81,582.86 C1411.44,582.09 1412.05,581.30 1412.65,580.51 C1413.25,579.71 1413.83,578.91 1414.39,578.09 C1414.96,577.28 1415.51,576.45 1416.05,575.62 C1416.59,574.78 1417.11,573.94 1417.62,573.09 C1418.13,572.24 1418.63,571.38 1419.12,570.51 C1419.60,569.65 1420.08,568.77 1420.54,567.89 C1421.00,567.01 1421.45,566.12 1421.89,565.23 C1422.33,564.33 1422.76,563.43 1423.19,562.53 C1423.61,561.62 1424.02,560.71 1424.42,559.80 C1424.83,558.88 1425.22,557.96 1425.61,557.04 C1426.00,556.12 1426.38,555.19 1426.76,554.26 C1427.13,553.33 1427.50,552.40 1427.86,551.46 C1428.23,550.52 1428.58,549.59 1428.94,548.65 C1429.29,547.71 1429.64,546.77 1429.98,545.82 C1430.33,544.88 1430.67,543.94 1431.01,542.99 C1431.35,542.05 1431.68,541.10 1432.01,540.16 C1432.34,539.21 1432.67,538.26 1432.99,537.31 C1433.32,536.37 1433.64,535.42 1433.96,534.47 C1434.27,533.52 1434.59,532.57 1434.90,531.61 C1435.21,530.66 1435.52,529.71 1435.82,528.75 C1436.13,527.80 1436.43,526.85 1436.73,525.89 C1437.03,524.94 1437.33,523.98 1437.62,523.02 C1437.92,522.07 1438.21,521.11 1438.50,520.15 C1438.79,519.19 1439.07,518.23 1439.36,517.27 C1439.64,516.31 1439.92,515.35 1440.20,514.39 C1440.48,513.43 1440.76,512.47 1441.03,511.51 C1441.31,510.55 1441.58,509.58 1441.85,508.62 C1442.12,507.66 1442.39,506.69 1442.66,505.73 C1442.93,504.77 1443.19,503.80 1443.46,502.84 C1443.72,501.87 1443.98,500.90 1444.24,499.94 C1444.50,498.97 1444.76,498.01 1445.02,497.04 C1445.28,496.07 1445.53,495.11 1445.79,494.14 C1446.04,493.17 1446.30,492.20 1446.55,491.24 C1446.80,490.27 1447.05,489.30 1447.30,488.33 C1447.55,487.36 1447.80,486.39 1448.05,485.42 C1448.30,484.46 1448.54,483.49 1448.79,482.52 C1449.03,481.55 1449.28,480.58 1449.52,479.61 C1449.77,478.64 1450.01,477.67 1450.25,476.70 C1450.49,475.73 1450.73,474.75 1450.97,473.78 C1451.21,472.81 1451.45,471.84 1451.68,470.87 C1451.92,469.90 1452.15,468.93 1452.39,467.95 C1452.62,466.98 1452.86,466.01 1453.09,465.04 C1453.32,464.06 1453.55,463.09 1453.79,462.12 C1454.02,461.15 1454.25,460.17 1454.47,459.20 C1454.70,458.23 1454.93,457.25 1455.16,456.28 C1455.38,455.30 1455.61,454.33 1455.83,453.36 C1456.06,452.38 1456.28,451.41 1456.51,450.43 C1456.73,449.46 1456.95,448.48 1457.17,447.51 C1457.39,446.53 1457.61,445.56 1457.83,444.58 C1458.05,443.60 1458.27,442.63 1458.49,441.65 C1458.70,440.68 1458.92,439.70 1459.13,438.72 C1459.35,437.75 1459.56,436.77 1459.78,435.79 C1459.99,434.82 1460.20,433.84 1460.42,432.86 C1460.63,431.88 1460.84,430.91 1461.05,429.93 C1461.26,428.95 1461.47,427.97 1461.68,427.00 C1461.89,426.02 1462.09,425.04 1462.30,424.06 C1462.51,423.08 1462.71,422.10 1462.92,421.12 C1463.12,420.15 1463.33,419.17 1463.53,418.19 C1463.74,417.21 1463.94,416.23 1464.14,415.25 C1464.34,414.27 1464.54,413.29 1464.75,412.31 C1464.95,411.33 1465.15,410.35 1465.34,409.37 C1465.54,408.39 1465.74,407.41 1465.94,406.43 C1466.14,405.45 1466.33,404.47 1466.53,403.49 C1466.73,402.51 1466.92,401.53 1467.12,400.55 C1467.31,399.56 1467.51,398.58 1467.70,397.60 C1467.89,396.62 1468.08,395.64 1468.28,394.66 C1468.47,393.68 1468.66,392.69 1468.85,391.71 C1469.04,390.73 1469.23,389.75 1469.42,388.77 C1469.61,387.78 1469.80,386.80 1469.99,385.82 C1470.17,384.84 1470.36,383.85 1470.55,382.87 C1470.74,381.89 1470.92,380.90 1471.11,379.92 C1471.29,378.94 1471.48,377.96 1471.66,376.97 C1471.85,375.99 1472.03,375.01 1472.21,374.02 C1472.40,373.04 1472.58,372.05 1472.76,371.07 C1472.94,370.09 1473.13,369.10 1473.31,368.12 C1473.49,367.14 1473.67,366.15 1473.85,365.17 C1474.03,364.18 1474.21,363.20 1474.39,362.21 C1474.57,361.23 1474.74,360.25 1474.92,359.26 C1475.10,358.28 1475.28,357.29 1475.46,356.31 C1475.63,355.32 1475.81,354.34 1475.98,353.35 C1476.16,352.37 1476.34,351.38 1476.51,350.40 C1476.69,349.41 1476.86,348.43 1477.04,347.44 C1477.21,346.46 1477.38,345.47 1477.56,344.49 C1477.73,343.50 1477.90,342.51 1478.08,341.53 C1478.25,340.54 1478.42,339.56 1478.59,338.57 C1478.76,337.59 1478.93,336.60 1479.11,335.61 C1479.28,334.63 1479.45,333.64 1479.62,332.66 C1479.79,331.67 1479.96,330.68 1480.13,329.70 C1480.30,328.71 1480.47,327.73 1480.63,326.74 C1480.80,325.75 1480.97,324.77 1481.14,323.78 C1481.31,322.80 1481.48,321.81 1481.64,320.82 C1481.81,319.84 1481.98,318.85 1482.14,317.86 C1482.31,316.88 1482.48,315.89 1482.64,314.90 C1482.81,313.92 1482.98,312.93 1483.14,311.94 C1483.31,310.96 1483.47,309.97 1483.64,308.98 C1483.80,308.00 1483.97,307.01 1484.13,306.02 C1484.30,305.04 1484.46,304.05 1484.63,303.06 C1484.79,302.08 1484.96,301.09 1485.12,300.10 C1485.28,299.12 1485.45,298.13 1485.61,297.14 C1485.77,296.15 1485.94,295.17 1486.10,294.18 C1486.26,293.19 1486.43,292.21 1486.59,291.22 C1486.75,290.23 1486.92,289.25 1487.08,288.26 C1487.24,287.27 1487.40,286.28 1487.57,285.30 C1487.73,284.31 1487.89,283.32 1488.05,282.34 C1488.21,281.35 1488.38,280.36 1488.54,279.38 C1488.70,278.39 1488.86,277.40 1489.02,276.42 C1489.18,275.43 1489.35,274.44 1489.51,273.45 C1489.67,272.47 1489.83,271.48 1489.99,270.49 C1490.15,269.51 1490.31,268.52 1490.47,267.53 C1490.64,266.55 1490.80,265.56 1490.96,264.57 C1491.12,263.59 1491.28,262.60 1491.44,261.61 C1491.60,260.63 1491.76,259.64 1491.92,258.65 C1492.09,257.67 1492.25,256.68 1492.41,255.69 C1492.57,254.71 1492.73,253.72 1492.89,252.73 C1493.05,251.75 1493.22,250.76 1493.38,249.77 C1493.54,248.79 1493.70,247.80 1493.86,246.82 C1494.03,245.83 1494.19,244.84 1494.35,243.86 C1494.51,242.87 1494.68,241.88 1494.84,240.90 C1495.01,239.91 1495.17,238.93 1495.33,237.94 C1495.50,236.95 1495.66,235.97 1495.83,234.98 C1496.00,234.00 1496.16,233.01 1496.33,232.03 C1496.50,231.04 1496.66,230.05 1496.83,229.07 C1497.00,228.08 1497.17,227.10 1497.34,226.11 C1497.51,225.13 1497.68,224.14 1497.85,223.16 C1498.02,222.17 1498.19,221.19 1498.36,220.20 C1498.53,219.22 1498.71,218.23 1498.88,217.25 C1499.05,216.26 1499.23,215.28 1499.40,214.29 C1499.58,213.31 1499.76,212.33 1499.94,211.34 C1500.11,210.36 1500.29,209.37 1500.47,208.39 C1500.65,207.40 1500.83,206.42 1501.01,205.44 C1501.20,204.45 1501.38,203.47 1501.56,202.49 C1501.75,201.50 1501.93,200.52 1502.12,199.53 C1502.31,198.55 1502.49,197.57 1502.68,196.59 C1502.87,195.60 1503.06,194.62 1503.25,193.64 C1503.44,192.65 1503.64,191.67 1503.83,190.69 C1504.03,189.71 1504.22,188.72 1504.42,187.74 C1504.62,186.76 1504.82,185.78 1505.02,184.80 C1505.22,183.81 1505.42,182.83 1505.62,181.85 C1505.82,180.87 1506.03,179.89 1506.24,178.91 C1506.44,177.92 1506.65,176.94 1506.86,175.96 C1507.07,174.98 1507.28,174.00 1507.50,173.02 C1507.71,172.04 1507.93,171.06 1508.15,170.08 C1508.36,169.10 1508.59,168.12 1508.81,167.15 C1509.03,166.17 1509.26,165.19 1509.49,164.21 C1509.72,163.24 1509.95,162.26 1510.19,161.29 C1510.43,160.32 1510.67,159.34 1510.91,158.37 C1511.16,157.40 1511.40,156.43 1511.66,155.46 C1511.91,154.49 1512.16,153.53 1512.42,152.56 C1512.69,151.59 1512.95,150.63 1513.22,149.67 C1513.49,148.71 1513.77,147.75 1514.05,146.79 C1514.33,145.83 1514.61,144.87 1514.90,143.92 C1515.19,142.97 1515.49,142.01 1515.79,141.06 C1516.09,140.11 1516.40,139.17 1516.71,138.22 C1517.03,137.28 1517.35,136.34 1517.67,135.40 C1518.00,134.46 1518.33,133.52 1518.67,132.59 C1519.01,131.65 1519.36,130.72 1519.71,129.79 C1520.06,128.86 1520.42,127.94 1520.79,127.02 C1521.16,126.10 1521.54,125.18 1521.92,124.26 C1522.30,123.35 1522.69,122.43 1523.09,121.53 C1523.49,120.62 1523.90,119.71 1524.31,118.81 C1524.73,117.91 1525.15,117.01 1525.59,116.12 C1526.02,115.23 1526.46,114.34 1526.91,113.45 C1527.36,112.57 1527.82,111.69 1528.29,110.81 C1528.75,109.93 1529.23,109.06 1529.71,108.19 C1530.20,107.32 1530.69,106.45 1531.19,105.59 C1531.69,104.72 1532.20,103.87 1532.72,103.01 C1533.24,102.16 1533.76,101.31 1534.30,100.46 C1534.83,99.61 1535.37,98.77 1535.92,97.93 C1536.47,97.09 1537.02,96.25 1537.59,95.42 C1538.15,94.58 1538.72,93.75 1539.30,92.93 C1539.88,92.10 1540.47,91.28 1541.06,90.46 C1541.65,89.64 1542.25,88.82 1542.86,88.01 C1543.46,87.20 1544.08,86.39 1544.70,85.59 C1545.32,84.78 1545.95,83.98 1546.58,83.18 C1547.21,82.38 1547.85,81.58 1548.50,80.79 C1549.15,80.00 1549.80,79.21 1550.46,78.43 C1551.12,77.64 1551.78,76.86 1552.45,76.08 C1553.13,75.30 1553.80,74.52 1554.49,73.75 C1555.17,72.97 1555.86,72.20 1556.55,71.44 C1557.25,70.67 1557.95,69.90 1558.66,69.15 C1559.36,68.40 1560.07,67.64 1560.80,66.93 C1561.53,66.23 1562.26,65.54 1563.02,64.91 C1563.77,64.30 1564.53,63.71 1565.33,63.20 C1566.11,62.71 1566.92,62.25 1567.75,61.91 C1568.58,61.58 1569.44,61.31 1570.32,61.17 C1571.21,61.03 1572.13,60.99 1573.05,61.08 C1574.01,61.17 1575.00,61.42 1575.95,61.73 C1576.94,62.06 1577.93,62.52 1578.87,63.02 C1579.82,63.53 1580.75,64.13 1581.61,64.77 C1582.46,65.40 1583.26,66.09 1584.00,66.81 C1584.73,67.52 1585.40,68.28 1586.02,69.07 C1586.64,69.86 1587.20,70.68 1587.72,71.53 C1588.24,72.37 1588.71,73.25 1589.15,74.14 C1589.59,75.03 1589.99,75.95 1590.36,76.88 C1590.74,77.81 1591.08,78.76 1591.40,79.72 C1591.72,80.68 1592.02,81.65 1592.31,82.62 C1592.60,83.60 1592.87,84.58 1593.14,85.57 C1593.41,86.55 1593.67,87.53 1593.94,88.51 C1594.21,89.49 1594.48,90.46 1594.75,91.43 C1595.03,92.40 1595.30,93.37 1595.58,94.33 C1595.86,95.29 1596.14,96.25 1596.43,97.21 C1596.71,98.17 1596.99,99.12 1597.28,100.08 C1597.56,101.03 1597.85,101.98 1598.13,102.93 C1598.42,103.89 1598.70,104.84 1598.99,105.79 C1599.27,106.74 1599.56,107.70 1599.84,108.65 C1600.12,109.61 1600.40,110.56 1600.69,111.52 C1600.97,112.47 1601.25,113.43 1601.53,114.38 C1601.80,115.34 1602.08,116.30 1602.36,117.26 C1602.64,118.22 1602.91,119.18 1603.19,120.14 C1603.46,121.10 1603.74,122.06 1604.01,123.02 C1604.28,123.98 1604.55,124.94 1604.82,125.90 C1605.09,126.86 1605.36,127.83 1605.63,128.79 C1605.90,129.75 1606.17,130.72 1606.43,131.68 C1606.70,132.65 1606.96,133.61 1607.23,134.58 C1607.49,135.54 1607.75,136.51 1608.01,137.48 C1608.28,138.44 1608.54,139.41 1608.79,140.38 C1609.05,141.35 1609.31,142.31 1609.57,143.28 C1609.82,144.25 1610.08,145.22 1610.33,146.19 C1610.59,147.16 1610.84,148.13 1611.09,149.10 C1611.34,150.07 1611.59,151.04 1611.84,152.01 C1612.08,152.98 1612.33,153.95 1612.58,154.92 C1612.82,155.90 1613.07,156.87 1613.31,157.84 C1613.55,158.81 1613.79,159.79 1614.03,160.76 C1614.27,161.73 1614.51,162.71 1614.75,163.68 C1614.98,164.65 1615.22,165.63 1615.45,166.60 C1615.69,167.57 1615.92,168.55 1616.15,169.52 C1616.38,170.50 1616.61,171.47 1616.83,172.45 C1617.06,173.42 1617.29,174.40 1617.51,175.37 C1617.74,176.35 1617.96,177.32 1618.18,178.30 C1618.40,179.28 1618.62,180.25 1618.84,181.23 C1619.06,182.21 1619.28,183.18 1619.50,184.16 C1619.71,185.14 1619.93,186.11 1620.14,187.09 C1620.35,188.07 1620.57,189.04 1620.78,190.02 C1620.99,191.00 1621.20,191.98 1621.40,192.96 C1621.61,193.93 1621.82,194.91 1622.03,195.89 C1622.23,196.87 1622.44,197.85 1622.64,198.83 C1622.84,199.81 1623.04,200.79 1623.24,201.77 C1623.45,202.74 1623.65,203.72 1623.84,204.70 C1624.04,205.68 1624.24,206.66 1624.44,207.64 C1624.63,208.62 1624.83,209.60 1625.02,210.58 C1625.22,211.57 1625.41,212.55 1625.60,213.53 C1625.79,214.51 1625.98,215.49 1626.17,216.47 C1626.36,217.45 1626.55,218.43 1626.74,219.41 C1626.93,220.40 1627.11,221.38 1627.30,222.36 C1627.48,223.34 1627.67,224.32 1627.85,225.31 C1628.04,226.29 1628.22,227.27 1628.40,228.25 C1628.58,229.24 1628.76,230.22 1628.94,231.20 C1629.13,232.19 1629.30,233.17 1629.48,234.15 C1629.66,235.14 1629.84,236.12 1630.02,237.10 C1630.19,238.09 1630.37,239.07 1630.54,240.05 C1630.72,241.04 1630.89,242.02 1631.07,243.01 C1631.24,243.99 1631.41,244.98 1631.58,245.96 C1631.76,246.95 1631.93,247.93 1632.10,248.91 C1632.27,249.90 1632.44,250.88 1632.61,251.87 C1632.78,252.86 1632.95,253.84 1633.11,254.83 C1633.28,255.81 1633.45,256.80 1633.62,257.78 C1633.78,258.77 1633.95,259.75 1634.11,260.74 C1634.28,261.73 1634.44,262.71 1634.61,263.70 C1634.77,264.69 1634.94,265.67 1635.10,266.66 C1635.26,267.64 1635.43,268.63 1635.59,269.62 C1635.75,270.61 1635.91,271.59 1636.07,272.58 C1636.24,273.57 1636.40,274.55 1636.56,275.54 C1636.72,276.53 1636.88,277.52 1637.04,278.50 C1637.20,279.49 1637.35,280.48 1637.51,281.47 C1637.67,282.45 1637.83,283.44 1637.99,284.43 C1638.15,285.42 1638.30,286.40 1638.46,287.39 C1638.62,288.38 1638.78,289.37 1638.93,290.36 C1639.09,291.35 1639.25,292.33 1639.40,293.32 C1639.56,294.31 1639.71,295.30 1639.87,296.29 C1640.03,297.28 1640.18,298.27 1640.34,299.26 C1640.49,300.24 1640.65,301.23 1640.80,302.22 C1640.96,303.21 1641.11,304.20 1641.27,305.19 C1641.42,306.18 1641.58,307.17 1641.73,308.16 C1641.88,309.15 1642.04,310.14 1642.19,311.13 C1642.35,312.12 1642.50,313.11 1642.66,314.09 C1642.81,315.08 1642.96,316.07 1643.12,317.06 C1643.27,318.05 1643.43,319.04 1643.58,320.03 C1643.73,321.02 1643.89,322.01 1644.04,323.00" stroke="#F5393F"/>
<path d="M159.75,263.90 C159.97,264.90 160.19,265.91 160.40,266.92 C160.62,267.92 160.83,268.93 161.04,269.93 C161.25,270.93 161.46,271.93 161.66,272.93 C161.87,273.93 162.08,274.93 162.28,275.93 C162.48,276.92 162.68,277.91 162.88,278.91 C163.08,279.90 163.28,280.89 163.48,281.88 C163.68,282.87 163.87,283.86 164.07,284.85 C164.27,285.83 164.46,286.82 164.66,287.80 C164.85,288.78 165.05,289.77 165.24,290.75 C165.44,291.73 165.63,292.71 165.83,293.69 C166.02,294.67 166.22,295.64 166.41,296.62 C166.61,297.59 166.81,298.57 167.00,299.54 C167.20,300.52 167.40,301.49 167.60,302.46 C167.80,303.43 168.00,304.40 168.20,305.37 C168.40,306.34 168.60,307.31 168.81,308.28 C169.01,309.24 169.22,310.21 169.43,311.18 C169.64,312.14 169.85,313.11 170.06,314.07 C170.28,315.03 170.49,316.00 170.71,316.96 C170.93,317.92 171.15,318.88 171.37,319.84 C171.59,320.80 171.82,321.76 172.05,322.72 C172.28,323.68 172.51,324.63 172.75,325.59 C172.99,326.55 173.23,327.51 173.47,328.46 C173.71,329.42 173.96,330.37 174.21,331.33 C174.46,332.28 174.72,333.24 174.98,334.19 C175.24,335.15 175.51,336.10 175.77,337.05 C176.04,338.01 176.32,338.96 176.60,339.91 C176.88,340.86 177.16,341.81 177.45,342.76 C177.74,343.72 178.03,344.67 178.33,345.62 C178.63,346.57 178.94,347.52 179.25,348.47 C179.56,349.42 179.88,350.37 180.21,351.32 C180.53,352.27 180.86,353.22 181.20,354.17 C181.53,355.12 181.88,356.07 182.23,357.02 C182.58,357.97 182.93,358.92 183.30,359.87 C183.66,360.82 184.03,361.77 184.41,362.71 C184.79,363.67 185.18,364.62 185.57,365.56 C185.96,366.51 186.36,367.46 186.77,368.41 C187.18,369.36 187.60,370.31 188.02,371.26 C188.45,372.22 188.88,373.17 189.33,374.12 C189.77,375.07 190.22,376.02 190.68,376.97 C191.14,377.92 191.61,378.87 192.09,379.81 C192.57,380.75 193.06,381.69 193.57,382.61 C194.07,383.52 194.59,384.43 195.13,385.32 C195.66,386.19 196.21,387.05 196.79,387.89 C197.36,388.71 197.94,389.51 198.56,390.28 C199.17,391.04 199.79,391.77 200.46,392.46 C201.11,393.13 201.78,393.78 202.49,394.37 C203.19,394.95 203.92,395.50 204.68,395.97 C205.43,396.45 206.22,396.88 207.03,397.23 C207.85,397.59 208.69,397.88 209.56,398.10 C210.45,398.32 211.36,398.46 212.29,398.53 C213.25,398.60 214.24,398.58 215.22,398.48 C216.22,398.38 217.26,398.20 218.24,397.92 C219.22,397.63 220.21,397.26 221.11,396.78 C222.01,396.31 222.86,395.71 223.63,395.05 C224.40,394.38 225.08,393.58 225.73,392.77 C226.37,391.95 226.94,391.04 227.50,390.14 C228.06,389.23 228.55,388.27 229.06,387.33 C229.57,386.40 230.04,385.46 230.53,384.55 C231.02,383.65 231.51,382.78 232.00,381.92 C232.48,381.07 232.98,380.25 233.46,379.42 C233.95,378.60 234.43,377.79 234.91,376.98 C235.38,376.16 235.86,375.35 236.31,374.52 C236.78,373.69 237.23,372.85 237.67,371.99 C238.11,371.13 238.54,370.24 238.96,369.36 C239.39,368.46 239.80,367.55 240.21,366.63 C240.63,365.71 241.03,364.78 241.44,363.84 C241.84,362.90 242.24,361.94 242.64,360.99 C243.04,360.03 243.44,359.07 243.84,358.11 C244.24,357.14 244.64,356.18 245.04,355.21 C245.45,354.24 245.86,353.27 246.27,352.31 C246.68,351.35 247.10,350.38 247.53,349.43 C247.95,348.47 248.39,347.52 248.83,346.58 C249.28,345.64 249.73,344.70 250.19,343.78 C250.66,342.86 251.14,341.95 251.63,341.06 C252.12,340.16 252.62,339.28 253.15,338.42 C253.67,337.56 254.20,336.71 254.76,335.88 C255.32,335.06 255.89,334.25 256.49,333.47 C257.08,332.69 257.69,331.93 258.33,331.20 C258.97,330.47 259.63,329.76 260.32,329.08 C261.00,328.41 261.71,327.76 262.45,327.14 C263.18,326.53 263.95,325.94 264.74,325.39 C265.53,324.84 266.35,324.33 267.20,323.85 C268.05,323.38 268.93,322.94 269.83,322.54 C270.73,322.14 271.65,321.78 272.59,321.46 C273.53,321.14 274.49,320.86 275.46,320.63 C276.42,320.40 277.41,320.20 278.39,320.06 C279.38,319.91 280.37,319.81 281.37,319.76 C282.36,319.70 283.36,319.69 284.35,319.74 C285.34,319.78 286.33,319.87 287.30,320.01 C288.28,320.15 289.25,320.34 290.20,320.58 C291.15,320.83 292.09,321.13 293.01,321.48 C293.93,321.83 294.83,322.23 295.71,322.67 C296.60,323.12 297.47,323.61 298.32,324.13 C299.19,324.65 300.03,325.21 300.87,325.79 C301.71,326.37 302.53,326.98 303.35,327.60 C304.18,328.23 304.99,328.88 305.80,329.52 C306.62,330.17 307.42,330.84 308.23,331.50 C309.04,332.15 309.85,332.82 310.66,333.47 C311.47,334.12 312.28,334.77 313.10,335.39 C313.92,336.01 314.74,336.63 315.58,337.21 C316.41,337.79 317.25,338.36 318.10,338.88 C318.95,339.41 319.81,339.90 320.69,340.35 C321.57,340.80 322.46,341.21 323.36,341.59 C324.26,341.97 325.17,342.30 326.09,342.61 C327.01,342.91 327.94,343.18 328.88,343.42 C329.82,343.65 330.77,343.85 331.72,344.03 C332.67,344.20 333.64,344.34 334.60,344.45 C335.57,344.56 336.54,344.63 337.52,344.69 C338.49,344.74 339.48,344.76 340.46,344.76 C341.44,344.76 342.43,344.73 343.41,344.68 C344.40,344.63 345.39,344.55 346.38,344.45 C347.37,344.35 348.36,344.23 349.34,344.09 C350.33,343.95 351.32,343.78 352.30,343.60 C353.28,343.42 354.26,343.22 355.24,343.00 C356.22,342.79 357.19,342.55 358.16,342.31 C359.14,342.07 360.11,341.82 361.07,341.56 C362.04,341.31 363.01,341.05 363.98,340.80 C364.94,340.55 365.91,340.29 366.88,340.05 C367.84,339.81 368.81,339.58 369.78,339.36 C370.75,339.15 371.72,338.94 372.69,338.76 C373.67,338.58 374.64,338.42 375.62,338.28 C376.60,338.15 377.58,338.04 378.57,337.97 C379.56,337.90 380.55,337.86 381.54,337.85 C382.54,337.83 383.54,337.85 384.54,337.87 C385.54,337.90 386.55,337.95 387.55,338.00 C388.57,338.05 389.58,338.12 390.59,338.18 C391.61,338.24 392.62,338.31 393.64,338.36 C394.66,338.42 395.68,338.47 396.70,338.49 C397.73,338.52 398.75,338.53 399.77,338.52 C400.80,338.52 401.82,338.48 402.84,338.47 C403.86,338.45 404.87,338.43 405.87,338.44 C406.87,338.46 407.86,338.47 408.84,338.56 C409.80,338.64 410.77,338.75 411.70,338.94 C412.63,339.13 413.55,339.38 414.44,339.70 C415.33,340.03 416.20,340.43 417.04,340.88 C417.89,341.33 418.71,341.86 419.52,342.41 C420.34,342.97 421.13,343.59 421.91,344.23 C422.70,344.88 423.46,345.56 424.22,346.26 C424.99,346.97 425.74,347.71 426.49,348.44 C427.25,349.19 427.99,349.95 428.74,350.70 C429.49,351.46 430.23,352.22 430.98,352.97 C431.73,353.72 432.48,354.46 433.25,355.18 C434.01,355.89 434.77,356.60 435.56,357.26 C436.33,357.92 437.12,358.56 437.93,359.15 C438.73,359.73 439.55,360.28 440.40,360.77 C441.23,361.25 442.09,361.69 442.98,362.06 C443.86,362.42 444.77,362.72 445.69,362.95 C446.60,363.18 447.55,363.35 448.49,363.44 C449.44,363.54 450.40,363.57 451.35,363.54 C452.31,363.51 453.27,363.42 454.22,363.26 C455.17,363.11 456.12,362.89 457.05,362.61 C457.98,362.33 458.90,361.99 459.79,361.59 C460.69,361.19 461.57,360.74 462.41,360.22 C463.25,359.71 464.07,359.13 464.85,358.51 C465.63,357.89 466.37,357.20 467.08,356.48 C467.80,355.76 468.48,354.98 469.14,354.19 C469.81,353.38 470.44,352.54 471.06,351.70 C471.69,350.84 472.29,349.96 472.88,349.08 C473.49,348.20 474.07,347.30 474.66,346.41 C475.25,345.53 475.82,344.63 476.42,343.76 C477.01,342.89 477.60,342.02 478.21,341.19 C478.81,340.36 479.43,339.54 480.07,338.77 C480.71,338.01 481.36,337.26 482.05,336.57 C482.73,335.89 483.43,335.24 484.18,334.66 C484.92,334.09 485.69,333.56 486.51,333.11 C487.33,332.67 488.19,332.29 489.07,331.99 C489.97,331.67 490.91,331.45 491.86,331.26 C492.83,331.06 493.82,330.94 494.81,330.83 C495.82,330.72 496.85,330.66 497.88,330.59 C498.91,330.53 499.95,330.50 500.99,330.45 C502.03,330.40 503.07,330.36 504.10,330.29 C505.13,330.22 506.15,330.15 507.15,330.02 C508.14,329.90 509.12,329.75 510.08,329.54 C511.03,329.33 511.95,329.07 512.86,328.77 C513.75,328.47 514.63,328.11 515.49,327.72 C516.34,327.32 517.17,326.88 517.97,326.39 C518.78,325.90 519.56,325.37 520.33,324.80 C521.09,324.22 521.84,323.60 522.56,322.95 C523.29,322.28 523.99,321.57 524.68,320.84 C525.37,320.09 526.04,319.30 526.69,318.49 C527.36,317.68 528.00,316.82 528.63,315.96 C529.27,315.09 529.89,314.20 530.51,313.30 C531.14,312.41 531.75,311.50 532.37,310.59 C532.98,309.69 533.59,308.79 534.22,307.90 C534.84,307.02 535.45,306.13 536.09,305.28 C536.72,304.44 537.36,303.61 538.02,302.82 C538.67,302.04 539.33,301.28 540.02,300.57 C540.70,299.87 541.40,299.20 542.13,298.60 C542.85,298.01 543.59,297.46 544.37,296.99 C545.13,296.53 545.93,296.11 546.76,295.80 C547.59,295.48 548.46,295.24 549.33,295.09 C550.23,294.94 551.16,294.89 552.08,294.92 C553.01,294.94 553.97,295.06 554.90,295.25 C555.84,295.45 556.79,295.73 557.70,296.09 C558.61,296.44 559.51,296.88 560.36,297.39 C561.22,297.91 562.04,298.50 562.80,299.15 C563.56,299.81 564.26,300.56 564.91,301.34 C565.57,302.14 566.15,303.00 566.72,303.88 C567.29,304.76 567.80,305.70 568.31,306.62 C568.83,307.55 569.30,308.50 569.80,309.43 C570.30,310.36 570.79,311.28 571.29,312.18 C571.80,313.08 572.31,313.95 572.83,314.82 C573.35,315.68 573.87,316.53 574.40,317.37 C574.93,318.20 575.46,319.03 576.00,319.85 C576.54,320.67 577.08,321.48 577.62,322.29 C578.16,323.10 578.71,323.91 579.25,324.72 C579.79,325.53 580.34,326.34 580.88,327.15 C581.42,327.97 581.96,328.80 582.50,329.63 C583.04,330.46 583.58,331.31 584.10,332.16 C584.64,333.02 585.16,333.89 585.68,334.78 C586.21,335.67 586.71,336.59 587.24,337.49 C587.77,338.40 588.28,339.32 588.84,340.21 C589.39,341.09 589.95,341.97 590.58,342.78 C591.19,343.58 591.84,344.37 592.56,345.07 C593.28,345.75 594.05,346.39 594.89,346.92 C595.72,347.45 596.64,347.90 597.57,348.26 C598.50,348.62 599.49,348.89 600.48,349.08 C601.47,349.26 602.49,349.37 603.49,349.38 C604.49,349.40 605.50,349.34 606.47,349.19 C607.43,349.04 608.39,348.82 609.29,348.50 C610.16,348.19 611.01,347.80 611.81,347.33 C612.59,346.87 613.32,346.32 614.02,345.72 C614.73,345.13 615.38,344.45 616.01,343.75 C616.66,343.04 617.25,342.27 617.85,341.49 C618.46,340.70 619.03,339.86 619.62,339.02 C620.21,338.16 620.79,337.28 621.39,336.40 C622.00,335.51 622.60,334.61 623.24,333.72 C623.89,332.82 624.56,331.92 625.26,331.04 C625.97,330.16 626.71,329.29 627.49,328.46 C628.26,327.65 629.06,326.84 629.89,326.12 C630.70,325.41 631.54,324.73 632.40,324.16 C633.23,323.61 634.09,323.11 634.97,322.74 C635.80,322.40 636.67,322.11 637.53,322.01 C638.36,321.92 639.22,321.94 640.03,322.12 C640.86,322.31 641.66,322.71 642.42,323.16 C643.22,323.62 643.96,324.26 644.69,324.89 C645.45,325.54 646.16,326.29 646.86,327.01 C647.57,327.73 648.26,328.48 648.93,329.23 C649.60,329.98 650.26,330.75 650.90,331.52 C651.55,332.29 652.17,333.07 652.79,333.86 C653.40,334.65 654.00,335.45 654.59,336.25 C655.17,337.06 655.74,337.88 656.30,338.70 C656.86,339.52 657.40,340.36 657.94,341.19 C658.47,342.03 658.99,342.88 659.50,343.73 C660.01,344.59 660.51,345.45 660.99,346.32 C661.48,347.19 661.96,348.06 662.42,348.94 C662.89,349.82 663.34,350.71 663.78,351.60 C664.23,352.50 664.66,353.39 665.09,354.30 C665.51,355.20 665.93,356.11 666.34,357.03 C666.75,357.94 667.15,358.86 667.54,359.78 C667.93,360.71 668.31,361.64 668.69,362.57 C669.07,363.50 669.44,364.44 669.80,365.37 C670.17,366.31 670.52,367.26 670.87,368.20 C671.22,369.15 671.57,370.10 671.91,371.05 C672.25,372.00 672.58,372.96 672.91,373.91 C673.24,374.87 673.57,375.83 673.89,376.79 C674.21,377.75 674.53,378.71 674.85,379.68 C675.16,380.64 675.47,381.60 675.78,382.57 C676.09,383.54 676.40,384.50 676.70,385.47 C677.01,386.44 677.31,387.40 677.61,388.37 C677.91,389.34 678.21,390.30 678.51,391.27 C678.81,392.24 679.11,393.20 679.41,394.17 C679.71,395.13 680.01,396.10 680.31,397.06 C680.61,398.02 680.91,398.98 681.21,399.94 C681.52,400.90 681.82,401.86 682.12,402.81 C682.43,403.76 682.74,404.72 683.05,405.67 C683.36,406.62 683.67,407.56 683.99,408.51 C684.30,409.45 684.62,410.39 684.95,411.33 C685.27,412.26 685.60,413.20 685.93,414.12 C686.26,415.05 686.60,415.98 686.94,416.90 C687.29,417.82 687.63,418.73 687.99,419.64 C688.34,420.55 688.70,421.46 689.07,422.36 C689.43,423.27 689.80,424.17 690.18,425.07 C690.55,425.97 690.93,426.87 691.32,427.76 C691.70,428.66 692.10,429.56 692.49,430.46 C692.89,431.37 693.29,432.27 693.70,433.17 C694.10,434.08 694.52,434.99 694.93,435.90 C695.35,436.82 695.77,437.74 696.19,438.66 C696.62,439.59 697.05,440.52 697.49,441.46 C697.92,442.40 698.36,443.35 698.81,444.30 C699.25,445.27 699.70,446.23 700.15,447.20 C700.61,448.18 701.06,449.18 701.53,450.16 C702.00,451.14 702.46,452.13 702.98,453.07 C703.49,453.99 704.00,454.91 704.60,455.74 C705.17,456.55 705.77,457.33 706.46,457.98 C707.13,458.61 707.87,459.18 708.65,459.60 C709.41,460.00 710.25,460.32 711.07,460.47 C711.88,460.61 712.73,460.62 713.54,460.50 C714.35,460.37 715.15,460.06 715.91,459.69 C716.70,459.30 717.46,458.76 718.17,458.18 C718.92,457.57 719.63,456.85 720.30,456.10 C721.00,455.32 721.65,454.47 722.28,453.60 C722.92,452.71 723.52,451.77 724.09,450.83 C724.66,449.88 725.21,448.90 725.72,447.92 C726.23,446.96 726.70,445.99 727.16,445.02 C727.60,444.06 728.02,443.11 728.42,442.15 C728.81,441.20 729.18,440.25 729.54,439.30 C729.89,438.36 730.23,437.42 730.55,436.48 C730.88,435.54 731.19,434.60 731.50,433.65 C731.81,432.71 732.11,431.77 732.41,430.83 C732.71,429.88 733.01,428.94 733.30,427.99 C733.59,427.05 733.88,426.10 734.16,425.15 C734.45,424.20 734.73,423.25 735.00,422.30 C735.28,421.35 735.55,420.39 735.82,419.44 C736.09,418.48 736.35,417.53 736.61,416.57 C736.88,415.62 737.13,414.66 737.39,413.70 C737.64,412.74 737.89,411.78 738.14,410.82 C738.39,409.86 738.63,408.90 738.87,407.93 C739.11,406.97 739.35,406.01 739.58,405.04 C739.82,404.08 740.05,403.11 740.27,402.14 C740.50,401.17 740.73,400.21 740.95,399.24 C741.17,398.27 741.38,397.30 741.60,396.33 C741.81,395.35 742.02,394.38 742.23,393.41 C742.44,392.43 742.65,391.46 742.85,390.49 C743.05,389.51 743.25,388.53 743.45,387.56 C743.64,386.58 743.83,385.60 744.03,384.62 C744.22,383.65 744.40,382.67 744.59,381.69 C744.77,380.71 744.96,379.73 745.13,378.74 C745.31,377.76 745.49,376.78 745.67,375.80 C745.84,374.81 746.01,373.83 746.18,372.84 C746.35,371.86 746.52,370.87 746.68,369.89 C746.84,368.90 747.00,367.92 747.16,366.93 C747.32,365.94 747.48,364.95 747.63,363.97 C747.79,362.98 747.94,361.99 748.09,361.00 C748.24,360.01 748.39,359.02 748.53,358.03 C748.68,357.04 748.82,356.05 748.96,355.05 C749.10,354.06 749.24,353.07 749.38,352.08 C749.52,351.08 749.65,350.09 749.78,349.10 C749.92,348.10 750.05,347.11 750.18,346.11 C750.31,345.12 750.43,344.12 750.56,343.13 C750.69,342.13 750.81,341.14 750.93,340.14 C751.05,339.15 751.17,338.15 751.29,337.15 C751.41,336.16 751.53,335.16 751.64,334.16 C751.76,333.17 751.87,332.17 751.98,331.17 C752.09,330.17 752.20,329.17 752.31,328.18 C752.42,327.18 752.53,326.18 752.64,325.18 C752.74,324.18 752.85,323.18 752.95,322.18 C753.05,321.19 753.15,320.19 753.26,319.19 C753.36,318.19 753.46,317.19 753.55,316.19 C753.65,315.19 753.75,314.19 753.85,313.19 C753.94,312.19 754.04,311.19 754.13,310.19 C754.23,309.19 754.32,308.19 754.41,307.19 C754.50,306.19 754.59,305.19 754.68,304.19 C754.77,303.19 754.86,302.20 754.95,301.20 C755.04,300.20 755.13,299.20 755.22,298.20 C755.30,297.20 755.39,296.20 755.47,295.20 C755.56,294.20 755.64,293.20 755.73,292.20 C755.81,291.21 755.90,290.21 755.98,289.21 C756.06,288.21 756.14,287.21 756.23,286.21 C756.31,285.22 756.39,284.22 756.47,283.22 C756.55,282.22 756.63,281.22 756.71,280.23 C756.79,279.23 756.87,278.23 756.95,277.23 C757.03,276.24 757.10,275.24 757.18,274.24 C757.26,273.25 757.34,272.25 757.41,271.25 C757.49,270.25 757.57,269.26 757.64,268.26 C757.72,267.26 757.79,266.27 757.87,265.27 C757.94,264.28 758.01,263.28 758.09,262.28 C758.16,261.29 758.24,260.29 758.31,259.29 C758.38,258.30 758.45,257.30 758.53,256.30 C758.60,255.31 758.67,254.31 758.74,253.32 C758.81,252.32 758.88,251.32 758.95,250.33 C759.03,249.33 759.10,248.34 759.17,247.34 C759.24,246.34 759.31,245.35 759.38,244.35 C759.44,243.36 759.51,242.36 759.58,241.37 C759.65,240.37 759.72,239.37 759.79,238.38 C759.86,237.38 759.92,236.39 759.99,235.39 C760.06,234.40 760.13,233.40 760.20,232.40 C760.26,231.41 760.33,230.41 760.40,229.42 C760.46,228.42 760.53,227.43 760.60,226.43 C760.66,225.43 760.73,224.44 760.80,223.44 C760.86,222.45 760.93,221.45 761.00,220.46 C761.06,219.46 761.13,218.46 761.19,217.47 C761.26,216.47 761.32,215.48 761.39,214.48 C761.46,213.48 761.52,212.49 761.59,211.49 C761.65,210.49 761.72,209.50 761.78,208.50 C761.85,207.51 761.91,206.51 761.98,205.51 C762.04,204.52 762.11,203.52 762.17,202.52 C762.24,201.53 762.30,200.53 762.37,199.53 C762.43,198.54 762.50,197.54 762.56,196.54 C762.63,195.55 762.69,194.55 762.76,193.55 C762.82,192.55 762.89,191.56 762.95,190.56 C763.02,189.56 763.09,188.56 763.15,187.57 C763.22,186.57 763.28,185.57 763.35,184.57 C763.41,183.58 763.48,182.58 763.55,181.58 C763.61,180.58 763.68,179.58 763.74,178.58 C763.81,177.59 763.88,176.59 763.94,175.59 C764.01,174.59 764.08,173.59 764.14,172.59 C764.21,171.59 764.28,170.59 764.34,169.59 C764.41,168.59 764.48,167.59 764.54,166.60 C764.61,165.60 764.68,164.60 764.75,163.60 C764.81,162.60 764.88,161.60 764.95,160.60 C765.01,159.60 765.08,158.60 765.15,157.60 C765.21,156.60 765.28,155.60 765.35,154.60 C765.42,153.60 765.48,152.60 765.55,151.60 C765.62,150.60 765.68,149.60 765.75,148.60 C765.82,147.60 765.88,146.60 765.95,145.60 C766.01,144.60 766.08,143.60 766.15,142.60 C766.21,141.60 766.28,140.60 766.34,139.60 C766.41,138.60 766.48,137.60 766.54,136.60 C766.61,135.60 766.67,134.60 766.74,133.60 C766.80,132.60 766.86,131.60 766.93,130.60 C766.99,129.60 767.06,128.60 767.12,127.60 C767.18,126.60 767.25,125.60 767.31,124.60 C767.37,123.60 767.43,122.61 767.50,121.61 C767.56,120.61 767.62,119.61 767.68,118.61 C767.74,117.61 767.80,116.61 767.86,115.61 C767.93,114.62 767.99,113.62 768.05,112.62 C768.10,111.62 768.16,110.62 768.22,109.63 C768.28,108.63 768.34,107.63 768.40,106.63 C768.46,105.64 768.51,104.64 768.57,103.64 C768.63,102.65 768.68,101.65 768.74,100.65 C768.79,99.66 768.85,98.66 768.90,97.66 C768.96,96.67 769.01,95.67 769.07,94.67 C769.12,93.68 769.18,92.68 769.23,91.69 C769.28,90.69 769.34,89.69 769.39,88.70 C769.44,87.70 769.50,86.70 769.55,85.71 C769.60,84.71 769.66,83.72 769.71,82.72 C769.76,81.72 769.82,80.73 769.87,79.73 C769.93,78.73 769.98,77.73 770.03,76.74 C770.09,75.74 770.14,74.74 770.20,73.74 C770.25,72.74 770.31,71.75 770.36,70.75 C770.42,69.75 770.47,68.75 770.53,67.75 C770.59,66.75 770.64,65.75 770.70,64.75 C770.76,63.75 770.81,62.74 770.87,61.74 C770.93,60.74 770.99,59.74 771.05,58.73 C771.11,57.73 771.17,56.73 771.24,55.72 C771.30,54.72 771.36,53.71 771.42,52.71 C771.49,51.70 771.55,50.69 771.62,49.69 C771.68,48.68 771.75,47.67 771.81,46.67 C771.88,45.66 771.94,44.66 772.01,43.66 C772.07,42.66 772.13,41.66 772.20,40.66 C772.26,39.66 772.32,38.67 772.38,37.67 C772.44,36.69 772.50,35.70 772.55,34.71 C772.61,33.73 772.66,32.76 772.71,31.78 C772.76,30.81 772.81,29.84 772.85,28.88 C772.90,27.92 772.94,26.96 772.98,26.01 C773.02,25.05 773.06,24.11 773.09,23.16 C773.13,22.21 773.16,21.27 773.19,20.33 C773.23,19.39 773.26,18.46 773.29,17.52 C773.31,16.59 773.34,15.66 773.37,14.73 C773.39,13.80 773.42,12.87 773.44,11.94 C773.47,11.02 773.49,10.09 773.51,9.16 C773.53,8.24 773.56,7.31 773.58,6.39 C773.60,5.46 773.62,4.54 773.64,3.61 C773.66,2.69 773.68,1.76 773.70,0.83 C773.72,-0.10 773.74,-1.02 773.76,-1.96 C773.78,-2.89 773.80,-3.82 773.83,-4.76 C773.85,-5.69 773.87,-6.63 773.89,-7.57 C773.92,-8.52 773.94,-9.46 773.97,-10.41 C773.99,-11.36 774.02,-12.31 774.05,-13.27 C774.08,-14.23 774.10,-15.19 774.14,-16.15 C774.17,-17.12 774.20,-18.09 774.23,-19.07 C774.27,-20.05 774.31,-21.03 774.34,-22.02 C774.38,-23.01 774.42,-24.01 774.47,-25.01 C774.51,-26.01 774.56,-27.02 774.61,-28.04 C774.65,-29.06 774.71,-30.08 774.76,-31.11 C774.81,-32.15 774.87,-33.19 774.93,-34.24 C774.99,-35.29 775.06,-36.35 775.12,-37.41 C775.19,-38.49 775.26,-39.57 775.34,-40.65 C775.41,-41.74 775.49,-42.84 775.57,-43.94 C775.66,-45.06 775.74,-46.18 775.83,-47.30 C775.92,-48.44 776.02,-49.58 776.12,-50.73 C776.22,-51.88 776.32,-53.05 776.43,-54.22 C776.54,-55.41 776.66,-56.60 776.77,-57.79 C776.89,-59.00 777.02,-60.22 777.15,-61.44 C777.28,-62.68 777.41,-63.92 777.55,-65.17 C777.69,-66.43 777.84,-67.69 777.98,-68.96 C778.13,-70.24 778.29,-71.52 778.45,-72.81 C778.61,-74.10 778.77,-75.40 778.94,-76.70 C779.11,-78.01 779.28,-79.32 779.46,-80.63 C779.64,-81.94 779.82,-83.26 780.00,-84.57 C780.19,-85.89 780.38,-87.21 780.57,-88.53 C780.77,-89.85 780.97,-91.17 781.17,-92.49 C781.37,-93.81 781.58,-95.13 781.79,-96.44 C782.00,-97.75 782.21,-99.06 782.43,-100.37 C782.65,-101.67 782.87,-102.97 783.09,-104.26 C783.31,-105.55 783.54,-106.84 783.77,-108.11 C784.00,-109.39 784.24,-110.65 784.48,-111.91 C784.71,-113.16 784.95,-114.41 785.20,-115.65 C785.44,-116.87 785.69,-118.09 785.94,-119.30 C786.18,-120.50 786.44,-121.69 786.69,-122.88 C786.94,-124.04 787.20,-125.20 787.46,-126.35 C787.72,-127.48 787.98,-128.61 788.25,-129.72 C788.51,-130.81 788.78,-131.89 789.05,-132.96 C789.32,-134.01 789.59,-135.05 789.86,-136.08 C790.13,-137.08 790.41,-138.08 790.69,-139.06 C790.96,-140.01 791.24,-140.95 791.52,-141.88 C791.80,-142.78 792.08,-143.67 792.37,-144.54 C792.65,-145.38 792.93,-146.22 793.22,-147.03 C793.50,-147.81 793.79,-148.58 794.08,-149.33 C794.37,-150.05 794.66,-150.76 794.95,-151.44 C795.24,-152.09 795.53,-152.73 795.83,-153.34 C796.11,-153.92 796.41,-154.49 796.71,-155.02 C797.00,-155.53 797.29,-156.02 797.59,-156.48 C797.88,-156.91 798.17,-157.32 798.48,-157.70 C798.77,-158.05 799.06,-158.38 799.37,-158.66 C799.66,-158.93 799.95,-159.18 800.26,-159.37 C800.55,-159.55 800.85,-159.71 801.15,-159.80 C801.44,-159.90 801.75,-159.95 802.04,-159.96 C802.34,-159.96 802.64,-159.91 802.93,-159.82 C803.24,-159.73 803.53,-159.58 803.82,-159.40 C804.13,-159.21 804.42,-158.97 804.70,-158.71 C805.01,-158.43 805.30,-158.10 805.58,-157.76 C805.89,-157.39 806.18,-156.99 806.46,-156.56 C806.76,-156.11 807.05,-155.62 807.33,-155.12 C807.63,-154.59 807.92,-154.03 808.20,-153.46 C808.49,-152.85 808.78,-152.22 809.05,-151.57 C809.35,-150.89 809.63,-150.19 809.91,-149.48 C810.19,-148.74 810.47,-147.97 810.75,-147.19 C811.03,-146.39 811.31,-145.56 811.58,-144.72 C811.86,-143.85 812.14,-142.97 812.41,-142.07 C812.69,-141.15 812.96,-140.21 813.23,-139.26 C813.50,-138.29 813.77,-137.30 814.03,-136.29 C814.30,-135.27 814.56,-134.23 814.82,-133.19 C815.09,-132.12 815.35,-131.04 815.61,-129.95 C815.87,-128.84 816.12,-127.72 816.37,-126.59 C816.63,-125.44 816.88,-124.28 817.13,-123.12 C817.38,-121.93 817.63,-120.74 817.87,-119.55 C818.12,-118.33 818.36,-117.11 818.60,-115.89 C818.84,-114.65 819.08,-113.40 819.31,-112.15 C819.55,-110.88 819.78,-109.61 820.01,-108.34 C820.24,-107.06 820.46,-105.77 820.69,-104.48 C820.91,-103.18 821.13,-101.88 821.35,-100.57 C821.56,-99.26 821.78,-97.94 821.99,-96.62 C822.20,-95.30 822.41,-93.98 822.61,-92.65 C822.82,-91.33 823.02,-90.00 823.22,-88.67 C823.42,-87.34 823.61,-86.01 823.80,-84.68 C823.99,-83.36 824.18,-82.03 824.37,-80.70 C824.55,-79.38 824.73,-78.06 824.91,-76.74 C825.08,-75.43 825.26,-74.12 825.43,-72.81 C825.60,-71.51 825.76,-70.21 825.92,-68.92 C826.08,-67.63 826.24,-66.35 826.40,-65.07 C826.55,-63.81 826.70,-62.54 826.84,-61.29 C826.99,-60.05 827.13,-58.81 827.27,-57.58 C827.40,-56.36 827.54,-55.14 827.67,-53.94 C827.80,-52.74 827.92,-51.55 828.04,-50.37 C828.16,-49.20 828.28,-48.03 828.39,-46.87 C828.51,-45.71 828.62,-44.57 828.73,-43.43 C828.83,-42.30 828.94,-41.17 829.04,-40.05 C829.14,-38.94 829.23,-37.84 829.33,-36.73 C829.42,-35.64 829.51,-34.56 829.60,-33.47 C829.69,-32.40 829.77,-31.33 829.85,-30.27 C829.93,-29.21 830.01,-28.16 830.09,-27.11 C830.17,-26.07 830.24,-25.03 830.31,-24.00 C830.38,-22.97 830.45,-21.95 830.52,-20.93 C830.59,-19.92 830.65,-18.91 830.71,-17.91 C830.78,-16.91 830.84,-15.92 830.89,-14.92 C830.95,-13.94 831.01,-12.96 831.06,-11.98 C831.12,-11.00 831.17,-10.03 831.22,-9.06 C831.27,-8.10 831.32,-7.14 831.37,-6.18 C831.42,-5.22 831.46,-4.27 831.51,-3.32 C831.56,-2.38 831.60,-1.43 831.64,-0.49 C831.68,0.45 831.73,1.38 831.77,2.32 C831.81,3.25 831.85,4.18 831.89,5.10 C831.93,6.03 831.96,6.95 832.00,7.88 C832.04,8.80 832.08,9.72 832.11,10.63 C832.15,11.55 832.18,12.47 832.22,13.38 C832.26,14.29 832.29,15.21 832.33,16.12 C832.36,17.03 832.40,17.94 832.43,18.85 C832.47,19.76 832.50,20.67 832.54,21.58 C832.57,22.49 832.61,23.40 832.64,24.31 C832.68,25.22 832.71,26.14 832.75,27.05 C832.79,27.96 832.83,28.87 832.86,29.79 C832.90,30.70 832.94,31.62 832.98,32.53 C833.02,33.45 833.06,34.37 833.10,35.29 C833.14,36.22 833.18,37.14 833.23,38.06 C833.27,38.99 833.31,39.92 833.36,40.85 C833.41,41.79 833.45,42.73 833.50,43.66 C833.55,44.61 833.60,45.55 833.65,46.50 C833.71,47.45 833.76,48.40 833.81,49.35 C833.87,50.31 833.93,51.28 833.99,52.24 C834.05,53.21 834.11,54.18 834.17,55.16 C834.23,56.14 834.30,57.12 834.37,58.11 C834.43,59.10 834.51,60.09 834.58,61.09 C834.65,62.10 834.73,63.10 834.80,64.11 C834.88,65.12 834.96,66.14 835.04,67.16 C835.12,68.18 835.20,69.20 835.29,70.22 C835.37,71.25 835.46,72.27 835.55,73.30 C835.63,74.33 835.72,75.36 835.81,76.39 C835.91,77.42 836.00,78.45 836.09,79.48 C836.19,80.51 836.28,81.54 836.38,82.57 C836.47,83.60 836.57,84.63 836.67,85.66 C836.77,86.68 836.87,87.71 836.97,88.73 C837.07,89.75 837.17,90.77 837.28,91.79 C837.38,92.81 837.48,93.82 837.59,94.84 C837.69,95.85 837.80,96.87 837.90,97.88 C838.01,98.89 838.12,99.90 838.22,100.91 C838.33,101.92 838.44,102.93 838.55,103.93 C838.66,104.94 838.77,105.94 838.88,106.95 C838.99,107.95 839.10,108.95 839.22,109.96 C839.33,110.96 839.44,111.96 839.55,112.96 C839.67,113.95 839.78,114.95 839.89,115.95 C840.01,116.95 840.12,117.94 840.24,118.94 C840.35,119.93 840.47,120.92 840.58,121.92 C840.70,122.91 840.81,123.90 840.93,124.90 C841.05,125.89 841.16,126.88 841.28,127.87 C841.40,128.86 841.51,129.85 841.63,130.84 C841.75,131.82 841.87,132.81 841.98,133.80 C842.10,134.79 842.22,135.78 842.34,136.76 C842.45,137.75 842.57,138.74 842.69,139.72 C842.81,140.71 842.92,141.70 843.04,142.68 C843.16,143.67 843.28,144.65 843.39,145.64 C843.51,146.62 843.63,147.61 843.74,148.59 C843.86,149.58 843.98,150.56 844.09,151.55 C844.21,152.54 844.33,153.52 844.44,154.51 C844.56,155.49 844.67,156.48 844.79,157.46 C844.90,158.45 845.02,159.44 845.13,160.42 C845.24,161.41 845.36,162.40 845.47,163.38 C845.58,164.37 845.70,165.36 845.81,166.34 C845.92,167.33 846.03,168.32 846.15,169.31 C846.26,170.30 846.37,171.28 846.48,172.27 C846.59,173.26 846.70,174.25 846.81,175.24 C846.92,176.23 847.03,177.22 847.14,178.21 C847.25,179.20 847.36,180.19 847.47,181.18 C847.58,182.17 847.69,183.16 847.80,184.15 C847.91,185.14 848.02,186.13 848.12,187.12 C848.23,188.11 848.34,189.10 848.45,190.10 C848.56,191.09 848.67,192.08 848.77,193.07 C848.88,194.06 848.99,195.06 849.10,196.05 C849.21,197.04 849.31,198.03 849.42,199.02 C849.53,200.02 849.64,201.01 849.75,202.00 C849.86,203.00 849.96,203.99 850.07,204.98 C850.18,205.98 850.29,206.97 850.40,207.96 C850.50,208.96 850.61,209.95 850.72,210.94 C850.83,211.94 850.94,212.93 851.05,213.92 C851.16,214.92 851.27,215.91 851.37,216.91 C851.48,217.90 851.59,218.90 851.70,219.89 C851.81,220.88 851.92,221.88 852.03,222.87 C852.14,223.87 852.25,224.86 852.36,225.86 C852.48,226.85 852.59,227.85 852.70,228.84 C852.81,229.84 852.92,230.83 853.03,231.83 C853.15,232.82 853.26,233.82 853.37,234.81 C853.48,235.81 853.60,236.80 853.71,237.80 C853.82,238.79 853.94,239.79 854.05,240.78 C854.17,241.78 854.28,242.77 854.40,243.77 C854.51,244.76 854.63,245.76 854.75,246.75 C854.86,247.75 854.98,248.74 855.10,249.74 C855.22,250.73 855.34,251.73 855.45,252.72 C855.57,253.72 855.69,254.71 855.81,255.71 C855.93,256.70 856.06,257.70 856.18,258.69 C856.30,259.69 856.42,260.68 856.54,261.68 C856.67,262.67 856.79,263.66 856.92,264.66 C857.04,265.65 857.17,266.65 857.29,267.64 C857.42,268.64 857.54,269.63 857.67,270.63 C857.80,271.62 857.93,272.61 858.06,273.61 C858.19,274.60 858.32,275.60 858.45,276.59 C858.58,277.58 858.71,278.58 858.84,279.57 C858.98,280.56 859.11,281.56 859.25,282.55 C859.38,283.55 859.52,284.54 859.65,285.53 C859.79,286.52 859.93,287.52 860.07,288.51 C860.21,289.50 860.35,290.50 860.49,291.49 C860.63,292.48 860.77,293.47 860.91,294.46 C861.06,295.46 861.20,296.45 861.35,297.44 C861.49,298.43 861.64,299.42 861.79,300.41 C861.93,301.41 862.08,302.40 862.23,303.39 C862.38,304.38 862.53,305.37 862.69,306.36 C862.84,307.35 862.99,308.34 863.15,309.33 C863.30,310.32 863.46,311.31 863.62,312.30 C863.77,313.29 863.93,314.28 864.09,315.27 C864.25,316.25 864.41,317.24 864.58,318.23 C864.74,319.22 864.90,320.21 865.07,321.20 C865.24,322.18 865.40,323.17 865.57,324.16 C865.74,325.15 865.91,326.13 866.08,327.12 C866.25,328.11 866.43,329.09 866.60,330.08 C866.78,331.07 866.95,332.05 867.13,333.04 C867.31,334.02 867.49,335.01 867.67,335.99 C867.85,336.98 868.03,337.96 868.21,338.94 C868.40,339.93 868.58,340.91 868.77,341.90 C868.96,342.88 869.15,343.86 869.34,344.84 C869.53,345.83 869.72,346.81 869.91,347.79 C870.11,348.77 870.30,349.75 870.50,350.74 C870.70,351.72 870.90,352.70 871.10,353.68 C871.30,354.66 871.50,355.64 871.70,356.62 C871.91,357.59 872.11,358.57 872.32,359.55 C872.53,360.53 872.74,361.51 872.95,362.48 C873.16,363.46 873.38,364.44 873.59,365.41 C873.81,366.39 874.03,367.37 874.24,368.34 C874.46,369.32 874.69,370.29 874.91,371.26 C875.13,372.24 875.36,373.21 875.58,374.18 C875.81,375.16 876.04,376.13 876.27,377.10 C876.50,378.07 876.74,379.04 876.97,380.01 C877.21,380.98 877.44,381.95 877.68,382.92 C877.92,383.89 878.16,384.86 878.41,385.83 C878.65,386.80 878.90,387.76 879.14,388.73 C879.39,389.70 879.64,390.66 879.89,391.63 C880.15,392.59 880.40,393.56 880.66,394.52 C880.91,395.49 881.17,396.45 881.43,397.41 C881.69,398.37 881.96,399.33 882.22,400.30 C882.49,401.26 882.75,402.22 883.02,403.18 C883.29,404.13 883.57,405.09 883.84,406.05 C884.12,407.01 884.39,407.97 884.67,408.92 C884.95,409.88 885.23,410.83 885.52,411.79 C885.80,412.74 886.09,413.70 886.38,414.65 C886.67,415.60 886.96,416.55 887.25,417.51 C887.55,418.46 887.85,419.40 888.15,420.35 C888.46,421.30 888.76,422.24 889.08,423.18 C889.40,424.13 889.72,425.07 890.05,426.00 C890.38,426.94 890.72,427.87 891.07,428.80 C891.41,429.73 891.77,430.65 892.14,431.57 C892.50,432.49 892.88,433.41 893.27,434.32 C893.66,435.23 894.06,436.14 894.47,437.03 C894.88,437.93 895.31,438.83 895.75,439.72 C896.19,440.60 896.64,441.49 897.11,442.36 C897.58,443.23 898.07,444.10 898.57,444.96 C899.07,445.82 899.59,446.68 900.13,447.52 C900.67,448.36 901.22,449.20 901.79,450.03 C902.37,450.86 902.96,451.68 903.56,452.49 C904.17,453.30 904.79,454.10 905.42,454.89 C906.05,455.69 906.70,456.47 907.36,457.25 C908.03,458.03 908.70,458.79 909.38,459.55 C910.07,460.31 910.76,461.06 911.47,461.80 C912.17,462.54 912.89,463.27 913.61,464.00 C914.33,464.72 915.06,465.43 915.80,466.14 C916.53,466.84 917.27,467.53 918.02,468.22 C918.77,468.90 919.52,469.58 920.27,470.25 C921.03,470.91 921.78,471.57 922.55,472.21 C923.31,472.86 924.07,473.50 924.84,474.12 C925.60,474.74 926.37,475.35 927.15,475.95 C927.92,476.55 928.71,477.13 929.50,477.69 C930.29,478.26 931.09,478.81 931.90,479.34 C932.71,479.86 933.53,480.37 934.37,480.86 C935.20,481.35 936.04,481.82 936.90,482.26 C937.76,482.70 938.64,483.12 939.53,483.51 C940.42,483.90 941.33,484.27 942.25,484.61 C943.18,484.95 944.12,485.26 945.08,485.53 C946.05,485.81 947.04,486.06 948.04,486.28 C949.05,486.49 950.08,486.68 951.11,486.82 C952.16,486.97 953.21,487.08 954.27,487.15 C955.32,487.22 956.39,487.25 957.45,487.24 C958.51,487.23 959.57,487.19 960.61,487.09 C961.65,486.99 962.69,486.86 963.71,486.67 C964.71,486.48 965.71,486.25 966.68,485.96 C967.64,485.67 968.59,485.34 969.49,484.95 C970.39,484.56 971.27,484.11 972.11,483.63 C972.95,483.14 973.76,482.61 974.54,482.04 C975.33,481.47 976.08,480.85 976.81,480.22 C977.55,479.58 978.26,478.90 978.95,478.21 C979.65,477.51 980.31,476.78 980.97,476.04 C981.63,475.30 982.27,474.54 982.90,473.77 C983.53,473.00 984.15,472.22 984.76,471.43 C985.37,470.64 985.98,469.85 986.57,469.05 C987.16,468.25 987.75,467.44 988.33,466.63 C988.91,465.82 989.48,465.00 990.04,464.18 C990.60,463.36 991.16,462.53 991.70,461.70 C992.25,460.87 992.79,460.03 993.33,459.19 C993.86,458.34 994.39,457.50 994.91,456.65 C995.43,455.80 995.95,454.94 996.45,454.08 C996.96,453.22 997.47,452.36 997.96,451.50 C998.46,450.63 998.95,449.76 999.44,448.89 C999.92,448.01 1000.40,447.13 1000.88,446.26 C1001.36,445.38 1001.83,444.49 1002.29,443.61 C1002.76,442.72 1003.22,441.83 1003.68,440.94 C1004.14,440.05 1004.59,439.16 1005.04,438.27 C1005.49,437.37 1005.94,436.47 1006.38,435.58 C1006.82,434.68 1007.26,433.78 1007.70,432.88 C1008.14,431.97 1008.57,431.07 1009.00,430.17 C1009.43,429.26 1009.85,428.35 1010.28,427.45 C1010.70,426.54 1011.12,425.63 1011.54,424.72 C1011.96,423.81 1012.37,422.90 1012.78,421.98 C1013.19,421.07 1013.60,420.15 1014.01,419.24 C1014.41,418.32 1014.81,417.40 1015.21,416.48 C1015.61,415.57 1016.01,414.65 1016.40,413.72 C1016.80,412.80 1017.19,411.88 1017.58,410.96 C1017.96,410.03 1018.35,409.11 1018.73,408.18 C1019.11,407.25 1019.50,406.33 1019.87,405.40 C1020.25,404.47 1020.63,403.54 1021.00,402.61 C1021.37,401.68 1021.74,400.74 1022.11,399.81 C1022.47,398.88 1022.84,397.94 1023.20,397.01 C1023.56,396.07 1023.92,395.14 1024.28,394.20 C1024.64,393.26 1025.00,392.33 1025.35,391.39 C1025.70,390.45 1026.05,389.51 1026.40,388.57 C1026.75,387.63 1027.10,386.69 1027.44,385.74 C1027.78,384.80 1028.13,383.86 1028.47,382.92 C1028.81,381.97 1029.14,381.03 1029.48,380.08 C1029.82,379.14 1030.15,378.19 1030.48,377.24 C1030.81,376.30 1031.14,375.35 1031.47,374.40 C1031.80,373.45 1032.13,372.51 1032.45,371.56 C1032.78,370.61 1033.10,369.66 1033.42,368.71 C1033.74,367.76 1034.06,366.81 1034.38,365.85 C1034.69,364.90 1035.01,363.95 1035.32,363.00 C1035.64,362.05 1035.95,361.09 1036.26,360.14 C1036.57,359.19 1036.88,358.23 1037.19,357.28 C1037.50,356.33 1037.80,355.37 1038.11,354.42 C1038.41,353.46 1038.72,352.51 1039.02,351.55 C1039.32,350.60 1039.62,349.64 1039.92,348.68 C1040.22,347.73 1040.52,346.77 1040.81,345.82 C1041.11,344.86 1041.41,343.90 1041.70,342.95 C1041.99,341.99 1042.29,341.03 1042.58,340.08 C1042.87,339.12 1043.16,338.16 1043.45,337.21 C1043.74,336.25 1044.03,335.29 1044.32,334.34 C1044.61,333.38 1044.89,332.42 1045.18,331.47 C1045.47,330.51 1045.75,329.55 1046.04,328.60 C1046.32,327.64 1046.60,326.68 1046.89,325.73 C1047.17,324.77 1047.45,323.81 1047.73,322.86 C1048.01,321.90 1048.29,320.94 1048.57,319.99 C1048.85,319.03 1049.13,318.08 1049.41,317.12 C1049.69,316.16 1049.97,315.21 1050.24,314.25 C1050.52,313.30 1050.80,312.34 1051.08,311.39 C1051.35,310.43 1051.63,309.48 1051.91,308.52 C1052.18,307.57 1052.46,306.61 1052.73,305.66 C1053.01,304.70 1053.29,303.75 1053.56,302.79 C1053.84,301.84 1054.11,300.89 1054.39,299.93 C1054.66,298.98 1054.94,298.02 1055.21,297.07 C1055.49,296.12 1055.77,295.16 1056.04,294.21 C1056.32,293.26 1056.59,292.30 1056.87,291.35 C1057.15,290.40 1057.42,289.45 1057.70,288.49 C1057.98,287.54 1058.26,286.59 1058.53,285.63 C1058.81,284.68 1059.09,283.73 1059.37,282.78 C1059.65,281.83 1059.93,280.87 1060.21,279.92 C1060.49,278.97 1060.77,278.02 1061.05,277.07 C1061.33,276.12 1061.61,275.17 1061.90,274.21 C1062.18,273.26 1062.46,272.31 1062.75,271.36 C1063.03,270.41 1063.32,269.46 1063.61,268.51 C1063.89,267.56 1064.18,266.61 1064.47,265.66 C1064.76,264.71 1065.05,263.76 1065.34,262.81 C1065.63,261.86 1065.92,260.91 1066.22,259.96 C1066.51,259.01 1066.81,258.06 1067.10,257.11 C1067.40,256.17 1067.70,255.22 1068.00,254.27 C1068.29,253.32 1068.59,252.37 1068.90,251.42 C1069.20,250.47 1069.50,249.53 1069.81,248.58 C1070.11,247.63 1070.42,246.68 1070.73,245.74 C1071.04,244.79 1071.35,243.84 1071.66,242.89 C1071.97,241.95 1072.28,241.00 1072.60,240.05 C1072.92,239.11 1073.23,238.16 1073.55,237.21 C1073.87,236.27 1074.20,235.32 1074.52,234.38 C1074.84,233.43 1075.17,232.48 1075.50,231.54 C1075.82,230.59 1076.15,229.65 1076.49,228.70 C1076.82,227.76 1077.15,226.81 1077.49,225.87 C1077.83,224.92 1078.17,223.98 1078.51,223.03 C1078.85,222.09 1079.20,221.14 1079.54,220.20 C1079.89,219.26 1080.24,218.31 1080.59,217.37 C1080.94,216.43 1081.30,215.48 1081.65,214.54 C1082.01,213.60 1082.37,212.65 1082.73,211.71 C1083.10,210.77 1083.46,209.82 1083.83,208.88 C1084.20,207.94 1084.57,207.00 1084.94,206.06 C1085.32,205.11 1085.70,204.17 1086.08,203.23 C1086.46,202.29 1086.84,201.35 1087.23,200.41 C1087.61,199.47 1088.00,198.53 1088.40,197.59 C1088.79,196.64 1089.18,195.70 1089.58,194.76 C1089.98,193.82 1090.39,192.88 1090.79,191.94 C1091.20,191.00 1091.61,190.06 1092.02,189.13 C1092.43,188.19 1092.85,187.25 1093.27,186.31 C1093.69,185.37 1094.12,184.43 1094.54,183.49 C1094.97,182.55 1095.40,181.61 1095.84,180.68 C1096.27,179.74 1096.71,178.81 1097.16,177.87 C1097.61,176.94 1098.06,176.02 1098.52,175.09 C1098.98,174.18 1099.45,173.26 1099.93,172.35 C1100.41,171.45 1100.89,170.55 1101.39,169.67 C1101.89,168.78 1102.40,167.91 1102.93,167.05 C1103.45,166.19 1103.98,165.34 1104.54,164.51 C1105.09,163.68 1105.65,162.87 1106.23,162.07 C1106.81,161.28 1107.41,160.50 1108.02,159.74 C1108.64,158.99 1109.27,158.25 1109.92,157.54 C1110.57,156.83 1111.24,156.14 1111.94,155.48 C1112.63,154.82 1113.34,154.18 1114.07,153.57 C1114.81,152.97 1115.57,152.39 1116.35,151.84 C1117.13,151.29 1117.94,150.77 1118.77,150.29 C1119.60,149.80 1120.46,149.35 1121.34,148.93 C1122.22,148.51 1123.12,148.13 1124.03,147.78 C1124.95,147.43 1125.89,147.12 1126.83,146.84 C1127.78,146.56 1128.74,146.32 1129.71,146.12 C1130.68,145.91 1131.65,145.75 1132.63,145.62 C1133.61,145.49 1134.60,145.40 1135.59,145.35 C1136.57,145.30 1137.56,145.28 1138.54,145.31 C1139.51,145.34 1140.49,145.40 1141.46,145.51 C1142.42,145.62 1143.39,145.77 1144.33,145.97 C1145.27,146.16 1146.21,146.39 1147.13,146.67 C1148.04,146.95 1148.94,147.27 1149.82,147.63 C1150.70,147.99 1151.56,148.40 1152.41,148.84 C1153.26,149.27 1154.09,149.75 1154.90,150.26 C1155.72,150.77 1156.52,151.32 1157.30,151.89 C1158.09,152.47 1158.86,153.08 1159.62,153.71 C1160.38,154.34 1161.12,155.01 1161.85,155.69 C1162.58,156.37 1163.30,157.09 1164.00,157.81 C1164.71,158.55 1165.41,159.30 1166.09,160.07 C1166.77,160.84 1167.44,161.63 1168.10,162.43 C1168.77,163.23 1169.42,164.05 1170.06,164.88 C1170.70,165.70 1171.33,166.55 1171.95,167.39 C1172.58,168.24 1173.19,169.10 1173.80,169.96 C1174.40,170.82 1175.00,171.69 1175.59,172.56 C1176.19,173.42 1176.77,174.29 1177.35,175.16 C1177.93,176.03 1178.50,176.90 1179.07,177.77 C1179.63,178.64 1180.19,179.50 1180.75,180.37 C1181.30,181.24 1181.85,182.10 1182.40,182.97 C1182.94,183.84 1183.48,184.70 1184.01,185.57 C1184.55,186.43 1185.07,187.30 1185.60,188.16 C1186.12,189.03 1186.64,189.89 1187.15,190.76 C1187.67,191.62 1188.18,192.49 1188.68,193.35 C1189.19,194.22 1189.69,195.08 1190.19,195.95 C1190.68,196.81 1191.18,197.68 1191.67,198.55 C1192.15,199.41 1192.64,200.28 1193.12,201.14 C1193.60,202.01 1194.08,202.88 1194.56,203.74 C1195.04,204.61 1195.51,205.48 1195.98,206.35 C1196.45,207.22 1196.91,208.08 1197.38,208.95 C1197.84,209.82 1198.31,210.69 1198.77,211.57 C1199.23,212.44 1199.68,213.31 1200.14,214.18 C1200.59,215.05 1201.05,215.93 1201.50,216.80 C1201.95,217.68 1202.40,218.55 1202.85,219.43 C1203.30,220.31 1203.75,221.19 1204.19,222.06 C1204.64,222.94 1205.09,223.82 1205.53,224.70 C1205.97,225.59 1206.42,226.47 1206.86,227.35 C1207.30,228.24 1207.74,229.12 1208.18,230.00 C1208.62,230.89 1209.05,231.78 1209.49,232.66 C1209.92,233.55 1210.36,234.44 1210.79,235.33 C1211.23,236.22 1211.66,237.11 1212.09,238.00 C1212.52,238.90 1212.95,239.79 1213.38,240.68 C1213.81,241.58 1214.23,242.47 1214.66,243.37 C1215.09,244.26 1215.51,245.16 1215.93,246.06 C1216.36,246.95 1216.78,247.85 1217.20,248.75 C1217.62,249.65 1218.04,250.55 1218.46,251.45 C1218.88,252.36 1219.29,253.26 1219.71,254.16 C1220.13,255.07 1220.54,255.97 1220.95,256.88 C1221.37,257.78 1221.78,258.69 1222.19,259.59 C1222.60,260.50 1223.01,261.41 1223.42,262.32 C1223.83,263.23 1224.24,264.14 1224.65,265.05 C1225.05,265.96 1225.46,266.87 1225.86,267.78 C1226.27,268.70 1226.67,269.61 1227.07,270.52 C1227.47,271.44 1227.87,272.35 1228.27,273.27 C1228.67,274.19 1229.07,275.10 1229.47,276.02 C1229.86,276.94 1230.26,277.86 1230.65,278.77 C1231.05,279.69 1231.44,280.61 1231.84,281.53 C1232.23,282.46 1232.62,283.38 1233.01,284.30 C1233.40,285.22 1233.79,286.15 1234.18,287.07 C1234.57,287.99 1234.95,288.92 1235.34,289.84 C1235.73,290.77 1236.11,291.69 1236.49,292.62 C1236.88,293.55 1237.26,294.48 1237.64,295.40 C1238.02,296.33 1238.41,297.26 1238.78,298.19 C1239.16,299.12 1239.54,300.05 1239.92,300.98 C1240.30,301.91 1240.67,302.85 1241.05,303.78 C1241.42,304.71 1241.80,305.64 1242.17,306.58 C1242.54,307.51 1242.92,308.45 1243.29,309.38 C1243.66,310.32 1244.03,311.25 1244.40,312.19 C1244.77,313.13 1245.13,314.06 1245.50,315.00 C1245.87,315.94 1246.23,316.88 1246.60,317.82 C1246.96,318.76 1247.33,319.69 1247.69,320.63 C1248.05,321.58 1248.41,322.52 1248.78,323.46 C1249.14,324.40 1249.50,325.34 1249.85,326.28 C1250.21,327.23 1250.57,328.17 1250.93,329.11 C1251.29,330.06 1251.64,331.00 1252.00,331.94 C1252.35,332.89 1252.71,333.83 1253.06,334.78 C1253.41,335.72 1253.77,336.67 1254.12,337.62 C1254.47,338.56 1254.83,339.51 1255.18,340.45 C1255.53,341.40 1255.89,342.34 1256.24,343.29 C1256.60,344.23 1256.95,345.18 1257.31,346.12 C1257.66,347.06 1258.02,348.01 1258.38,348.95 C1258.74,349.89 1259.09,350.83 1259.46,351.77 C1259.82,352.71 1260.18,353.65 1260.55,354.59 C1260.91,355.52 1261.28,356.46 1261.65,357.39 C1262.02,358.33 1262.39,359.26 1262.76,360.19 C1263.14,361.12 1263.52,362.05 1263.90,362.98 C1264.28,363.91 1264.66,364.83 1265.05,365.75 C1265.44,366.68 1265.83,367.60 1266.22,368.51 C1266.62,369.43 1267.01,370.35 1267.42,371.26 C1267.82,372.17 1268.23,373.08 1268.64,373.99 C1269.05,374.90 1269.47,375.80 1269.89,376.70 C1270.31,377.61 1270.73,378.50 1271.16,379.40 C1271.60,380.29 1272.03,381.18 1272.47,382.07 C1272.92,382.96 1273.36,383.84 1273.82,384.72 C1274.27,385.60 1274.73,386.48 1275.20,387.35 C1275.66,388.23 1276.14,389.09 1276.61,389.96 C1277.09,390.82 1277.58,391.68 1278.07,392.54 C1278.57,393.39 1279.07,394.24 1279.57,395.09 C1280.08,395.94 1280.60,396.78 1281.12,397.61 C1281.64,398.45 1282.17,399.28 1282.71,400.11 C1283.25,400.93 1283.80,401.75 1284.35,402.57 C1284.91,403.39 1285.47,404.20 1286.04,405.00 C1286.62,405.81 1287.20,406.60 1287.79,407.40 C1288.38,408.19 1288.98,408.98 1289.59,409.76 C1290.20,410.54 1290.82,411.32 1291.45,412.09 C1292.07,412.85 1292.71,413.62 1293.36,414.37 C1294.01,415.13 1294.67,415.88 1295.34,416.62 C1296.01,417.36 1296.69,418.10 1297.38,418.83 C1298.08,419.56 1298.78,420.28 1299.49,421.00 C1300.21,421.71 1300.93,422.42 1301.67,423.12 C1302.41,423.82 1303.16,424.51 1303.92,425.18 C1304.69,425.84 1305.46,426.50 1306.26,427.11 C1307.06,427.73 1307.87,428.32 1308.71,428.87 C1309.54,429.41 1310.39,429.93 1311.26,430.38 C1312.14,430.83 1313.03,431.25 1313.95,431.59 C1314.88,431.93 1315.82,432.21 1316.79,432.43 C1317.76,432.65 1318.76,432.79 1319.77,432.89 C1320.78,432.99 1321.82,433.02 1322.85,433.03 C1323.89,433.04 1324.94,432.99 1325.99,432.94 C1327.04,432.88 1328.10,432.79 1329.15,432.69 C1330.20,432.60 1331.24,432.49 1332.28,432.39 C1333.31,432.29 1334.33,432.18 1335.35,432.09 C1336.35,431.99 1337.35,431.90 1338.35,431.82 C1339.34,431.74 1340.33,431.66 1341.32,431.60 C1342.30,431.53 1343.28,431.48 1344.25,431.43 C1345.23,431.39 1346.20,431.36 1347.18,431.34 C1348.15,431.33 1349.13,431.32 1350.10,431.34 C1351.08,431.35 1352.06,431.38 1353.05,431.43 C1354.04,431.48 1355.03,431.55 1356.02,431.64 C1357.03,431.73 1358.04,431.85 1359.05,431.97 C1360.07,432.10 1361.10,432.26 1362.13,432.41 C1363.16,432.57 1364.19,432.74 1365.23,432.88 C1366.27,433.03 1367.30,433.18 1368.34,433.30 C1369.37,433.41 1370.40,433.52 1371.43,433.57 C1372.44,433.63 1373.46,433.66 1374.46,433.63 C1375.46,433.59 1376.45,433.52 1377.44,433.39 C1378.41,433.26 1379.38,433.08 1380.33,432.86 C1381.28,432.64 1382.22,432.37 1383.14,432.06 C1384.07,431.76 1384.98,431.41 1385.87,431.02 C1386.77,430.63 1387.65,430.20 1388.51,429.75 C1389.38,429.29 1390.23,428.79 1391.06,428.26 C1391.89,427.74 1392.71,427.17 1393.51,426.59 C1394.31,426.00 1395.09,425.38 1395.86,424.75 C1396.62,424.11 1397.37,423.44 1398.10,422.75 C1398.83,422.06 1399.54,421.35 1400.23,420.63 C1400.92,419.90 1401.60,419.15 1402.25,418.39 C1402.90,417.63 1403.54,416.85 1404.15,416.06 C1404.76,415.28 1405.36,414.47 1405.93,413.66 C1406.51,412.85 1407.07,412.02 1407.61,411.19 C1408.15,410.36 1408.67,409.51 1409.18,408.66 C1409.69,407.80 1410.18,406.94 1410.66,406.06 C1411.14,405.19 1411.60,404.31 1412.05,403.42 C1412.50,402.53 1412.94,401.64 1413.37,400.74 C1413.80,399.83 1414.21,398.92 1414.62,398.01 C1415.03,397.10 1415.43,396.18 1415.82,395.25 C1416.21,394.33 1416.59,393.40 1416.96,392.47 C1417.34,391.54 1417.70,390.60 1418.07,389.66 C1418.43,388.73 1418.79,387.79 1419.14,386.85 C1419.50,385.90 1419.85,384.96 1420.19,384.02 C1420.54,383.07 1420.88,382.13 1421.22,381.19 C1421.57,380.24 1421.90,379.29 1422.24,378.35 C1422.57,377.40 1422.91,376.45 1423.24,375.50 C1423.57,374.56 1423.89,373.61 1424.22,372.66 C1424.54,371.71 1424.86,370.76 1425.18,369.81 C1425.50,368.85 1425.81,367.90 1426.13,366.95 C1426.44,366.00 1426.75,365.04 1427.06,364.09 C1427.36,363.13 1427.67,362.18 1427.97,361.22 C1428.27,360.27 1428.57,359.31 1428.87,358.35 C1429.16,357.40 1429.46,356.44 1429.75,355.48 C1430.04,354.52 1430.33,353.56 1430.62,352.60 C1430.90,351.64 1431.19,350.68 1431.47,349.72 C1431.75,348.76 1432.03,347.80 1432.31,346.84 C1432.59,345.88 1432.86,344.91 1433.13,343.95 C1433.41,342.99 1433.68,342.03 1433.94,341.06 C1434.21,340.10 1434.48,339.13 1434.74,338.17 C1435.00,337.20 1435.26,336.24 1435.52,335.27 C1435.78,334.30 1436.04,333.34 1436.29,332.37 C1436.55,331.40 1436.80,330.44 1437.05,329.47 C1437.30,328.50 1437.55,327.53 1437.79,326.56 C1438.04,325.59 1438.28,324.62 1438.53,323.65 C1438.77,322.68 1439.01,321.71 1439.25,320.74 C1439.48,319.77 1439.72,318.80 1439.96,317.83 C1440.19,316.86 1440.42,315.89 1440.65,314.92 C1440.88,313.94 1441.11,312.97 1441.34,312.00 C1441.57,311.03 1441.79,310.05 1442.01,309.08 C1442.24,308.11 1442.46,307.13 1442.68,306.16 C1442.90,305.19 1443.12,304.21 1443.33,303.24 C1443.55,302.26 1443.76,301.29 1443.98,300.31 C1444.19,299.34 1444.40,298.36 1444.61,297.38 C1444.82,296.41 1445.03,295.43 1445.23,294.46 C1445.44,293.48 1445.64,292.50 1445.84,291.52 C1446.05,290.55 1446.25,289.57 1446.45,288.59 C1446.65,287.61 1446.85,286.63 1447.04,285.66 C1447.24,284.68 1447.43,283.70 1447.63,282.72 C1447.82,281.74 1448.01,280.76 1448.20,279.78 C1448.39,278.80 1448.58,277.82 1448.77,276.84 C1448.96,275.86 1449.14,274.88 1449.33,273.90 C1449.51,272.92 1449.70,271.94 1449.88,270.96 C1450.06,269.97 1450.24,268.99 1450.42,268.01 C1450.60,267.03 1450.78,266.05 1450.95,265.06 C1451.13,264.08 1451.30,263.10 1451.48,262.11 C1451.65,261.13 1451.82,260.15 1451.99,259.16 C1452.17,258.18 1452.34,257.20 1452.50,256.21 C1452.67,255.23 1452.84,254.24 1453.01,253.26 C1453.17,252.28 1453.34,251.29 1453.50,250.31 C1453.67,249.32 1453.83,248.33 1453.99,247.35 C1454.15,246.36 1454.32,245.38 1454.47,244.39 C1454.63,243.41 1454.79,242.42 1454.95,241.43 C1455.11,240.45 1455.26,239.46 1455.42,238.47 C1455.58,237.49 1455.73,236.50 1455.88,235.51 C1456.04,234.53 1456.19,233.54 1456.34,232.55 C1456.49,231.56 1456.64,230.57 1456.79,229.59 C1456.94,228.60 1457.09,227.61 1457.24,226.62 C1457.39,225.63 1457.53,224.64 1457.68,223.66 C1457.82,222.67 1457.97,221.68 1458.11,220.69 C1458.26,219.70 1458.40,218.71 1458.55,217.72 C1458.69,216.73 1458.83,215.74 1458.97,214.75 C1459.11,213.76 1459.25,212.77 1459.39,211.78 C1459.53,210.79 1459.67,209.80 1459.81,208.81 C1459.95,207.82 1460.09,206.83 1460.22,205.84 C1460.36,204.85 1460.50,203.86 1460.63,202.87 C1460.77,201.87 1460.90,200.88 1461.04,199.89 C1461.17,198.90 1461.30,197.91 1461.44,196.92 C1461.57,195.93 1461.70,194.93 1461.84,193.94 C1461.97,192.95 1462.10,191.96 1462.23,190.97 C1462.36,189.97 1462.49,188.98 1462.62,187.99 C1462.75,187.00 1462.88,186.00 1463.01,185.01 C1463.14,184.02 1463.27,183.03 1463.40,182.03 C1463.53,181.04 1463.66,180.05 1463.78,179.05 C1463.91,178.06 1464.04,177.07 1464.17,176.08 C1464.29,175.08 1464.42,174.09 1464.55,173.10 C1464.67,172.10 1464.80,171.11 1464.92,170.12 C1465.05,169.12 1465.17,168.13 1465.30,167.13 C1465.43,166.14 1465.55,165.15 1465.68,164.15 C1465.80,163.16 1465.93,162.17 1466.05,161.17 C1466.17,160.18 1466.30,159.18 1466.42,158.19 C1466.55,157.20 1466.67,156.20 1466.79,155.21 C1466.92,154.21 1467.04,153.22 1467.17,152.22 C1467.29,151.23 1467.41,150.24 1467.54,149.24 C1467.66,148.25 1467.78,147.25 1467.91,146.26 C1468.03,145.26 1468.16,144.27 1468.28,143.27 C1468.40,142.28 1468.53,141.29 1468.65,140.29 C1468.77,139.30 1468.90,138.30 1469.02,137.31 C1469.15,136.31 1469.27,135.32 1469.39,134.32 C1469.52,133.33 1469.64,132.33 1469.77,131.34 C1469.89,130.35 1470.02,129.35 1470.14,128.36 C1470.26,127.36 1470.39,126.37 1470.52,125.37 C1470.64,124.38 1470.77,123.38 1470.89,122.39 C1471.02,121.39 1471.14,120.40 1471.27,119.41 C1471.40,118.41 1471.52,117.42 1471.65,116.42 C1471.78,115.43 1471.90,114.43 1472.03,113.44 C1472.16,112.44 1472.28,111.45 1472.41,110.45 C1472.54,109.46 1472.67,108.47 1472.80,107.47 C1472.93,106.48 1473.06,105.48 1473.19,104.49 C1473.32,103.50 1473.45,102.50 1473.58,101.51 C1473.71,100.51 1473.84,99.52 1473.97,98.52 C1474.10,97.53 1474.24,96.54 1474.37,95.54 C1474.50,94.55 1474.64,93.56 1474.77,92.56 C1474.90,91.57 1475.04,90.57 1475.17,89.58 C1475.31,88.59 1475.44,87.59 1475.58,86.60 C1475.72,85.61 1475.85,84.61 1475.99,83.62 C1476.13,82.63 1476.27,81.63 1476.41,80.64 C1476.55,79.65 1476.69,78.65 1476.83,77.66 C1476.97,76.67 1477.11,75.68 1477.25,74.68 C1477.39,73.69 1477.54,72.70 1477.68,71.71 C1477.82,70.72 1477.96,69.72 1478.11,68.73 C1478.25,67.74 1478.39,66.75 1478.53,65.76 C1478.67,64.77 1478.82,63.78 1478.96,62.79 C1479.10,61.80 1479.24,60.82 1479.38,59.83 C1479.52,58.84 1479.66,57.85 1479.79,56.87 C1479.93,55.88 1480.07,54.90 1480.20,53.91 C1480.34,52.93 1480.47,51.95 1480.60,50.97 C1480.74,49.98 1480.87,49.00 1481.00,48.02 C1481.12,47.05 1481.25,46.07 1481.38,45.09 C1481.50,44.11 1481.62,43.14 1481.74,42.16 C1481.86,41.19 1481.98,40.22 1482.09,39.25 C1482.21,38.28 1482.32,37.31 1482.43,36.34 C1482.54,35.37 1482.64,34.41 1482.75,33.44 C1482.85,32.48 1482.95,31.51 1483.05,30.55 C1483.14,29.59 1483.24,28.63 1483.33,27.67 C1483.42,26.72 1483.51,25.76 1483.59,24.80 C1483.68,23.85 1483.77,22.89 1483.85,21.93 C1483.93,20.98 1484.01,20.02 1484.10,19.07 C1484.18,18.11 1484.26,17.15 1484.34,16.19 C1484.42,15.24 1484.50,14.28 1484.58,13.32 C1484.66,12.35 1484.75,11.39 1484.83,10.43 C1484.91,9.46 1485.00,8.50 1485.08,7.53 C1485.17,6.56 1485.26,5.59 1485.35,4.61 C1485.44,3.64 1485.53,2.66 1485.62,1.68 C1485.72,0.70 1485.81,-0.29 1485.92,-1.27 C1486.02,-2.27 1486.12,-3.26 1486.23,-4.26 C1486.34,-5.26 1486.45,-6.26 1486.57,-7.26 C1486.69,-8.27 1486.81,-9.29 1486.94,-10.30 C1487.07,-11.33 1487.20,-12.35 1487.34,-13.38 C1487.47,-14.41 1487.62,-15.45 1487.77,-16.49 C1487.92,-17.54 1488.08,-18.59 1488.24,-19.64 C1488.41,-20.70 1488.58,-21.77 1488.76,-22.84 C1488.94,-23.91 1489.12,-24.99 1489.32,-26.08 C1489.51,-27.17 1489.71,-28.27 1489.93,-29.37 C1490.14,-30.48 1490.36,-31.60 1490.59,-32.72 C1490.82,-33.84 1491.06,-34.98 1491.30,-36.11 C1491.55,-37.25 1491.80,-38.40 1492.07,-39.55 C1492.33,-40.70 1492.60,-41.86 1492.88,-43.02 C1493.16,-44.19 1493.45,-45.36 1493.75,-46.53 C1494.04,-47.71 1494.35,-48.89 1494.66,-50.07 C1494.97,-51.25 1495.29,-52.44 1495.61,-53.62 C1495.94,-54.81 1496.28,-56.00 1496.62,-57.20 C1496.96,-58.39 1497.31,-59.59 1497.66,-60.78 C1498.02,-61.98 1498.38,-63.17 1498.75,-64.37 C1499.12,-65.56 1499.50,-66.76 1499.88,-67.95 C1500.26,-69.15 1500.65,-70.34 1501.05,-71.54 C1501.45,-72.73 1501.85,-73.92 1502.26,-75.10 C1502.67,-76.29 1503.08,-77.48 1503.50,-78.66 C1503.93,-79.84 1504.35,-81.01 1504.79,-82.19 C1505.22,-83.36 1505.66,-84.52 1506.10,-85.69 C1506.55,-86.85 1507.00,-88.00 1507.45,-89.15 C1507.91,-90.30 1508.37,-91.44 1508.84,-92.58 C1509.30,-93.71 1509.77,-94.84 1510.25,-95.96 C1510.73,-97.08 1511.21,-98.19 1511.69,-99.29 C1512.18,-100.39 1512.67,-101.49 1513.17,-102.57 C1513.66,-103.65 1514.16,-104.72 1514.67,-105.78 C1515.17,-106.84 1515.68,-107.89 1516.19,-108.93 C1516.70,-109.96 1517.22,-110.99 1517.74,-112.00 C1518.26,-113.01 1518.78,-114.01 1519.32,-115.00 C1519.84,-115.98 1520.37,-116.95 1520.91,-117.91 C1521.44,-118.86 1521.98,-119.80 1522.53,-120.73 C1523.07,-121.65 1523.61,-122.56 1524.17,-123.46 C1524.71,-124.35 1525.26,-125.22 1525.82,-126.09 C1526.37,-126.94 1526.93,-127.78 1527.49,-128.61 C1528.05,-129.42 1528.61,-130.23 1529.18,-131.02 C1529.75,-131.80 1530.31,-132.56 1530.89,-133.31 C1531.45,-134.05 1532.03,-134.77 1532.60,-135.48 C1533.17,-136.17 1533.75,-136.86 1534.33,-137.52 C1534.91,-138.17 1535.49,-138.81 1536.07,-139.43 C1536.65,-140.03 1537.23,-140.63 1537.83,-141.20 C1538.40,-141.76 1538.99,-142.30 1539.58,-142.82 C1540.17,-143.33 1540.75,-143.82 1541.35,-144.29 C1541.93,-144.75 1542.52,-145.19 1543.12,-145.61 C1543.71,-146.02 1544.30,-146.40 1544.90,-146.76 C1545.49,-147.12 1546.08,-147.45 1546.68,-147.75 C1547.27,-148.05 1547.86,-148.32 1548.46,-148.57 C1549.05,-148.81 1549.64,-149.02 1550.24,-149.21 C1550.83,-149.39 1551.43,-149.54 1552.03,-149.66 C1552.62,-149.78 1553.21,-149.87 1553.81,-149.92 C1554.40,-149.98 1554.99,-150.00 1555.59,-149.99 C1556.18,-149.98 1556.77,-149.94 1557.36,-149.87 C1557.95,-149.79 1558.54,-149.69 1559.13,-149.55 C1559.72,-149.41 1560.31,-149.24 1560.89,-149.05 C1561.49,-148.85 1562.07,-148.62 1562.65,-148.36 C1563.24,-148.10 1563.82,-147.81 1564.40,-147.50 C1564.99,-147.18 1565.57,-146.84 1566.14,-146.47 C1566.73,-146.10 1567.30,-145.70 1567.87,-145.28 C1568.46,-144.85 1569.03,-144.39 1569.60,-143.92 C1570.17,-143.44 1570.74,-142.94 1571.31,-142.41 C1571.88,-141.88 1572.45,-141.33 1573.00,-140.76 C1573.57,-140.18 1574.14,-139.58 1574.69,-138.96 C1575.25,-138.33 1575.81,-137.68 1576.36,-137.02 C1576.92,-136.35 1577.47,-135.65 1578.02,-134.95 C1578.57,-134.23 1579.12,-133.50 1579.66,-132.75 C1580.21,-131.99 1580.75,-131.22 1581.28,-130.43 C1581.83,-129.63 1582.36,-128.82 1582.89,-127.99 C1583.43,-127.16 1583.96,-126.31 1584.48,-125.45 C1585.01,-124.57 1585.53,-123.69 1586.05,-122.79 C1586.57,-121.89 1587.09,-120.97 1587.60,-120.04 C1588.12,-119.10 1588.62,-118.15 1589.13,-117.19 C1589.64,-116.22 1590.14,-115.24 1590.63,-114.25 C1591.14,-113.25 1591.63,-112.24 1592.12,-111.22 C1592.61,-110.20 1593.10,-109.16 1593.58,-108.12 C1594.06,-107.07 1594.54,-106.01 1595.01,-104.94 C1595.49,-103.87 1595.96,-102.79 1596.42,-101.70 C1596.89,-100.60 1597.35,-99.50 1597.81,-98.39 C1598.26,-97.27 1598.72,-96.15 1599.16,-95.02 C1599.61,-93.89 1600.05,-92.75 1600.49,-91.60 C1600.93,-90.45 1601.36,-89.29 1601.79,-88.13 C1602.22,-86.97 1602.64,-85.80 1603.06,-84.63 C1603.48,-83.45 1603.89,-82.27 1604.30,-81.08 C1604.70,-79.89 1605.11,-78.70 1605.50,-77.50 C1605.90,-76.31 1606.29,-75.11 1606.68,-73.90 C1607.06,-72.70 1607.44,-71.49 1607.82,-70.28 C1608.19,-69.07 1608.56,-67.86 1608.92,-66.64 C1609.28,-65.43 1609.64,-64.21 1609.99,-62.99 C1610.34,-61.78 1610.69,-60.56 1611.02,-59.34 C1611.36,-58.13 1611.69,-56.91 1612.02,-55.69 C1612.35,-54.48 1612.67,-53.26 1612.98,-52.05 C1613.29,-50.84 1613.60,-49.62 1613.90,-48.41 C1614.20,-47.21 1614.49,-46.00 1614.78,-44.80 C1615.06,-43.60 1615.34,-42.40 1615.62,-41.20 C1615.89,-40.01 1616.15,-38.82 1616.41,-37.64 C1616.67,-36.46 1616.92,-35.28 1617.17,-34.10 C1617.41,-32.94 1617.65,-31.77 1617.88,-30.61 C1618.11,-29.45 1618.33,-28.30 1618.55,-27.16 C1618.76,-26.02 1618.97,-24.88 1619.17,-23.75 C1619.37,-22.63 1619.56,-21.52 1619.74,-20.41 C1619.92,-19.31 1620.10,-18.21 1620.27,-17.12 C1620.44,-16.03 1620.60,-14.96 1620.76,-13.88 C1620.91,-12.82 1621.06,-11.76 1621.20,-10.70 C1621.34,-9.65 1621.48,-8.61 1621.61,-7.57 C1621.74,-6.54 1621.87,-5.51 1621.99,-4.48 C1622.11,-3.46 1622.23,-2.45 1622.34,-1.43 C1622.45,-0.43 1622.56,0.58 1622.67,1.58 C1622.77,2.58 1622.88,3.57 1622.98,4.56 C1623.08,5.55 1623.17,6.53 1623.27,7.51 C1623.37,8.49 1623.46,9.47 1623.55,10.44 C1623.65,11.42 1623.74,12.39 1623.83,13.35 C1623.92,14.32 1624.01,15.29 1624.10,16.25 C1624.19,17.21 1624.28,18.17 1624.37,19.14 C1624.46,20.10 1624.55,21.06 1624.65,22.01 C1624.74,22.97 1624.84,23.93 1624.93,24.89 C1625.03,25.85 1625.13,26.81 1625.23,27.77 C1625.34,28.73 1625.44,29.69 1625.55,30.65 C1625.66,31.61 1625.77,32.58 1625.89,33.54 C1626.00,34.51 1626.12,35.47 1626.24,36.44 C1626.36,37.41 1626.48,38.38 1626.61,39.35 C1626.74,40.32 1626.87,41.29 1627.00,42.26 C1627.13,43.23 1627.26,44.21 1627.40,45.18 C1627.54,46.16 1627.67,47.13 1627.82,48.11 C1627.96,49.09 1628.10,50.06 1628.25,51.04 C1628.39,52.02 1628.54,53.00 1628.69,53.98 C1628.84,54.96 1628.99,55.95 1629.14,56.93 C1629.29,57.91 1629.45,58.89 1629.60,59.88 C1629.76,60.86 1629.92,61.85 1630.08,62.83 C1630.23,63.82 1630.39,64.81 1630.56,65.79 C1630.72,66.78 1630.88,67.77 1631.04,68.76 C1631.21,69.75 1631.37,70.74 1631.54,71.73 C1631.70,72.72 1631.87,73.71 1632.03,74.70 C1632.20,75.69 1632.37,76.68 1632.53,77.67 C1632.70,78.66 1632.87,79.66 1633.04,80.65 C1633.21,81.64 1633.38,82.63 1633.55,83.63 C1633.71,84.62 1633.88,85.62 1634.05,86.61 C1634.22,87.60 1634.39,88.60 1634.56,89.59 C1634.73,90.59 1634.90,91.58 1635.07,92.58 C1635.23,93.57 1635.40,94.57 1635.57,95.56 C1635.74,96.56 1635.90,97.55 1636.07,98.55 C1636.23,99.55 1636.40,100.54 1636.56,101.54 C1636.73,102.53 1636.89,103.53 1637.05,104.52 C1637.22,105.52 1637.38,106.51 1637.54,107.51 C1637.70,108.51 1637.86,109.50 1638.01,110.50 C1638.17,111.49 1638.33,112.49 1638.48,113.48 C1638.64,114.47 1638.79,115.47 1638.94,116.46 C1639.09,117.46 1639.24,118.45 1639.39,119.44 C1639.53,120.44 1639.68,121.43 1639.82,122.42 C1639.97,123.42 1640.11,124.41 1640.25,125.40 C1640.38,126.39 1640.52,127.38 1640.66,128.37 C1640.79,129.36 1640.92,130.35 1641.05,131.35 C1641.18,132.33 1641.31,133.32 1641.43,134.31 C1641.55,135.30 1641.67,136.29 1641.79,137.28 C1641.91,138.26 1642.02,139.25 1642.14,140.23 C1642.25,141.22 1642.36,142.20 1642.46,143.19 C1642.57,144.17 1642.67,145.16 1642.77,146.14 C1642.87,147.12 1642.96,148.10 1643.05,149.08 C1643.14,150.06 1643.23,151.04 1643.31,152.02 C1643.40,153.00 1643.47,153.98 1643.55,154.95" stroke="#4D4D4D"/>
</g>
<line x1="284.5" y1="124" x2="284.5" y2="1210" stroke="#000" stroke-width="6.2" stroke-dasharray="20 7.3"/>
<line x1="1363.7" y1="186.7" x2="1363.7" y2="1219" stroke="#000" stroke-width="5.4" stroke-dasharray="19.5 7.8"/>
<rect x="160.2" y="28.6" width="1484.20" height="1194.90" fill="none" stroke="#000" stroke-width="5"/>
<line x1="160.20" y1="1223.5" x2="160.20" y2="1245.5" stroke="#000" stroke-width="5"/>
<line x1="531.25" y1="1223.5" x2="531.25" y2="1245.5" stroke="#000" stroke-width="5"/>
<line x1="902.30" y1="1223.5" x2="902.30" y2="1245.5" stroke="#000" stroke-width="5"/>
<line x1="1273.35" y1="1223.5" x2="1273.35" y2="1245.5" stroke="#000" stroke-width="5"/>
<line x1="1644.40" y1="1223.5" x2="1644.40" y2="1245.5" stroke="#000" stroke-width="5"/>
<line x1="345.73" y1="1223.5" x2="345.73" y2="1234.8" stroke="#000" stroke-width="4.4"/>
<line x1="716.78" y1="1223.5" x2="716.78" y2="1234.8" stroke="#000" stroke-width="4.4"/>
<line x1="1087.83" y1="1223.5" x2="1087.83" y2="1234.8" stroke="#000" stroke-width="4.4"/>
<line x1="1458.88" y1="1223.5" x2="1458.88" y2="1234.8" stroke="#000" stroke-width="4.4"/>
<text transform="translate(161.00,1302.3) scale(1,1.075)" class="tk">1500</text>
<text transform="translate(532.05,1302.3) scale(1,1.075)" class="tk">1450</text>
<text transform="translate(903.10,1302.3) scale(1,1.075)" class="tk">1400</text>
<text transform="translate(1274.15,1302.3) scale(1,1.075)" class="tk">1350</text>
<text transform="translate(1645.20,1302.3) scale(1,1.075)" class="tk">1300</text>
<g class="sf">
<text x="209" y="93" letter-spacing="-0.45">C=C in DA</text>
<text x="1247" y="93">=C-O-C=</text>
<text x="1301" y="160" letter-spacing="-1.4">in FD</text>
<text x="311" y="303.5">RT</text>
<text x="307.5" y="477.5" letter-spacing="-0.5">60°C</text>
<text x="306" y="651.5" letter-spacing="-1.7">120°C</text>
<text x="305" y="788" letter-spacing="-1.3">150°C</text>
<text x="303" y="1166">FD</text>
</g>
<g class="ax">
<text transform="translate(64.9,647) rotate(-90)" letter-spacing="1.9">Abs</text>
<text transform="translate(627.5,1404.3) scale(1,1.06)" letter-spacing="0.95">Wavenumber (cm</text>
<text transform="translate(1114.6,1378.5) scale(1.5,1)" font-size="41px">-</text>
<text x="1133" y="1378.5" font-size="41px">1</text>
<text transform="translate(1159.2,1404.3) scale(1,1.06)">)</text>
</g>
</svg>
</body></html>
